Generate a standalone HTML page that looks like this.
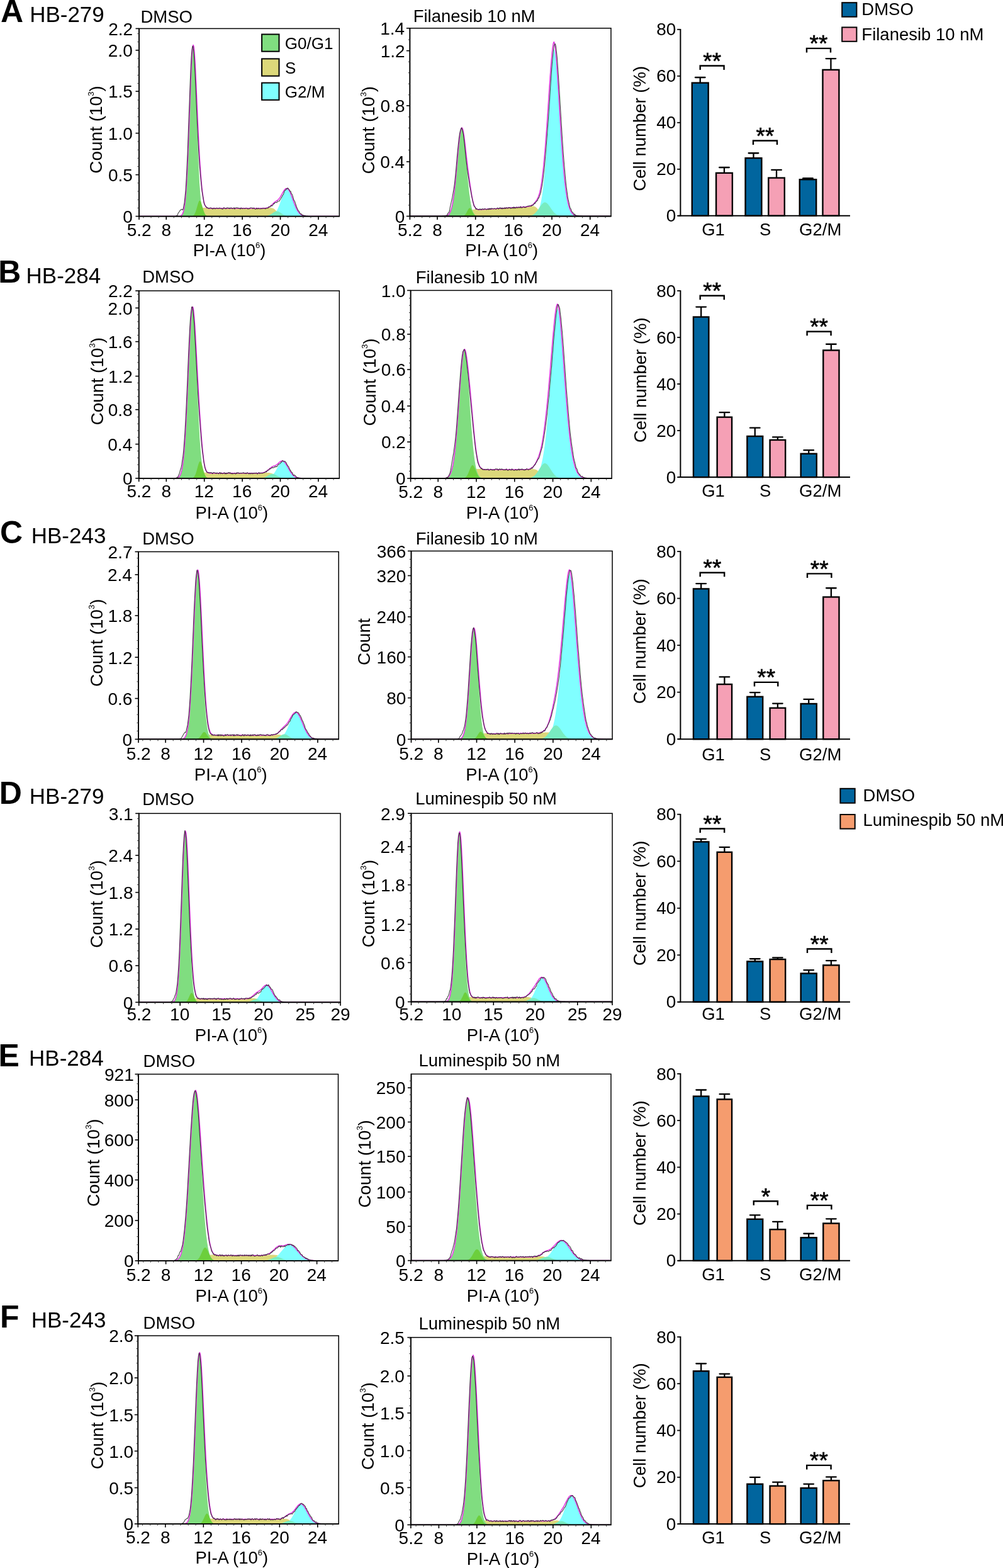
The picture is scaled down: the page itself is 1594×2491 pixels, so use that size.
<!DOCTYPE html>
<html><head><meta charset="utf-8"><title>Cell cycle analysis</title>
<style>html,body{margin:0;padding:0;background:#fff;}svg{display:block;}</style></head>
<body>
<svg xmlns="http://www.w3.org/2000/svg" width="1594" height="2491" viewBox="0 0 1594 2491" font-family="'Liberation Sans', Arial, sans-serif" fill="#000">
<rect width="1594" height="2491" fill="#fff"/>
<text x="1.05" y="35.30" font-size="50.00" font-weight="bold">A</text>
<text x="47.13" y="34.70" font-size="35.00">HB-279</text>
<text x="-2.74" y="449.20" font-size="50.00" font-weight="bold">B</text>
<text x="41.53" y="450.00" font-size="35.00">HB-284</text>
<text x="0.05" y="862.80" font-size="50.00" font-weight="bold">C</text>
<text x="49.73" y="862.70" font-size="35.00">HB-243</text>
<text x="-1.24" y="1277.00" font-size="50.00" font-weight="bold">D</text>
<text x="46.83" y="1277.00" font-size="35.00">HB-279</text>
<text x="-2.44" y="1693.80" font-size="50.00" font-weight="bold">E</text>
<text x="46.03" y="1693.00" font-size="35.00">HB-284</text>
<text x="-0.04" y="2109.20" font-size="50.00" font-weight="bold">F</text>
<text x="49.73" y="2109.00" font-size="35.00">HB-243</text>
<clipPath id="c1"><rect x="221.00" y="45.40" width="318.30" height="298.20"/></clipPath>
<g clip-path="url(#c1)">
<path d="M299,343.6L299,343.5 300,343.4 301,343.4 302,343.3 303,343.1 304,342.9 305,341.6 306,341.1 307,340.5 308,339.7 309,338.7 310,337.5 311,336.3 312,335.1 313,333.9 314,332.9 315,332.1 316,331.5 317,331 318,330.7 319,330.5 320,330.3 321,330.2 322,330.2 323,330.1 324,330.1 325,330 326,330 327,330 328,330 329,330.5 330,330.9 331,331.1 332,331.2 333,331.3 334,331.3 335,331.3 336,331.3 337,331.3 338,331.3 339,331.3 340,331.3 341,331.3 342,331.3 343,331.3 344,331.3 345,331.3 346,331.3 347,331.3 348,331.3 349,331.3 350,331.3 351,331.3 352,331.3 353,331.3 354,331.3 355,331.3 356,331.3 357,331.3 358,331.3 359,331.3 360,331.3 361,331.3 362,331.3 363,331.3 364,331.3 365,331.3 366,331.3 367,331.3 368,331.3 369,331.3 370,331.3 371,331.3 372,331.3 373,331.3 374,331.3 375,331.3 376,331.3 377,331.3 378,331.3 379,331.3 380,331.3 381,331.3 382,331.3 383,331.3 384,331.3 385,331.3 386,331.3 387,331.3 388,331.3 389,331.3 390,331.3 391,331.3 392,331.3 393,331.3 394,331.3 395,331.3 396,331.3 397,331.3 398,331.3 399,331.3 400,331.3 401,331.3 402,331.3 403,331.3 404,331.3 405,331.3 406,331.3 407,331.3 408,331.3 409,331.3 410,331.3 411,331.3 412,331.3 413,331.3 414,331.3 415,331.3 416,331.3 417,331.3 418,331.2 419,331.2 420,331.1 421,331.1 422,330.9 423,330.8 424,330.6 425,330.3 426,330 427,330.1 428,330.1 429,330.2 430,330.2 431,330.3 432,330.5 433,330.7 434,331 435,331.5 436,332.1 437,332.9 438,333.9 439,335.1 440,336.3 441,337.5 442,338.7 443,339.7 444,340.5 445,341.1 446,341.6 447,342.9 448,343.1 449,343.3 450,343.4 451,343.4 452,343.5 452,343.6 Z" fill="#dcd87a" stroke="none" stroke-width="1.00"/>
<path d="M285,343.6L285,343.5 286,343.4 287,343.1 288,342.8 289,342.1 290,340.9 291,339.1 292,336.2 293,331.8 294,325.5 295,316.6 296,304.6 297,289.1 298,269.8 299,246.7 300,220.5 301,192.2 302,163.1 303,135.2 304,110.6 305,91.2 306,78.9 307,74.6 308,78.9 309,91.2 310,110.6 311,135.2 312,163.1 313,192.2 314,220.5 315,246.7 316,269.8 317,289.1 318,304.6 319,316.6 320,325.5 321,331.8 322,336.2 323,339.1 324,340.9 325,342.1 326,342.8 327,343.1 328,343.4 329,343.5 329,343.6 Z" fill="#80dd80" stroke="none" stroke-width="1.00"/>
<path d="M425,343.6L425,343.5 426,343.4 427,343.3 428,343.2 429,343 430,342.8 431,342.6 432,342.2 433,341.8 434,341.2 435,340.5 436,339.6 437,338.6 438,337.4 439,335.9 440,334.3 441,332.4 442,330.3 443,328 444,325.5 445,322.8 446,320 447,317.2 448,314.4 449,311.7 450,309.1 451,306.8 452,304.8 453,303.1 454,301.9 455,301.1 456,300.9 457,301.1 458,301.9 459,303.1 460,304.8 461,306.8 462,309.1 463,311.7 464,314.4 465,317.2 466,320 467,322.8 468,325.5 469,328 470,330.3 471,332.4 472,334.3 473,335.9 474,337.4 475,338.6 476,339.6 477,340.5 478,341.2 479,341.8 480,342.2 481,342.6 482,342.8 483,343 484,343.2 485,343.3 486,343.4 487,343.5 487,343.6 Z" fill="#80ffff" stroke="none" stroke-width="1.00"/>
<path d="M304,343.6L304,343.5 305,343.3 306,343 307,342.5 308,341.7 309,340.4 310,338.5 311,336.1 312,333 313,329.5 314,325.9 315,322.7 316,320.1 317,318.8 318,318.8 319,320.1 320,322.7 321,325.9 322,329.5 323,333 324,336.1 325,338.5 326,340.4 327,341.7 328,342.5 329,343 330,343.3 331,343.5 331,343.6 Z" fill="#6ccf3c" stroke="none" stroke-width="1.00"/>
<path d="M420,343.6L420,343.5 421,343.4 422,343.3 423,343.2 424,343 425,342.8 426,342.5 427,342.2 428,341.8 429,341.3 430,340.7 431,340.1 432,339.4 433,338.7 434,338.1 435,337.4 436,336.8 437,336.3 438,335.9 439,335.7 440,335.6 441,335.7 442,335.9 443,336.3 444,336.8 445,337.4 446,338.1 447,338.7 448,339.4 449,340.1 450,340.7 451,341.3 452,341.8 453,342.2 454,342.5 455,342.8 456,343 457,343.2 458,343.3 459,343.4 460,343.5 460,343.6 Z" fill="#78ecc0" stroke="none" stroke-width="1.00"/>
<path d="M222,343.6 223,343.6 224,343.6 225,343.6 226,343.6 227,343.6 228,343.6 229,343.6 230,343.6 231,343.6 232,343.6 233,343.6 234,343.6 235,343.6 236,343.6 237,343.6 238,343.6 239,343.6 240,343.6 241,343.6 242,343.6 243,343.6 244,343.6 245,343.6 246,343.6 247,343.6 248,343.6 249,343.6 250,343.6 251,343.6 252,343.6 253,343.6 254,343.6 255,343.6 256,343.6 257,343.6 258,343.6 259,343.6 260,343.6 261,343.6 262,343.6 263,343.6 264,343.6 265,343.6 266,343.6 267,343.6 268,343.6 269,343.6 270,343.6 271,343.6 272,343.6 273,343.6 274,343.6 275,343.6 276,343.6 277,343.6 278,343.6 279,343.6 280,343.6 281,343.6 282,343.6 283,343.5 284,343.5 285,343.4 286,343.2 287,342.9 288,342.3 289,341.4 290,339.9 291,337.6 292,334.1 293,329 294,321.8 295,311.9 296,299 297,282.7 298,262.8 299,239.6 300,213.6 301,185.8 302,157.7 303,131 304,107.4 305,88.8 306,76.5 307,71.4 308,73.7 309,83 310,98.1 311,117.7 312,139.9 313,163.3 314,186.4 315,208.3 316,228.3 317,246.4 318,262.4 319,276.4 320,288.6 321,299 322,307.6 323,314.5 324,319.9 325,323.8 326,326.5 327,328.4 328,329.5 329,330.2 330,330.6 331,330.8 332,330.9 333,331 334,331 335,331 336,331 337,331 338,331 339,331 340,331 341,331 342,331 343,331 344,331 345,331 346,331 347,331 348,331 349,331 350,331 351,331 352,331 353,331 354,331 355,331 356,331 357,331 358,331 359,331 360,331 361,331 362,331 363,331 364,331 365,331 366,331 367,331 368,331 369,331 370,331 371,331 372,331 373,331 374,331 375,331 376,331 377,331 378,331 379,331 380,331 381,331 382,331 383,331 384,331 385,331 386,331 387,331 388,331 389,331 390,331 391,331 392,331 393,331 394,331 395,331 396,331 397,331 398,331 399,331 400,331 401,331 402,331 403,331 404,331 405,331 406,331 407,331 408,331 409,331 410,331 411,331 412,331 413,331 414,331 415,331 416,331 417,331 418,330.9 419,330.9 420,330.8 421,330.8 422,330.6 423,330.5 424,330.3 425,330 426,329.7 427,329.2 428,328.7 429,328.1 430,327.3 431,326.5 432,325.5 433,324.5 434,323.5 435,322.5 436,321.6 437,320.7 438,320 439,319.3 440,318.7 441,318.1 442,317.3 443,316.3 444,315.1 445,313.6 446,312 447,310.2 448,308.4 449,306.5 450,304.8 451,303.2 452,301.8 453,300.6 454,299.8 455,299.4 456,299.4 457,299.8 458,300.7 459,301.9 460,303.6 461,305.5 462,307.8 463,310.3 464,313 465,315.8 466,318.5 467,321.3 468,324 469,326.5 470,328.9 471,331.1 472,333 473,334.8 474,336.4 475,337.7 476,338.8 477,339.8 478,340.6 479,341.3 480,341.8 481,342.2 482,342.6 483,342.8 484,343 485,343.2 486,343.3 487,343.4 488,343.5 489,343.5 490,343.5 491,343.6 492,343.6 493,343.6 494,343.6 495,343.6 496,343.6 497,343.6 498,343.6 499,343.6 500,343.6 501,343.6 502,343.6 503,343.6 504,343.6 505,343.6 506,343.6 507,343.6 508,343.6 509,343.6 510,343.6 511,343.6 512,343.6 513,343.6 514,343.6 515,343.6 516,343.6 517,343.6 518,343.6 519,343.6 520,343.6 521,343.6 522,343.6 523,343.6 524,343.6 525,343.6 526,343.6 527,343.6 528,343.6 529,343.6 530,343.6 531,343.6 532,343.6 533,343.6 534,343.6 535,343.6 536,343.6 537,343.6 538,343.6" fill="none" stroke="#e030e0" stroke-width="1.50" stroke-linejoin="round"/>
<path d="M222,343.6 223,343.6 224,343.6 225,343.6 226,343.6 227,343.6 228,343.6 229,343.6 230,343.6 231,343.6 232,343.6 233,343.6 234,343.6 235,343.6 236,343.6 237,343.6 238,343.6 239,343.6 240,343.6 241,343.6 242,343.6 243,343.6 244,343.6 245,343.6 246,343.6 247,343.6 248,343.6 249,343.6 250,343.6 251,343.6 252,343.6 253,343.6 254,343.6 255,343.6 256,343.6 257,343.6 258,343.6 259,343.6 260,343.6 261,343.6 262,343.6 263,343.6 264,343.6 265,343.6 266,343.6 267,343.6 268,343.6 269,343.6 270,343.6 271,343.6 272,343.6 273,343.6 274,343.6 275,343.6 276,343.6 277,343.6 278,343.5 279,343.3 280,343 281,342.4 282,342.2 283,339 284,337.3 285,336.6 286,334.5 287,333.6 288,332.8 289,332.4 290,333.7 291,332.4 292,327.1 293,322.3 294,312.9 295,302.8 296,286.3 297,266.5 298,245.2 299,217.9 300,190.6 301,164.5 302,137.4 303,111.9 304,91.4 305,79.2 306,73.3 307,74.1 308,83.5 309,97.7 310,116.6 311,138.8 312,162.9 313,186.2 314,208 315,227.2 316,245 317,260.9 318,272.1 319,284.3 320,294.2 321,303.9 322,309.3 323,315.6 324,322 325,325 326,326.5 327,328.1 328,328.6 329,330.5 330,329.9 331,330.4 332,331.4 333,330.8 334,330.1 335,330.2 336,331 337,330.8 338,332.1 339,331.6 340,330.3 341,331.2 342,331.8 343,330.9 344,330.5 345,330.6 346,331.3 347,331.1 348,331 349,330.3 350,330.9 351,331.3 352,331 353,332.1 354,332.1 355,330.5 356,329.8 357,330.8 358,331.3 359,331.8 360,331 361,329.8 362,330.4 363,330.9 364,330.1 365,331.6 366,331 367,329.9 368,330.8 369,331.1 370,331.6 371,330.9 372,329.9 373,332.2 374,330.3 375,330.2 376,330.1 377,330.4 378,330.3 379,331 380,330.9 381,331.2 382,332.1 383,330.1 384,330.8 385,331.7 386,331 387,331 388,331.3 389,331.4 390,330.9 391,330.7 392,330.7 393,331.1 394,332.1 395,331.6 396,331.8 397,330.8 398,330.1 399,330.3 400,330.3 401,330.2 402,331.6 403,330.2 404,330.6 405,332 406,332.2 407,332.2 408,330.4 409,331.6 410,331.9 411,330.7 412,331.4 413,332 414,331.8 415,330.9 416,331.8 417,331.5 418,330.4 419,331 420,331.3 421,330.8 422,331.8 423,330.8 424,330.5 425,330.8 426,330.7 427,328.4 428,328.9 429,329 430,327.4 431,326.2 432,327.3 433,326.5 434,325.3 435,323.1 436,323.8 437,321.9 438,321.5 439,321.5 440,322 441,319.8 442,319.8 443,319.7 444,319.5 445,317.2 446,316.3 447,314.2 448,312.9 449,310.2 450,309.6 451,307.1 452,303.7 453,302.2 454,302.2 455,299.8 456,300.4 457,298.6 458,299.2 459,300.5 460,301.9 461,303.9 462,303.7 463,307.8 464,308.3 465,310.6 466,314.2 467,317.9 468,319 469,321.5 470,324.8 471,327.7 472,330.3 473,332.4 474,334.7 475,335.2 476,337.2 477,339 478,340.3 479,339.8 480,341.5 481,341.6 482,342 483,342.4 484,342.7 485,342.9 486,343.1 487,343.2 488,343.3 489,343.4 490,343.5 491,343.5 492,343.5 493,343.6 494,343.6 495,343.6 496,343.6 497,343.6 498,343.6 499,343.6 500,343.6 501,343.6 502,343.6 503,343.6 504,343.6 505,343.6 506,343.6 507,343.6 508,343.6 509,343.6 510,343.6 511,343.6 512,343.6 513,343.6 514,343.6 515,343.6 516,343.6 517,343.6 518,343.6 519,343.6 520,343.6 521,343.6 522,343.6 523,343.6 524,343.6 525,343.6 526,343.6 527,343.6 528,343.6 529,343.6 530,343.6 531,343.6 532,343.6 533,343.6 534,343.6 535,343.6 536,343.6 537,343.6 538,343.6" fill="none" stroke="#1a1a1a" stroke-width="1.10" stroke-linejoin="round" stroke-opacity="0.8"/>
</g>
<rect x="221.00" y="45.40" width="318.30" height="298.20" fill="none" stroke="#000" stroke-width="1.5"/>
<line x1="221.00" y1="44.90" x2="221.00" y2="344.10" stroke="#000" stroke-width="1.70"/>
<line x1="220.50" y1="343.60" x2="539.80" y2="343.60" stroke="#000" stroke-width="1.80"/>
<line x1="215.50" y1="45.40" x2="221.00" y2="45.40" stroke="#000" stroke-width="1.60"/>
<text x="172.18" y="55.70" font-size="28.00">2.2</text>
<line x1="215.50" y1="79.80" x2="221.00" y2="79.80" stroke="#000" stroke-width="1.60"/>
<text x="171.87" y="90.10" font-size="28.00">2.0</text>
<line x1="215.50" y1="145.10" x2="221.00" y2="145.10" stroke="#000" stroke-width="1.60"/>
<text x="171.95" y="155.40" font-size="28.00">1.5</text>
<line x1="215.50" y1="211.60" x2="221.00" y2="211.60" stroke="#000" stroke-width="1.60"/>
<text x="171.87" y="221.90" font-size="28.00">1.0</text>
<line x1="215.50" y1="277.60" x2="221.00" y2="277.60" stroke="#000" stroke-width="1.60"/>
<text x="171.95" y="287.90" font-size="28.00">0.5</text>
<line x1="215.50" y1="343.60" x2="221.00" y2="343.60" stroke="#000" stroke-width="1.60"/>
<text x="195.22" y="353.90" font-size="28.00">0</text>
<line x1="218.40" y1="330.41" x2="221.00" y2="330.41" stroke="#333" stroke-width="1.00"/>
<line x1="218.40" y1="317.22" x2="221.00" y2="317.22" stroke="#333" stroke-width="1.00"/>
<line x1="218.40" y1="304.03" x2="221.00" y2="304.03" stroke="#333" stroke-width="1.00"/>
<line x1="218.40" y1="290.84" x2="221.00" y2="290.84" stroke="#333" stroke-width="1.00"/>
<line x1="218.40" y1="264.46" x2="221.00" y2="264.46" stroke="#333" stroke-width="1.00"/>
<line x1="218.40" y1="251.27" x2="221.00" y2="251.27" stroke="#333" stroke-width="1.00"/>
<line x1="218.40" y1="238.08" x2="221.00" y2="238.08" stroke="#333" stroke-width="1.00"/>
<line x1="218.40" y1="224.89" x2="221.00" y2="224.89" stroke="#333" stroke-width="1.00"/>
<line x1="218.40" y1="198.51" x2="221.00" y2="198.51" stroke="#333" stroke-width="1.00"/>
<line x1="218.40" y1="185.32" x2="221.00" y2="185.32" stroke="#333" stroke-width="1.00"/>
<line x1="218.40" y1="172.13" x2="221.00" y2="172.13" stroke="#333" stroke-width="1.00"/>
<line x1="218.40" y1="158.94" x2="221.00" y2="158.94" stroke="#333" stroke-width="1.00"/>
<line x1="218.40" y1="132.56" x2="221.00" y2="132.56" stroke="#333" stroke-width="1.00"/>
<line x1="218.40" y1="119.37" x2="221.00" y2="119.37" stroke="#333" stroke-width="1.00"/>
<line x1="218.40" y1="106.18" x2="221.00" y2="106.18" stroke="#333" stroke-width="1.00"/>
<line x1="218.40" y1="92.99" x2="221.00" y2="92.99" stroke="#333" stroke-width="1.00"/>
<line x1="218.40" y1="66.61" x2="221.00" y2="66.61" stroke="#333" stroke-width="1.00"/>
<line x1="218.40" y1="53.42" x2="221.00" y2="53.42" stroke="#333" stroke-width="1.00"/>
<line x1="221.00" y1="343.60" x2="221.00" y2="349.10" stroke="#000" stroke-width="1.60"/>
<text x="201.68" y="374.60" font-size="28.00">5.2</text>
<line x1="264.20" y1="343.60" x2="264.20" y2="349.10" stroke="#000" stroke-width="1.60"/>
<text x="256.41" y="374.60" font-size="28.00">8</text>
<line x1="324.65" y1="343.60" x2="324.65" y2="349.10" stroke="#000" stroke-width="1.60"/>
<text x="308.72" y="374.60" font-size="28.00">12</text>
<line x1="385.10" y1="343.60" x2="385.10" y2="349.10" stroke="#000" stroke-width="1.60"/>
<text x="369.08" y="374.60" font-size="28.00">16</text>
<line x1="445.55" y1="343.60" x2="445.55" y2="349.10" stroke="#000" stroke-width="1.60"/>
<text x="429.82" y="374.60" font-size="28.00">20</text>
<line x1="506.00" y1="343.60" x2="506.00" y2="349.10" stroke="#000" stroke-width="1.60"/>
<text x="490.13" y="374.60" font-size="28.00">24</text>
<line x1="227.93" y1="343.60" x2="227.93" y2="346.40" stroke="#333" stroke-width="1.00"/>
<line x1="240.02" y1="343.60" x2="240.02" y2="346.40" stroke="#333" stroke-width="1.00"/>
<line x1="252.11" y1="343.60" x2="252.11" y2="346.40" stroke="#333" stroke-width="1.00"/>
<line x1="276.29" y1="343.60" x2="276.29" y2="346.40" stroke="#333" stroke-width="1.00"/>
<line x1="288.38" y1="343.60" x2="288.38" y2="346.40" stroke="#333" stroke-width="1.00"/>
<line x1="300.47" y1="343.60" x2="300.47" y2="346.40" stroke="#333" stroke-width="1.00"/>
<line x1="312.56" y1="343.60" x2="312.56" y2="346.40" stroke="#333" stroke-width="1.00"/>
<line x1="336.74" y1="343.60" x2="336.74" y2="346.40" stroke="#333" stroke-width="1.00"/>
<line x1="348.83" y1="343.60" x2="348.83" y2="346.40" stroke="#333" stroke-width="1.00"/>
<line x1="360.92" y1="343.60" x2="360.92" y2="346.40" stroke="#333" stroke-width="1.00"/>
<line x1="373.01" y1="343.60" x2="373.01" y2="346.40" stroke="#333" stroke-width="1.00"/>
<line x1="397.19" y1="343.60" x2="397.19" y2="346.40" stroke="#333" stroke-width="1.00"/>
<line x1="409.28" y1="343.60" x2="409.28" y2="346.40" stroke="#333" stroke-width="1.00"/>
<line x1="421.37" y1="343.60" x2="421.37" y2="346.40" stroke="#333" stroke-width="1.00"/>
<line x1="433.46" y1="343.60" x2="433.46" y2="346.40" stroke="#333" stroke-width="1.00"/>
<line x1="457.64" y1="343.60" x2="457.64" y2="346.40" stroke="#333" stroke-width="1.00"/>
<line x1="469.73" y1="343.60" x2="469.73" y2="346.40" stroke="#333" stroke-width="1.00"/>
<line x1="481.82" y1="343.60" x2="481.82" y2="346.40" stroke="#333" stroke-width="1.00"/>
<line x1="493.91" y1="343.60" x2="493.91" y2="346.40" stroke="#333" stroke-width="1.00"/>
<line x1="518.09" y1="343.60" x2="518.09" y2="346.40" stroke="#333" stroke-width="1.00"/>
<line x1="530.18" y1="343.60" x2="530.18" y2="346.40" stroke="#333" stroke-width="1.00"/>
<text x="223.44" y="36.00" font-size="27.50">DMSO</text>
<text transform="translate(162.10,206.00) rotate(-90)" x="-69.76" y="0" font-size="28">Count (10<tspan font-size="13" dy="-13">3</tspan><tspan dy="13">)</tspan></text>
<text x="306.74" y="407.10" font-size="27.50">PI-A (10<tspan font-size="13" dy="-13">6</tspan><tspan dy="13">)</tspan></text>
<clipPath id="c2"><rect x="651.40" y="44.80" width="319.60" height="298.70"/></clipPath>
<g clip-path="url(#c2)">
<path d="M734.4,343.5L734.4,343.4 735.4,343.3 736.4,343.2 737.4,343.1 738.4,342.9 739.4,342.6 740.4,341.2 741.4,340.7 742.4,340 743.4,339.2 744.4,338.3 745.4,337.4 746.4,336.4 747.4,335.5 748.4,334.8 749.4,334.2 750.4,333.7 751.4,333.3 752.4,333.1 753.4,332.8 754.4,332.7 755.4,332.5 756.4,332.4 757.4,332.3 758.4,332.7 759.4,333 760.4,333.1 761.4,333.2 762.4,333.2 763.4,333.2 764.4,333.1 765.4,333.1 766.4,333 767.4,333 768.4,332.9 769.4,332.9 770.4,332.8 771.4,332.8 772.4,332.7 773.4,332.6 774.4,332.6 775.4,332.5 776.4,332.5 777.4,332.4 778.4,332.3 779.4,332.3 780.4,332.2 781.4,332.2 782.4,332.1 783.4,332.1 784.4,332 785.4,331.9 786.4,331.9 787.4,331.8 788.4,331.8 789.4,331.7 790.4,331.6 791.4,331.6 792.4,331.5 793.4,331.5 794.4,331.4 795.4,331.3 796.4,331.3 797.4,331.2 798.4,331.2 799.4,331.1 800.4,331.1 801.4,331 802.4,330.9 803.4,330.9 804.4,330.8 805.4,330.8 806.4,330.7 807.4,330.6 808.4,330.6 809.4,330.5 810.4,330.5 811.4,330.4 812.4,330.4 813.4,330.3 814.4,330.2 815.4,330.2 816.4,330.1 817.4,330.1 818.4,330 819.4,329.9 820.4,329.9 821.4,329.8 822.4,329.8 823.4,329.7 824.4,329.6 825.4,329.6 826.4,329.5 827.4,329.5 828.4,329.4 829.4,329.3 830.4,329.3 831.4,329.2 832.4,329.2 833.4,329.1 834.4,329 835.4,328.9 836.4,328.8 837.4,328.7 838.4,328.6 839.4,328.4 840.4,328.2 841.4,328 842.4,327.7 843.4,327.3 844.4,327.3 845.4,327.3 846.4,327.4 847.4,327.5 848.4,327.7 849.4,327.9 850.4,328.3 851.4,328.9 852.4,329.7 853.4,330.8 854.4,332.1 855.4,333.6 856.4,335.1 857.4,336.7 858.4,338.1 859.4,339.2 860.4,340.2 861.4,340.8 862.4,341.4 863.4,342.7 864.4,343 865.4,343.1 866.4,343.3 867.4,343.3 868.4,343.4 868.4,343.5 Z" fill="#dcd87a" stroke="none" stroke-width="1.00"/>
<path d="M706.4,343.5L706.4,343.4 707.4,343.3 708.4,343.2 709.4,343.1 710.4,342.8 711.4,342.4 712.4,341.9 713.4,341.1 714.4,339.9 715.4,338.3 716.4,336.2 717.4,333.4 718.4,329.7 719.4,325.1 720.4,319.5 721.4,312.7 722.4,304.6 723.4,295.5 724.4,285.2 725.4,274.2 726.4,262.6 727.4,250.9 728.4,239.4 729.4,228.8 730.4,219.4 731.4,211.9 732.4,206.5 733.4,203.6 734.4,203.3 735.4,205.7 736.4,210.6 737.4,217.8 738.4,226.8 739.4,237.2 740.4,248.5 741.4,260.3 742.4,271.9 743.4,283.1 744.4,293.5 745.4,302.9 746.4,311.1 747.4,318.2 748.4,324.1 749.4,328.9 750.4,332.7 751.4,335.7 752.4,338 753.4,339.6 754.4,340.9 755.4,341.7 756.4,342.3 757.4,342.7 758.4,343 759.4,343.2 760.4,343.3 761.4,343.4 761.4,343.5 Z" fill="#80dd80" stroke="none" stroke-width="1.00"/>
<path d="M841.4,343.5L841.4,343.4 842.4,343.3 843.4,343.2 844.4,343.1 845.4,343 846.4,342.8 847.4,342.6 848.4,342.2 849.4,341.8 850.4,341.2 851.4,340.5 852.4,339.5 853.4,338.3 854.4,336.8 855.4,335 856.4,332.6 857.4,329.7 858.4,326.3 859.4,322.1 860.4,317.1 861.4,311.2 862.4,304.3 863.4,296.3 864.4,287.2 865.4,276.9 866.4,265.4 867.4,252.7 868.4,238.8 869.4,224 870.4,208.2 871.4,191.8 872.4,175.1 873.4,158.3 874.4,141.8 875.4,126.2 876.4,111.8 877.4,99.2 878.4,89 879.4,81.7 880.4,78.1 881.4,79.7 882.4,85.7 883.4,94.8 884.4,106.5 885.4,120.3 886.4,135.5 887.4,151.6 888.4,168.3 889.4,185.2 890.4,201.7 891.4,217.8 892.4,233 893.4,247.3 894.4,260.4 895.4,272.4 896.4,283.2 897.4,292.8 898.4,301.2 899.4,308.5 900.4,314.8 901.4,320.2 902.4,324.7 903.4,328.4 904.4,331.5 905.4,334.1 906.4,336.1 907.4,337.8 908.4,339.1 909.4,340.1 910.4,341 911.4,341.6 912.4,342.1 913.4,342.4 914.4,342.7 915.4,342.9 916.4,343.1 917.4,343.2 918.4,343.3 919.4,343.3 920.4,343.4 920.4,343.5 Z" fill="#80ffff" stroke="none" stroke-width="1.00"/>
<path d="M734.4,343.5L734.4,343.4 735.4,343.2 736.4,343 737.4,342.5 738.4,341.8 739.4,340.8 740.4,339.4 741.4,337.7 742.4,335.8 743.4,333.9 744.4,332.2 745.4,331 746.4,330.5 747.4,330.8 748.4,331.9 749.4,333.5 750.4,335.4 751.4,337.4 752.4,339.1 753.4,340.6 754.4,341.7 755.4,342.4 756.4,342.9 757.4,343.2 758.4,343.3 759.4,343.4 759.4,343.5 Z" fill="#6ccf3c" stroke="none" stroke-width="1.00"/>
<path d="M837.4,343.5L837.4,343.4 838.4,343.3 839.4,343.2 840.4,343.1 841.4,343 842.4,342.8 843.4,342.6 844.4,342.3 845.4,341.9 846.4,341.4 847.4,340.9 848.4,340.2 849.4,339.5 850.4,338.6 851.4,337.6 852.4,336.5 853.4,335.2 854.4,333.9 855.4,332.5 856.4,331 857.4,329.6 858.4,328.1 859.4,326.7 860.4,325.4 861.4,324.2 862.4,323.2 863.4,322.4 864.4,321.8 865.4,321.5 866.4,321.5 867.4,321.8 868.4,322.3 869.4,323 870.4,324 871.4,325.1 872.4,326.4 873.4,327.8 874.4,329.3 875.4,330.7 876.4,332.2 877.4,333.6 878.4,335 879.4,336.2 880.4,337.4 881.4,338.4 882.4,339.3 883.4,340.1 884.4,340.8 885.4,341.3 886.4,341.8 887.4,342.2 888.4,342.5 889.4,342.8 890.4,342.9 891.4,343.1 892.4,343.2 893.4,343.3 894.4,343.3 895.4,343.4 895.4,343.5 Z" fill="#78ecc0" stroke="none" stroke-width="1.00"/>
<path d="M652.4,343.5 653.4,343.5 654.4,343.5 655.4,343.5 656.4,343.5 657.4,343.5 658.4,343.5 659.4,343.5 660.4,343.5 661.4,343.5 662.4,343.5 663.4,343.5 664.4,343.5 665.4,343.5 666.4,343.5 667.4,343.5 668.4,343.5 669.4,343.5 670.4,343.5 671.4,343.5 672.4,343.5 673.4,343.5 674.4,343.5 675.4,343.5 676.4,343.5 677.4,343.5 678.4,343.5 679.4,343.5 680.4,343.5 681.4,343.5 682.4,343.5 683.4,343.5 684.4,343.5 685.4,343.5 686.4,343.5 687.4,343.5 688.4,343.5 689.4,343.5 690.4,343.5 691.4,343.5 692.4,343.5 693.4,343.5 694.4,343.5 695.4,343.5 696.4,343.5 697.4,343.5 698.4,343.5 699.4,343.5 700.4,343.5 701.4,343.5 702.4,343.5 703.4,343.5 704.4,343.4 705.4,343.4 706.4,343.3 707.4,343.2 708.4,343.1 709.4,342.9 710.4,342.5 711.4,342 712.4,341.3 713.4,340.3 714.4,338.9 715.4,337 716.4,334.6 717.4,331.4 718.4,327.4 719.4,322.4 720.4,316.4 721.4,309.3 722.4,301 723.4,291.8 724.4,281.6 725.4,270.7 726.4,259.5 727.4,248.2 728.4,237.2 729.4,227.2 730.4,218.3 731.4,211.2 732.4,206.2 733.4,203.4 734.4,203 735.4,205 736.4,209.3 737.4,215.4 738.4,223 739.4,231.6 740.4,240.6 741.4,249.6 742.4,258.3 743.4,266.6 744.4,274.3 745.4,281.6 746.4,288.6 747.4,295.4 748.4,301.9 749.4,308.1 750.4,313.8 751.4,318.7 752.4,322.8 753.4,326 754.4,328.4 755.4,330.1 756.4,331.2 757.4,331.9 758.4,332.4 759.4,332.7 760.4,332.8 761.4,332.9 762.4,332.9 763.4,332.9 764.4,332.8 765.4,332.8 766.4,332.7 767.4,332.7 768.4,332.6 769.4,332.6 770.4,332.5 771.4,332.5 772.4,332.4 773.4,332.3 774.4,332.3 775.4,332.2 776.4,332.2 777.4,332.1 778.4,332 779.4,332 780.4,331.9 781.4,331.9 782.4,331.8 783.4,331.8 784.4,331.7 785.4,331.6 786.4,331.6 787.4,331.5 788.4,331.5 789.4,331.4 790.4,331.3 791.4,331.3 792.4,331.2 793.4,331.2 794.4,331.1 795.4,331 796.4,331 797.4,330.9 798.4,330.9 799.4,330.8 800.4,330.8 801.4,330.7 802.4,330.6 803.4,330.6 804.4,330.5 805.4,330.5 806.4,330.4 807.4,330.3 808.4,330.3 809.4,330.2 810.4,330.2 811.4,330.1 812.4,330.1 813.4,330 814.4,329.9 815.4,329.9 816.4,329.8 817.4,329.8 818.4,329.7 819.4,329.6 820.4,329.6 821.4,329.5 822.4,329.5 823.4,329.4 824.4,329.3 825.4,329.3 826.4,329.2 827.4,329.2 828.4,329.1 829.4,329 830.4,329 831.4,328.9 832.4,328.9 833.4,328.8 834.4,328.7 835.4,328.6 836.4,328.5 837.4,328.4 838.4,328.3 839.4,328.1 840.4,327.9 841.4,327.7 842.4,327.4 843.4,327 844.4,326.5 845.4,326 846.4,325.3 847.4,324.5 848.4,323.6 849.4,322.5 850.4,321.3 851.4,320 852.4,318.5 853.4,316.8 854.4,315 855.4,312.8 856.4,310.1 857.4,306.9 858.4,302.8 859.4,297.9 860.4,291.9 861.4,284.9 862.4,277 863.4,268 864.4,258 865.4,247.1 866.4,235.3 867.4,222.5 868.4,209 869.4,194.8 870.4,180 871.4,164.8 872.4,149.6 873.4,134.5 874.4,119.9 875.4,106.2 876.4,93.8 877.4,83.1 878.4,74.6 879.4,68.9 880.4,66.5 881.4,69.2 882.4,75.8 883.4,85.3 884.4,97.3 885.4,111.1 886.4,126.3 887.4,142.4 888.4,159.1 889.4,175.9 890.4,192.5 891.4,208.7 892.4,224.1 893.4,238.7 894.4,252.2 895.4,264.7 896.4,276 897.4,286.1 898.4,295.1 899.4,303 900.4,309.9 901.4,315.8 902.4,320.9 903.4,325.1 904.4,328.7 905.4,331.7 906.4,334.1 907.4,336.1 908.4,337.7 909.4,339 910.4,340 911.4,340.8 912.4,341.5 913.4,342 914.4,342.4 915.4,342.6 916.4,342.9 917.4,343 918.4,343.2 919.4,343.3 920.4,343.3 921.4,343.4 922.4,343.4 923.4,343.4 924.4,343.5 925.4,343.5 926.4,343.5 927.4,343.5 928.4,343.5 929.4,343.5 930.4,343.5 931.4,343.5 932.4,343.5 933.4,343.5 934.4,343.5 935.4,343.5 936.4,343.5 937.4,343.5 938.4,343.5 939.4,343.5 940.4,343.5 941.4,343.5 942.4,343.5 943.4,343.5 944.4,343.5 945.4,343.5 946.4,343.5 947.4,343.5 948.4,343.5 949.4,343.5 950.4,343.5 951.4,343.5 952.4,343.5 953.4,343.5 954.4,343.5 955.4,343.5 956.4,343.5 957.4,343.5 958.4,343.5 959.4,343.5 960.4,343.5 961.4,343.5 962.4,343.5 963.4,343.5 964.4,343.5 965.4,343.5 966.4,343.5 967.4,343.5 968.4,343.5 969.4,343.5" fill="none" stroke="#e030e0" stroke-width="1.50" stroke-linejoin="round"/>
<path d="M652.4,343.5 653.4,343.5 654.4,343.5 655.4,343.5 656.4,343.5 657.4,343.5 658.4,343.5 659.4,343.5 660.4,343.5 661.4,343.5 662.4,343.5 663.4,343.5 664.4,343.5 665.4,343.5 666.4,343.5 667.4,343.5 668.4,343.5 669.4,343.5 670.4,343.5 671.4,343.5 672.4,343.5 673.4,343.5 674.4,343.5 675.4,343.5 676.4,343.5 677.4,343.5 678.4,343.5 679.4,343.5 680.4,343.5 681.4,343.5 682.4,343.5 683.4,343.5 684.4,343.5 685.4,343.5 686.4,343.5 687.4,343.5 688.4,343.5 689.4,343.5 690.4,343.5 691.4,343.5 692.4,343.5 693.4,343.5 694.4,343.5 695.4,343.5 696.4,343.5 697.4,343.5 698.4,343.5 699.4,343.5 700.4,343.5 701.4,343.5 702.4,343.5 703.4,343.4 704.4,343.4 705.4,343.4 706.4,343.3 707.4,343.1 708.4,342.9 709.4,342.5 710.4,341.8 711.4,339.6 712.4,338 713.4,337.8 714.4,334.5 715.4,328.8 716.4,324.6 717.4,320 718.4,316 719.4,310.2 720.4,304.7 721.4,298.4 722.4,291.8 723.4,282.3 724.4,272.4 725.4,260.8 726.4,249.1 727.4,238.2 728.4,229 729.4,220.1 730.4,213.1 731.4,208.1 732.4,204.9 733.4,203.1 734.4,205.1 735.4,208.8 736.4,213.5 737.4,222 738.4,230.6 739.4,240.8 740.4,250.7 741.4,259.1 742.4,268 743.4,274.9 744.4,280.8 745.4,288 746.4,295.3 747.4,299.5 748.4,305.4 749.4,311 750.4,315.5 751.4,320.2 752.4,323.7 753.4,327.5 754.4,328.1 755.4,329.6 756.4,332.5 757.4,331.6 758.4,332.1 759.4,332.9 760.4,332.8 761.4,332.9 762.4,331.9 763.4,332.9 764.4,332 765.4,333.1 766.4,331.8 767.4,331.7 768.4,332.7 769.4,332.4 770.4,331.5 771.4,331.9 772.4,332.4 773.4,333 774.4,332.7 775.4,331.7 776.4,333 777.4,331.1 778.4,332.6 779.4,331 780.4,332.4 781.4,330.8 782.4,331.3 783.4,331.7 784.4,331.7 785.4,331.3 786.4,331.4 787.4,332 788.4,332.2 789.4,331.4 790.4,330.3 791.4,331 792.4,332.2 793.4,330.4 794.4,330.6 795.4,330.1 796.4,331.7 797.4,330.3 798.4,331.9 799.4,330.4 800.4,331.3 801.4,331.4 802.4,329.7 803.4,331.5 804.4,330.5 805.4,329.6 806.4,331 807.4,331 808.4,329.4 809.4,330.4 810.4,329.6 811.4,331.2 812.4,330.4 813.4,330.8 814.4,329.5 815.4,330.9 816.4,328.7 817.4,330.9 818.4,329.2 819.4,330.8 820.4,330.2 821.4,328.8 822.4,330.3 823.4,330.2 824.4,328.9 825.4,329.6 826.4,330.3 827.4,328 828.4,329.9 829.4,330.2 830.4,329.4 831.4,328.6 832.4,328.3 833.4,329.7 834.4,329.1 835.4,329.8 836.4,328.7 837.4,327.8 838.4,327.7 839.4,327.2 840.4,327.4 841.4,326.9 842.4,327 843.4,327.2 844.4,327.4 845.4,325.9 846.4,326.1 847.4,326 848.4,324.4 849.4,322.4 850.4,323.3 851.4,321.1 852.4,320.4 853.4,318.9 854.4,318.4 855.4,314.9 856.4,314.6 857.4,311.4 858.4,308.7 859.4,305.8 860.4,299.8 861.4,295.2 862.4,288.9 863.4,281.5 864.4,272.9 865.4,263.9 866.4,252.4 867.4,241.7 868.4,228.6 869.4,215.9 870.4,202.2 871.4,189.7 872.4,174.5 873.4,159.9 874.4,144 875.4,129.1 876.4,114.4 877.4,101.5 878.4,90.8 879.4,80.6 880.4,73 881.4,70 882.4,69.7 883.4,73.5 884.4,82.2 885.4,91.4 886.4,105.3 887.4,120.1 888.4,135.5 889.4,151.8 890.4,168.5 891.4,184.4 892.4,200.9 893.4,217.1 894.4,231.3 895.4,246.4 896.4,257.7 897.4,269.4 898.4,280.7 899.4,290.9 900.4,299.2 901.4,306.4 902.4,314 903.4,318.6 904.4,323 905.4,327.8 906.4,331.2 907.4,332.2 908.4,335.5 909.4,336.9 910.4,337.4 911.4,339.3 912.4,341 913.4,340 914.4,341.7 915.4,342.2 916.4,342.5 917.4,342.8 918.4,343 919.4,343.1 920.4,343.2 921.4,343.3 922.4,343.4 923.4,343.4 924.4,343.4 925.4,343.4 926.4,343.5 927.4,343.5 928.4,343.5 929.4,343.5 930.4,343.5 931.4,343.5 932.4,343.5 933.4,343.5 934.4,343.5 935.4,343.5 936.4,343.5 937.4,343.5 938.4,343.5 939.4,343.5 940.4,343.5 941.4,343.5 942.4,343.5 943.4,343.5 944.4,343.5 945.4,343.5 946.4,343.5 947.4,343.5 948.4,343.5 949.4,343.5 950.4,343.5 951.4,343.5 952.4,343.5 953.4,343.5 954.4,343.5 955.4,343.5 956.4,343.5 957.4,343.5 958.4,343.5 959.4,343.5 960.4,343.5 961.4,343.5 962.4,343.5 963.4,343.5 964.4,343.5 965.4,343.5 966.4,343.5 967.4,343.5 968.4,343.5 969.4,343.5" fill="none" stroke="#1a1a1a" stroke-width="1.10" stroke-linejoin="round" stroke-opacity="0.8"/>
</g>
<rect x="651.40" y="44.80" width="319.60" height="298.70" fill="none" stroke="#000" stroke-width="1.5"/>
<line x1="651.40" y1="44.30" x2="651.40" y2="344.00" stroke="#000" stroke-width="1.70"/>
<line x1="650.90" y1="343.50" x2="971.50" y2="343.50" stroke="#000" stroke-width="1.80"/>
<line x1="645.90" y1="44.80" x2="651.40" y2="44.80" stroke="#000" stroke-width="1.60"/>
<text x="604.20" y="55.10" font-size="28.00">1.4</text>
<line x1="645.90" y1="80.60" x2="651.40" y2="80.60" stroke="#000" stroke-width="1.60"/>
<text x="604.78" y="90.90" font-size="28.00">1.2</text>
<line x1="645.90" y1="167.90" x2="651.40" y2="167.90" stroke="#000" stroke-width="1.60"/>
<text x="604.59" y="178.20" font-size="28.00">0.8</text>
<line x1="645.90" y1="256.90" x2="651.40" y2="256.90" stroke="#000" stroke-width="1.60"/>
<text x="604.20" y="267.20" font-size="28.00">0.4</text>
<line x1="645.90" y1="343.50" x2="651.40" y2="343.50" stroke="#000" stroke-width="1.60"/>
<text x="627.82" y="353.80" font-size="28.00">0</text>
<line x1="648.80" y1="325.97" x2="651.40" y2="325.97" stroke="#333" stroke-width="1.00"/>
<line x1="648.80" y1="308.45" x2="651.40" y2="308.45" stroke="#333" stroke-width="1.00"/>
<line x1="648.80" y1="290.92" x2="651.40" y2="290.92" stroke="#333" stroke-width="1.00"/>
<line x1="648.80" y1="273.39" x2="651.40" y2="273.39" stroke="#333" stroke-width="1.00"/>
<line x1="648.80" y1="238.34" x2="651.40" y2="238.34" stroke="#333" stroke-width="1.00"/>
<line x1="648.80" y1="220.81" x2="651.40" y2="220.81" stroke="#333" stroke-width="1.00"/>
<line x1="648.80" y1="203.29" x2="651.40" y2="203.29" stroke="#333" stroke-width="1.00"/>
<line x1="648.80" y1="185.76" x2="651.40" y2="185.76" stroke="#333" stroke-width="1.00"/>
<line x1="648.80" y1="150.71" x2="651.40" y2="150.71" stroke="#333" stroke-width="1.00"/>
<line x1="648.80" y1="133.18" x2="651.40" y2="133.18" stroke="#333" stroke-width="1.00"/>
<line x1="648.80" y1="115.65" x2="651.40" y2="115.65" stroke="#333" stroke-width="1.00"/>
<line x1="648.80" y1="98.13" x2="651.40" y2="98.13" stroke="#333" stroke-width="1.00"/>
<line x1="648.80" y1="63.07" x2="651.40" y2="63.07" stroke="#333" stroke-width="1.00"/>
<line x1="651.40" y1="343.50" x2="651.40" y2="349.00" stroke="#000" stroke-width="1.60"/>
<text x="632.08" y="374.50" font-size="28.00">5.2</text>
<line x1="695.00" y1="343.50" x2="695.00" y2="349.00" stroke="#000" stroke-width="1.60"/>
<text x="687.21" y="374.50" font-size="28.00">8</text>
<line x1="755.70" y1="343.50" x2="755.70" y2="349.00" stroke="#000" stroke-width="1.60"/>
<text x="739.77" y="374.50" font-size="28.00">12</text>
<line x1="816.40" y1="343.50" x2="816.40" y2="349.00" stroke="#000" stroke-width="1.60"/>
<text x="800.38" y="374.50" font-size="28.00">16</text>
<line x1="877.10" y1="343.50" x2="877.10" y2="349.00" stroke="#000" stroke-width="1.60"/>
<text x="861.37" y="374.50" font-size="28.00">20</text>
<line x1="937.80" y1="343.50" x2="937.80" y2="349.00" stroke="#000" stroke-width="1.60"/>
<text x="921.93" y="374.50" font-size="28.00">24</text>
<line x1="658.58" y1="343.50" x2="658.58" y2="346.30" stroke="#333" stroke-width="1.00"/>
<line x1="670.72" y1="343.50" x2="670.72" y2="346.30" stroke="#333" stroke-width="1.00"/>
<line x1="682.86" y1="343.50" x2="682.86" y2="346.30" stroke="#333" stroke-width="1.00"/>
<line x1="707.14" y1="343.50" x2="707.14" y2="346.30" stroke="#333" stroke-width="1.00"/>
<line x1="719.28" y1="343.50" x2="719.28" y2="346.30" stroke="#333" stroke-width="1.00"/>
<line x1="731.42" y1="343.50" x2="731.42" y2="346.30" stroke="#333" stroke-width="1.00"/>
<line x1="743.56" y1="343.50" x2="743.56" y2="346.30" stroke="#333" stroke-width="1.00"/>
<line x1="767.84" y1="343.50" x2="767.84" y2="346.30" stroke="#333" stroke-width="1.00"/>
<line x1="779.98" y1="343.50" x2="779.98" y2="346.30" stroke="#333" stroke-width="1.00"/>
<line x1="792.12" y1="343.50" x2="792.12" y2="346.30" stroke="#333" stroke-width="1.00"/>
<line x1="804.26" y1="343.50" x2="804.26" y2="346.30" stroke="#333" stroke-width="1.00"/>
<line x1="828.54" y1="343.50" x2="828.54" y2="346.30" stroke="#333" stroke-width="1.00"/>
<line x1="840.68" y1="343.50" x2="840.68" y2="346.30" stroke="#333" stroke-width="1.00"/>
<line x1="852.82" y1="343.50" x2="852.82" y2="346.30" stroke="#333" stroke-width="1.00"/>
<line x1="864.96" y1="343.50" x2="864.96" y2="346.30" stroke="#333" stroke-width="1.00"/>
<line x1="889.24" y1="343.50" x2="889.24" y2="346.30" stroke="#333" stroke-width="1.00"/>
<line x1="901.38" y1="343.50" x2="901.38" y2="346.30" stroke="#333" stroke-width="1.00"/>
<line x1="913.52" y1="343.50" x2="913.52" y2="346.30" stroke="#333" stroke-width="1.00"/>
<line x1="925.66" y1="343.50" x2="925.66" y2="346.30" stroke="#333" stroke-width="1.00"/>
<line x1="949.94" y1="343.50" x2="949.94" y2="346.30" stroke="#333" stroke-width="1.00"/>
<line x1="962.08" y1="343.50" x2="962.08" y2="346.30" stroke="#333" stroke-width="1.00"/>
<text x="656.64" y="35.20" font-size="27.50">Filanesib 10 nM</text>
<text transform="translate(595.30,206.80) rotate(-90)" x="-69.76" y="0" font-size="28">Count (10<tspan font-size="13" dy="-13">3</tspan><tspan dy="13">)</tspan></text>
<text x="739.34" y="407.10" font-size="27.50">PI-A (10<tspan font-size="13" dy="-13">6</tspan><tspan dy="13">)</tspan></text>
<clipPath id="c3"><rect x="220.70" y="462.00" width="318.60" height="297.80"/></clipPath>
<g clip-path="url(#c3)">
<path d="M301.7,759.8L301.7,759.7 302.7,759.6 303.7,759.5 304.7,759.4 305.7,759.2 306.7,758.9 307.7,757.6 308.7,757.1 309.7,756.5 310.7,755.8 311.7,755 312.7,754.2 313.7,753.5 314.7,752.8 315.7,752.3 316.7,751.9 317.7,751.5 318.7,751.3 319.7,751.2 320.7,751 321.7,751 322.7,750.9 323.7,750.9 324.7,750.8 325.7,750.8 326.7,750.8 327.7,750.8 328.7,750.8 329.7,750.8 330.7,751.3 331.7,751.6 332.7,751.9 333.7,752 334.7,752 335.7,752.1 336.7,752.1 337.7,752.1 338.7,752.1 339.7,752.1 340.7,752.1 341.7,752.1 342.7,752.1 343.7,752.1 344.7,752.1 345.7,752.1 346.7,752.1 347.7,752.1 348.7,752.1 349.7,752.1 350.7,752.1 351.7,752.1 352.7,752.1 353.7,752.1 354.7,752.1 355.7,752.1 356.7,752.1 357.7,752.1 358.7,752.1 359.7,752.1 360.7,752.1 361.7,752.1 362.7,752.1 363.7,752.1 364.7,752.1 365.7,752.1 366.7,752.1 367.7,752.1 368.7,752.1 369.7,752.1 370.7,752.1 371.7,752.1 372.7,752.1 373.7,752.1 374.7,752.1 375.7,752.1 376.7,752.1 377.7,752.1 378.7,752.1 379.7,752.1 380.7,752.1 381.7,752.1 382.7,752.1 383.7,752.1 384.7,752.1 385.7,752.1 386.7,752.1 387.7,752.1 388.7,752.1 389.7,752.1 390.7,752.1 391.7,752.1 392.7,752.1 393.7,752.1 394.7,752.1 395.7,752.1 396.7,752.1 397.7,752.1 398.7,752.1 399.7,752.1 400.7,752.1 401.7,752.1 402.7,752.1 403.7,752.1 404.7,752.1 405.7,752.1 406.7,752.1 407.7,752.1 408.7,752.1 409.7,752.1 410.7,752.1 411.7,752 412.7,752 413.7,751.9 414.7,751.9 415.7,751.7 416.7,751.6 417.7,751.4 418.7,751.1 419.7,750.8 420.7,750.8 421.7,750.8 422.7,750.8 423.7,750.9 424.7,750.9 425.7,750.9 426.7,751 427.7,751.1 428.7,751.2 429.7,751.4 430.7,751.7 431.7,752 432.7,752.5 433.7,753.1 434.7,753.8 435.7,754.6 436.7,755.4 437.7,756.1 438.7,756.8 439.7,757.3 440.7,757.7 441.7,759.1 442.7,759.3 443.7,759.4 444.7,759.6 445.7,759.6 446.7,759.7 446.7,759.8 Z" fill="#dcd87a" stroke="none" stroke-width="1.00"/>
<path d="M279.7,759.8L279.7,759.7 280.7,759.6 281.7,759.4 282.7,759.1 283.7,758.7 284.7,758 285.7,757 286.7,755.5 287.7,753.2 288.7,750 289.7,745.6 290.7,739.7 291.7,731.8 292.7,721.8 293.7,709.3 294.7,694.1 295.7,676.3 296.7,656 297.7,633.5 298.7,609.6 299.7,585.1 300.7,561 301.7,538.7 302.7,519.2 303.7,503.7 304.7,493.3 305.7,488.5 306.7,489.7 307.7,496.8 308.7,509.3 309.7,526.5 310.7,547.3 311.7,570.5 312.7,594.9 313.7,619.3 314.7,642.7 315.7,664.4 316.7,683.7 317.7,700.5 318.7,714.6 319.7,726.1 320.7,735.2 321.7,742.3 322.7,747.6 323.7,751.5 324.7,754.2 325.7,756.2 326.7,757.5 327.7,758.4 328.7,758.9 329.7,759.3 330.7,759.5 331.7,759.6 332.7,759.7 332.7,759.8 Z" fill="#80dd80" stroke="none" stroke-width="1.00"/>
<path d="M420.7,759.8L420.7,759.7 421.7,759.6 422.7,759.5 423.7,759.4 424.7,759.3 425.7,759.1 426.7,758.8 427.7,758.5 428.7,758.1 429.7,757.6 430.7,757 431.7,756.2 432.7,755.4 433.7,754.3 434.7,753.1 435.7,751.8 436.7,750.3 437.7,748.6 438.7,746.9 439.7,745.1 440.7,743.2 441.7,741.4 442.7,739.6 443.7,738 444.7,736.5 445.7,735.3 446.7,734.3 447.7,733.7 448.7,733.4 449.7,733.4 450.7,733.8 451.7,734.5 452.7,735.5 453.7,736.8 454.7,738.3 455.7,740 456.7,741.8 457.7,743.6 458.7,745.4 459.7,747.2 460.7,749 461.7,750.6 462.7,752 463.7,753.4 464.7,754.5 465.7,755.5 466.7,756.4 467.7,757.1 468.7,757.7 469.7,758.2 470.7,758.6 471.7,758.9 472.7,759.1 473.7,759.3 474.7,759.5 475.7,759.6 476.7,759.6 477.7,759.7 477.7,759.8 Z" fill="#80ffff" stroke="none" stroke-width="1.00"/>
<path d="M303.7,759.8L303.7,759.7 304.7,759.6 305.7,759.3 306.7,758.9 307.7,758.3 308.7,757.2 309.7,755.6 310.7,753.4 311.7,750.6 312.7,747.2 313.7,743.4 314.7,739.7 315.7,736.4 316.7,734 317.7,732.9 318.7,733.2 319.7,734.8 320.7,737.6 321.7,741.2 322.7,744.9 323.7,748.6 324.7,751.8 325.7,754.4 326.7,756.3 327.7,757.7 328.7,758.6 329.7,759.1 330.7,759.5 331.7,759.6 332.7,759.7 332.7,759.8 Z" fill="#6ccf3c" stroke="none" stroke-width="1.00"/>
<path d="M412.7,759.8L412.7,759.7 413.7,759.6 414.7,759.6 415.7,759.5 416.7,759.3 417.7,759.2 418.7,758.9 419.7,758.6 420.7,758.3 421.7,757.9 422.7,757.4 423.7,756.9 424.7,756.3 425.7,755.7 426.7,755.1 427.7,754.5 428.7,754 429.7,753.5 430.7,753.2 431.7,752.9 432.7,752.8 433.7,752.8 434.7,753 435.7,753.3 436.7,753.7 437.7,754.2 438.7,754.8 439.7,755.4 440.7,756 441.7,756.6 442.7,757.1 443.7,757.6 444.7,758.1 445.7,758.5 446.7,758.8 447.7,759 448.7,759.2 449.7,759.4 450.7,759.5 451.7,759.6 452.7,759.7 452.7,759.8 Z" fill="#78ecc0" stroke="none" stroke-width="1.00"/>
<path d="M221.7,759.8 222.7,759.8 223.7,759.8 224.7,759.8 225.7,759.8 226.7,759.8 227.7,759.8 228.7,759.8 229.7,759.8 230.7,759.8 231.7,759.8 232.7,759.8 233.7,759.8 234.7,759.8 235.7,759.8 236.7,759.8 237.7,759.8 238.7,759.8 239.7,759.8 240.7,759.8 241.7,759.8 242.7,759.8 243.7,759.8 244.7,759.8 245.7,759.8 246.7,759.8 247.7,759.8 248.7,759.8 249.7,759.8 250.7,759.8 251.7,759.8 252.7,759.8 253.7,759.8 254.7,759.8 255.7,759.8 256.7,759.8 257.7,759.8 258.7,759.8 259.7,759.8 260.7,759.8 261.7,759.8 262.7,759.8 263.7,759.8 264.7,759.8 265.7,759.8 266.7,759.8 267.7,759.8 268.7,759.8 269.7,759.8 270.7,759.8 271.7,759.8 272.7,759.8 273.7,759.8 274.7,759.8 275.7,759.8 276.7,759.8 277.7,759.7 278.7,759.7 279.7,759.6 280.7,759.4 281.7,759.2 282.7,758.8 283.7,758.2 284.7,757.3 285.7,756 286.7,754.1 287.7,751.3 288.7,747.5 289.7,742.4 290.7,735.7 291.7,727.1 292.7,716.3 293.7,703.1 294.7,687.4 295.7,669.2 296.7,648.8 297.7,626.7 298.7,603.3 299.7,579.6 300.7,556.6 301.7,535.4 302.7,516.9 303.7,502.3 304.7,492.3 305.7,487.4 306.7,487.9 307.7,493.5 308.7,503.7 309.7,517.6 310.7,534.3 311.7,552.8 312.7,572 313.7,591.1 314.7,609.6 315.7,627.3 316.7,644 317.7,659.8 318.7,674.5 319.7,688.3 320.7,700.9 321.7,712.1 322.7,721.9 323.7,730.1 324.7,736.6 325.7,741.5 326.7,745.1 327.7,747.6 328.7,749.3 329.7,750.3 330.7,751 331.7,751.3 332.7,751.6 333.7,751.7 334.7,751.7 335.7,751.8 336.7,751.8 337.7,751.8 338.7,751.8 339.7,751.8 340.7,751.8 341.7,751.8 342.7,751.8 343.7,751.8 344.7,751.8 345.7,751.8 346.7,751.8 347.7,751.8 348.7,751.8 349.7,751.8 350.7,751.8 351.7,751.8 352.7,751.8 353.7,751.8 354.7,751.8 355.7,751.8 356.7,751.8 357.7,751.8 358.7,751.8 359.7,751.8 360.7,751.8 361.7,751.8 362.7,751.8 363.7,751.8 364.7,751.8 365.7,751.8 366.7,751.8 367.7,751.8 368.7,751.8 369.7,751.8 370.7,751.8 371.7,751.8 372.7,751.8 373.7,751.8 374.7,751.8 375.7,751.8 376.7,751.8 377.7,751.8 378.7,751.8 379.7,751.8 380.7,751.8 381.7,751.8 382.7,751.8 383.7,751.8 384.7,751.8 385.7,751.8 386.7,751.8 387.7,751.8 388.7,751.8 389.7,751.8 390.7,751.8 391.7,751.8 392.7,751.8 393.7,751.8 394.7,751.8 395.7,751.8 396.7,751.8 397.7,751.8 398.7,751.8 399.7,751.8 400.7,751.8 401.7,751.8 402.7,751.8 403.7,751.8 404.7,751.8 405.7,751.8 406.7,751.8 407.7,751.8 408.7,751.8 409.7,751.8 410.7,751.8 411.7,751.7 412.7,751.7 413.7,751.6 414.7,751.6 415.7,751.4 416.7,751.3 417.7,751.1 418.7,750.8 419.7,750.5 420.7,750.1 421.7,749.7 422.7,749.1 423.7,748.5 424.7,747.7 425.7,746.9 426.7,746.1 427.7,745.2 428.7,744.3 429.7,743.5 430.7,742.7 431.7,742 432.7,741.4 433.7,740.9 434.7,740.5 435.7,740.1 436.7,739.8 437.7,739.4 438.7,738.9 439.7,738.2 440.7,737.5 441.7,736.6 442.7,735.6 443.7,734.7 444.7,733.9 445.7,733.1 446.7,732.6 447.7,732.3 448.7,732.2 449.7,732.4 450.7,732.9 451.7,733.7 452.7,734.7 453.7,736 454.7,737.5 455.7,739.1 456.7,740.9 457.7,742.7 458.7,744.5 459.7,746.3 460.7,748 461.7,749.7 462.7,751.2 463.7,752.6 464.7,753.8 465.7,754.9 466.7,755.8 467.7,756.6 468.7,757.3 469.7,757.8 470.7,758.3 471.7,758.6 472.7,758.9 473.7,759.2 474.7,759.3 475.7,759.5 476.7,759.6 477.7,759.6 478.7,759.7 479.7,759.7 480.7,759.7 481.7,759.8 482.7,759.8 483.7,759.8 484.7,759.8 485.7,759.8 486.7,759.8 487.7,759.8 488.7,759.8 489.7,759.8 490.7,759.8 491.7,759.8 492.7,759.8 493.7,759.8 494.7,759.8 495.7,759.8 496.7,759.8 497.7,759.8 498.7,759.8 499.7,759.8 500.7,759.8 501.7,759.8 502.7,759.8 503.7,759.8 504.7,759.8 505.7,759.8 506.7,759.8 507.7,759.8 508.7,759.8 509.7,759.8 510.7,759.8 511.7,759.8 512.7,759.8 513.7,759.8 514.7,759.8 515.7,759.8 516.7,759.8 517.7,759.8 518.7,759.8 519.7,759.8 520.7,759.8 521.7,759.8 522.7,759.8 523.7,759.8 524.7,759.8 525.7,759.8 526.7,759.8 527.7,759.8 528.7,759.8 529.7,759.8 530.7,759.8 531.7,759.8 532.7,759.8 533.7,759.8 534.7,759.8 535.7,759.8 536.7,759.8 537.7,759.8" fill="none" stroke="#e030e0" stroke-width="1.50" stroke-linejoin="round"/>
<path d="M221.7,759.8 222.7,759.8 223.7,759.8 224.7,759.8 225.7,759.8 226.7,759.8 227.7,759.8 228.7,759.8 229.7,759.8 230.7,759.8 231.7,759.8 232.7,759.8 233.7,759.8 234.7,759.8 235.7,759.8 236.7,759.8 237.7,759.8 238.7,759.8 239.7,759.8 240.7,759.8 241.7,759.8 242.7,759.8 243.7,759.8 244.7,759.8 245.7,759.8 246.7,759.8 247.7,759.8 248.7,759.8 249.7,759.8 250.7,759.8 251.7,759.8 252.7,759.8 253.7,759.8 254.7,759.8 255.7,759.8 256.7,759.8 257.7,759.8 258.7,759.8 259.7,759.8 260.7,759.8 261.7,759.8 262.7,759.8 263.7,759.8 264.7,759.8 265.7,759.8 266.7,759.8 267.7,759.8 268.7,759.8 269.7,759.8 270.7,759.8 271.7,759.8 272.7,759.8 273.7,759.8 274.7,759.8 275.7,759.8 276.7,759.7 277.7,759.7 278.7,759.6 279.7,759.3 280.7,758.9 281.7,758.2 282.7,757.7 283.7,755.3 284.7,753.3 285.7,749.8 286.7,746.2 287.7,743.5 288.7,738.9 289.7,731.3 290.7,725.6 291.7,716.5 292.7,703 293.7,689.8 294.7,671.7 295.7,652.9 296.7,630.8 297.7,608.9 298.7,584 299.7,560.3 300.7,539.4 301.7,519.8 302.7,504.6 303.7,495.1 304.7,487.6 305.7,487.6 306.7,493.2 307.7,503.6 308.7,515.4 309.7,533.2 310.7,551.3 311.7,570.5 312.7,590.4 313.7,608.5 314.7,627.3 315.7,642.4 316.7,658.1 317.7,670.7 318.7,683.6 319.7,697.3 320.7,708.2 321.7,717.8 322.7,724.5 323.7,733 324.7,738.2 325.7,743.4 326.7,746 327.7,748.5 328.7,750.1 329.7,750.4 330.7,750.9 331.7,750.5 332.7,751.2 333.7,750.7 334.7,750.9 335.7,750.6 336.7,751.4 337.7,752.6 338.7,750.9 339.7,750.7 340.7,750.8 341.7,751.6 342.7,751.3 343.7,752.5 344.7,751 345.7,751.6 346.7,752.3 347.7,752.8 348.7,751 349.7,750.6 350.7,752.8 351.7,751.1 352.7,752 353.7,752.6 354.7,752.3 355.7,751.2 356.7,750.9 357.7,752.9 358.7,751.5 359.7,752.9 360.7,751.3 361.7,752.2 362.7,750.9 363.7,750.6 364.7,751.8 365.7,750.6 366.7,752.3 367.7,752.8 368.7,751.6 369.7,752.9 370.7,752.5 371.7,752 372.7,751.5 373.7,752.6 374.7,752.9 375.7,750.9 376.7,752.2 377.7,750.7 378.7,750.8 379.7,752.1 380.7,751.9 381.7,751.8 382.7,751.5 383.7,751.6 384.7,751.7 385.7,751.5 386.7,750.7 387.7,751.8 388.7,752 389.7,751.3 390.7,752.4 391.7,752.3 392.7,750.7 393.7,751.7 394.7,751.7 395.7,753 396.7,752 397.7,751.6 398.7,753 399.7,751.5 400.7,751.5 401.7,752.9 402.7,751.5 403.7,751.9 404.7,751.4 405.7,752.2 406.7,751.3 407.7,751.2 408.7,752.9 409.7,752.8 410.7,751.3 411.7,750.6 412.7,752.3 413.7,751.7 414.7,751.3 415.7,751.9 416.7,751.6 417.7,751.6 418.7,751.2 419.7,750.4 420.7,750.7 421.7,750.1 422.7,748.6 423.7,749.8 424.7,747.8 425.7,746.7 426.7,747 427.7,746.4 428.7,744.3 429.7,744.9 430.7,744.4 431.7,743.3 432.7,742.3 433.7,743.4 434.7,742.7 435.7,742.6 436.7,741.3 437.7,742 438.7,740.6 439.7,741.7 440.7,740.6 441.7,738.9 442.7,737.3 443.7,737.3 444.7,736.7 445.7,735.9 446.7,734 447.7,734.1 448.7,732 449.7,731.7 450.7,733.3 451.7,733.3 452.7,732.6 453.7,733.9 454.7,734.7 455.7,737.1 456.7,739.2 457.7,740.5 458.7,741.1 459.7,744.1 460.7,745.8 461.7,747.4 462.7,749.1 463.7,750.7 464.7,750.9 465.7,754 466.7,755.5 467.7,754.3 468.7,755.3 469.7,755.8 470.7,757.7 471.7,758.1 472.7,758.5 473.7,758.8 474.7,759.1 475.7,759.2 476.7,759.4 477.7,759.5 478.7,759.6 479.7,759.7 480.7,759.7 481.7,759.7 482.7,759.8 483.7,759.8 484.7,759.8 485.7,759.8 486.7,759.8 487.7,759.8 488.7,759.8 489.7,759.8 490.7,759.8 491.7,759.8 492.7,759.8 493.7,759.8 494.7,759.8 495.7,759.8 496.7,759.8 497.7,759.8 498.7,759.8 499.7,759.8 500.7,759.8 501.7,759.8 502.7,759.8 503.7,759.8 504.7,759.8 505.7,759.8 506.7,759.8 507.7,759.8 508.7,759.8 509.7,759.8 510.7,759.8 511.7,759.8 512.7,759.8 513.7,759.8 514.7,759.8 515.7,759.8 516.7,759.8 517.7,759.8 518.7,759.8 519.7,759.8 520.7,759.8 521.7,759.8 522.7,759.8 523.7,759.8 524.7,759.8 525.7,759.8 526.7,759.8 527.7,759.8 528.7,759.8 529.7,759.8 530.7,759.8 531.7,759.8 532.7,759.8 533.7,759.8 534.7,759.8 535.7,759.8 536.7,759.8 537.7,759.8" fill="none" stroke="#1a1a1a" stroke-width="1.10" stroke-linejoin="round" stroke-opacity="0.8"/>
</g>
<rect x="220.70" y="462.00" width="318.60" height="297.80" fill="none" stroke="#000" stroke-width="1.5"/>
<line x1="220.70" y1="461.50" x2="220.70" y2="760.30" stroke="#000" stroke-width="1.70"/>
<line x1="220.20" y1="759.80" x2="539.80" y2="759.80" stroke="#000" stroke-width="1.80"/>
<line x1="215.20" y1="462.00" x2="220.70" y2="462.00" stroke="#000" stroke-width="1.60"/>
<text x="171.88" y="472.30" font-size="28.00">2.2</text>
<line x1="215.20" y1="489.30" x2="220.70" y2="489.30" stroke="#000" stroke-width="1.60"/>
<text x="171.57" y="499.60" font-size="28.00">2.0</text>
<line x1="215.20" y1="542.70" x2="220.70" y2="542.70" stroke="#000" stroke-width="1.60"/>
<text x="171.71" y="553.00" font-size="28.00">1.6</text>
<line x1="215.20" y1="597.60" x2="220.70" y2="597.60" stroke="#000" stroke-width="1.60"/>
<text x="171.88" y="607.90" font-size="28.00">1.2</text>
<line x1="215.20" y1="650.70" x2="220.70" y2="650.70" stroke="#000" stroke-width="1.60"/>
<text x="171.69" y="661.00" font-size="28.00">0.8</text>
<line x1="215.20" y1="705.60" x2="220.70" y2="705.60" stroke="#000" stroke-width="1.60"/>
<text x="171.30" y="715.90" font-size="28.00">0.4</text>
<line x1="215.20" y1="759.80" x2="220.70" y2="759.80" stroke="#000" stroke-width="1.60"/>
<text x="194.92" y="770.10" font-size="28.00">0</text>
<line x1="218.10" y1="748.98" x2="220.70" y2="748.98" stroke="#333" stroke-width="1.00"/>
<line x1="218.10" y1="738.16" x2="220.70" y2="738.16" stroke="#333" stroke-width="1.00"/>
<line x1="218.10" y1="727.34" x2="220.70" y2="727.34" stroke="#333" stroke-width="1.00"/>
<line x1="218.10" y1="716.52" x2="220.70" y2="716.52" stroke="#333" stroke-width="1.00"/>
<line x1="218.10" y1="694.88" x2="220.70" y2="694.88" stroke="#333" stroke-width="1.00"/>
<line x1="218.10" y1="684.06" x2="220.70" y2="684.06" stroke="#333" stroke-width="1.00"/>
<line x1="218.10" y1="673.24" x2="220.70" y2="673.24" stroke="#333" stroke-width="1.00"/>
<line x1="218.10" y1="662.42" x2="220.70" y2="662.42" stroke="#333" stroke-width="1.00"/>
<line x1="218.10" y1="640.78" x2="220.70" y2="640.78" stroke="#333" stroke-width="1.00"/>
<line x1="218.10" y1="629.96" x2="220.70" y2="629.96" stroke="#333" stroke-width="1.00"/>
<line x1="218.10" y1="619.14" x2="220.70" y2="619.14" stroke="#333" stroke-width="1.00"/>
<line x1="218.10" y1="608.32" x2="220.70" y2="608.32" stroke="#333" stroke-width="1.00"/>
<line x1="218.10" y1="586.68" x2="220.70" y2="586.68" stroke="#333" stroke-width="1.00"/>
<line x1="218.10" y1="575.86" x2="220.70" y2="575.86" stroke="#333" stroke-width="1.00"/>
<line x1="218.10" y1="565.04" x2="220.70" y2="565.04" stroke="#333" stroke-width="1.00"/>
<line x1="218.10" y1="554.22" x2="220.70" y2="554.22" stroke="#333" stroke-width="1.00"/>
<line x1="218.10" y1="532.58" x2="220.70" y2="532.58" stroke="#333" stroke-width="1.00"/>
<line x1="218.10" y1="521.76" x2="220.70" y2="521.76" stroke="#333" stroke-width="1.00"/>
<line x1="218.10" y1="510.94" x2="220.70" y2="510.94" stroke="#333" stroke-width="1.00"/>
<line x1="218.10" y1="500.12" x2="220.70" y2="500.12" stroke="#333" stroke-width="1.00"/>
<line x1="218.10" y1="478.48" x2="220.70" y2="478.48" stroke="#333" stroke-width="1.00"/>
<line x1="218.10" y1="467.66" x2="220.70" y2="467.66" stroke="#333" stroke-width="1.00"/>
<line x1="220.70" y1="759.80" x2="220.70" y2="765.30" stroke="#000" stroke-width="1.60"/>
<text x="201.38" y="790.30" font-size="28.00">5.2</text>
<line x1="264.30" y1="759.80" x2="264.30" y2="765.30" stroke="#000" stroke-width="1.60"/>
<text x="256.51" y="790.30" font-size="28.00">8</text>
<line x1="324.70" y1="759.80" x2="324.70" y2="765.30" stroke="#000" stroke-width="1.60"/>
<text x="308.77" y="790.30" font-size="28.00">12</text>
<line x1="385.10" y1="759.80" x2="385.10" y2="765.30" stroke="#000" stroke-width="1.60"/>
<text x="369.08" y="790.30" font-size="28.00">16</text>
<line x1="445.50" y1="759.80" x2="445.50" y2="765.30" stroke="#000" stroke-width="1.60"/>
<text x="429.77" y="790.30" font-size="28.00">20</text>
<line x1="505.90" y1="759.80" x2="505.90" y2="765.30" stroke="#000" stroke-width="1.60"/>
<text x="490.03" y="790.30" font-size="28.00">24</text>
<line x1="228.06" y1="759.80" x2="228.06" y2="762.60" stroke="#333" stroke-width="1.00"/>
<line x1="240.14" y1="759.80" x2="240.14" y2="762.60" stroke="#333" stroke-width="1.00"/>
<line x1="252.22" y1="759.80" x2="252.22" y2="762.60" stroke="#333" stroke-width="1.00"/>
<line x1="276.38" y1="759.80" x2="276.38" y2="762.60" stroke="#333" stroke-width="1.00"/>
<line x1="288.46" y1="759.80" x2="288.46" y2="762.60" stroke="#333" stroke-width="1.00"/>
<line x1="300.54" y1="759.80" x2="300.54" y2="762.60" stroke="#333" stroke-width="1.00"/>
<line x1="312.62" y1="759.80" x2="312.62" y2="762.60" stroke="#333" stroke-width="1.00"/>
<line x1="336.78" y1="759.80" x2="336.78" y2="762.60" stroke="#333" stroke-width="1.00"/>
<line x1="348.86" y1="759.80" x2="348.86" y2="762.60" stroke="#333" stroke-width="1.00"/>
<line x1="360.94" y1="759.80" x2="360.94" y2="762.60" stroke="#333" stroke-width="1.00"/>
<line x1="373.02" y1="759.80" x2="373.02" y2="762.60" stroke="#333" stroke-width="1.00"/>
<line x1="397.18" y1="759.80" x2="397.18" y2="762.60" stroke="#333" stroke-width="1.00"/>
<line x1="409.26" y1="759.80" x2="409.26" y2="762.60" stroke="#333" stroke-width="1.00"/>
<line x1="421.34" y1="759.80" x2="421.34" y2="762.60" stroke="#333" stroke-width="1.00"/>
<line x1="433.42" y1="759.80" x2="433.42" y2="762.60" stroke="#333" stroke-width="1.00"/>
<line x1="457.58" y1="759.80" x2="457.58" y2="762.60" stroke="#333" stroke-width="1.00"/>
<line x1="469.66" y1="759.80" x2="469.66" y2="762.60" stroke="#333" stroke-width="1.00"/>
<line x1="481.74" y1="759.80" x2="481.74" y2="762.60" stroke="#333" stroke-width="1.00"/>
<line x1="493.82" y1="759.80" x2="493.82" y2="762.60" stroke="#333" stroke-width="1.00"/>
<line x1="517.98" y1="759.80" x2="517.98" y2="762.60" stroke="#333" stroke-width="1.00"/>
<line x1="530.06" y1="759.80" x2="530.06" y2="762.60" stroke="#333" stroke-width="1.00"/>
<text x="226.14" y="449.30" font-size="27.50">DMSO</text>
<text transform="translate(164.00,605.80) rotate(-90)" x="-69.76" y="0" font-size="28">Count (10<tspan font-size="13" dy="-13">3</tspan><tspan dy="13">)</tspan></text>
<text x="310.44" y="823.70" font-size="27.50">PI-A (10<tspan font-size="13" dy="-13">6</tspan><tspan dy="13">)</tspan></text>
<clipPath id="c4"><rect x="652.60" y="461.40" width="319.60" height="298.60"/></clipPath>
<g clip-path="url(#c4)">
<path d="M733.6,760L733.6,759.9 734.6,759.8 735.6,759.7 736.6,759.5 737.6,759.3 738.6,758 739.6,757.6 740.6,756.9 741.6,756.1 742.6,755.1 743.6,753.9 744.6,752.6 745.6,751.2 746.6,749.8 747.6,748.7 748.6,747.7 749.6,746.9 750.6,746.3 751.6,745.9 752.6,745.6 753.6,745.4 754.6,745.3 755.6,745.2 756.6,745.1 757.6,745.1 758.6,745.1 759.6,745 760.6,745 761.6,745 762.6,745 763.6,745 764.6,745 765.6,745 766.6,745.3 767.6,745.7 768.6,745.9 769.6,746 770.6,746.1 771.6,746.2 772.6,746.2 773.6,746.3 774.6,746.3 775.6,746.3 776.6,746.3 777.6,746.3 778.6,746.3 779.6,746.3 780.6,746.3 781.6,746.3 782.6,746.3 783.6,746.3 784.6,746.3 785.6,746.3 786.6,746.3 787.6,746.3 788.6,746.3 789.6,746.3 790.6,746.3 791.6,746.3 792.6,746.3 793.6,746.3 794.6,746.3 795.6,746.3 796.6,746.3 797.6,746.3 798.6,746.3 799.6,746.3 800.6,746.3 801.6,746.3 802.6,746.3 803.6,746.3 804.6,746.3 805.6,746.3 806.6,746.3 807.6,746.3 808.6,746.3 809.6,746.3 810.6,746.3 811.6,746.3 812.6,746.3 813.6,746.3 814.6,746.3 815.6,746.3 816.6,746.3 817.6,746.3 818.6,746.3 819.6,746.3 820.6,746.3 821.6,746.3 822.6,746.3 823.6,746.3 824.6,746.3 825.6,746.3 826.6,746.3 827.6,746.3 828.6,746.3 829.6,746.3 830.6,746.3 831.6,746.3 832.6,746.2 833.6,746.2 834.6,746.2 835.6,746.1 836.6,746 837.6,746 838.6,745.8 839.6,745.7 840.6,745.5 841.6,745.2 842.6,745 843.6,745 844.6,745.1 845.6,745.1 846.6,745.1 847.6,745.2 848.6,745.3 849.6,745.5 850.6,745.7 851.6,746 852.6,746.4 853.6,747.1 854.6,747.9 855.6,748.9 856.6,750.1 857.6,751.4 858.6,752.8 859.6,754.2 860.6,755.3 861.6,756.3 862.6,757.1 863.6,757.7 864.6,759.1 865.6,759.4 866.6,759.6 867.6,759.7 868.6,759.8 869.6,759.9 869.6,760 Z" fill="#dcd87a" stroke="none" stroke-width="1.00"/>
<path d="M705.6,760L705.6,759.9 706.6,759.8 707.6,759.8 708.6,759.6 709.6,759.4 710.6,759.1 711.6,758.7 712.6,758.1 713.6,757.3 714.6,756.2 715.6,754.7 716.6,752.7 717.6,750.1 718.6,746.8 719.6,742.6 720.6,737.4 721.6,731.1 722.6,723.6 723.6,714.8 724.6,704.7 725.6,693.3 726.6,680.7 727.6,667.2 728.6,652.8 729.6,638 730.6,623.2 731.6,608.8 732.6,595.2 733.6,583.1 734.6,572.8 735.6,564.7 736.6,559.3 737.6,556.6 738.6,556.9 739.6,560.1 740.6,566.2 741.6,574.7 742.6,585.4 743.6,597.9 744.6,611.6 745.6,626.1 746.6,641 747.6,655.7 748.6,669.9 749.6,683.3 750.6,695.7 751.6,706.8 752.6,716.7 753.6,725.2 754.6,732.5 755.6,738.5 756.6,743.5 757.6,747.5 758.6,750.6 759.6,753.1 760.6,755 761.6,756.4 762.6,757.5 763.6,758.3 764.6,758.8 765.6,759.2 766.6,759.5 767.6,759.6 768.6,759.8 769.6,759.9 769.6,760 Z" fill="#80dd80" stroke="none" stroke-width="1.00"/>
<path d="M838.6,760L838.6,759.9 839.6,759.8 840.6,759.7 841.6,759.7 842.6,759.6 843.6,759.4 844.6,759.3 845.6,759 846.6,758.8 847.6,758.4 848.6,758 849.6,757.5 850.6,756.8 851.6,756 852.6,755.1 853.6,753.9 854.6,752.5 855.6,750.8 856.6,748.8 857.6,746.4 858.6,743.6 859.6,740.4 860.6,736.6 861.6,732.3 862.6,727.3 863.6,721.6 864.6,715.2 865.6,708.1 866.6,700.1 867.6,691.4 868.6,681.8 869.6,671.3 870.6,660.1 871.6,648.2 872.6,635.6 873.6,622.4 874.6,608.7 875.6,594.8 876.6,580.8 877.6,566.9 878.6,553.3 879.6,540.3 880.6,528.1 881.6,517.1 882.6,507.5 883.6,499.7 884.6,494 885.6,490.8 886.6,491.2 887.6,494.9 888.6,501.1 889.6,509.3 890.6,519.2 891.6,530.4 892.6,542.8 893.6,555.9 894.6,569.6 895.6,583.6 896.6,597.6 897.6,611.5 898.6,625 899.6,638.1 900.6,650.6 901.6,662.4 902.6,673.5 903.6,683.8 904.6,693.2 905.6,701.8 906.6,709.6 907.6,716.6 908.6,722.8 909.6,728.3 910.6,733.2 911.6,737.4 912.6,741.1 913.6,744.2 914.6,746.9 915.6,749.2 916.6,751.2 917.6,752.8 918.6,754.1 919.6,755.3 920.6,756.2 921.6,757 922.6,757.6 923.6,758.1 924.6,758.5 925.6,758.8 926.6,759.1 927.6,759.3 928.6,759.5 929.6,759.6 930.6,759.7 931.6,759.8 932.6,759.8 933.6,759.9 933.6,760 Z" fill="#80ffff" stroke="none" stroke-width="1.00"/>
<path d="M734.6,760L734.6,759.9 735.6,759.8 736.6,759.7 737.6,759.4 738.6,759 739.6,758.4 740.6,757.6 741.6,756.4 742.6,754.9 743.6,753 744.6,750.7 745.6,748.3 746.6,745.7 747.6,743.3 748.6,741.3 749.6,739.8 750.6,739.1 751.6,739.2 752.6,740 753.6,741.7 754.6,743.8 755.6,746.2 756.6,748.8 757.6,751.2 758.6,753.4 759.6,755.2 760.6,756.7 761.6,757.8 762.6,758.6 763.6,759.1 764.6,759.5 765.6,759.7 766.6,759.8 767.6,759.9 767.6,760 Z" fill="#6ccf3c" stroke="none" stroke-width="1.00"/>
<path d="M836.6,760L836.6,759.9 837.6,759.8 838.6,759.8 839.6,759.7 840.6,759.6 841.6,759.4 842.6,759.2 843.6,758.9 844.6,758.6 845.6,758.2 846.6,757.6 847.6,757 848.6,756.3 849.6,755.4 850.6,754.4 851.6,753.3 852.6,752.1 853.6,750.7 854.6,749.2 855.6,747.7 856.6,746.1 857.6,744.5 858.6,742.9 859.6,741.4 860.6,740 861.6,738.7 862.6,737.7 863.6,736.8 864.6,736.3 865.6,736 866.6,736.1 867.6,736.4 868.6,737 869.6,737.8 870.6,738.9 871.6,740.2 872.6,741.7 873.6,743.2 874.6,744.8 875.6,746.4 876.6,748 877.6,749.5 878.6,751 879.6,752.3 880.6,753.6 881.6,754.7 882.6,755.6 883.6,756.5 884.6,757.2 885.6,757.8 886.6,758.3 887.6,758.7 888.6,759 889.6,759.2 890.6,759.4 891.6,759.6 892.6,759.7 893.6,759.8 894.6,759.8 895.6,759.9 895.6,760 Z" fill="#78ecc0" stroke="none" stroke-width="1.00"/>
<path d="M653.6,760 654.6,760 655.6,760 656.6,760 657.6,760 658.6,760 659.6,760 660.6,760 661.6,760 662.6,760 663.6,760 664.6,760 665.6,760 666.6,760 667.6,760 668.6,760 669.6,760 670.6,760 671.6,760 672.6,760 673.6,760 674.6,760 675.6,760 676.6,760 677.6,760 678.6,760 679.6,760 680.6,760 681.6,760 682.6,760 683.6,760 684.6,760 685.6,760 686.6,760 687.6,760 688.6,760 689.6,760 690.6,760 691.6,760 692.6,760 693.6,760 694.6,760 695.6,760 696.6,760 697.6,760 698.6,760 699.6,760 700.6,760 701.6,760 702.6,760 703.6,759.9 704.6,759.9 705.6,759.8 706.6,759.7 707.6,759.6 708.6,759.4 709.6,759.1 710.6,758.7 711.6,758.2 712.6,757.4 713.6,756.4 714.6,755 715.6,753.2 716.6,750.8 717.6,747.8 718.6,744 719.6,739.4 720.6,733.7 721.6,727 722.6,719 723.6,709.9 724.6,699.5 725.6,688 726.6,675.4 727.6,662 728.6,647.9 729.6,633.6 730.6,619.3 731.6,605.6 732.6,592.7 733.6,581.2 734.6,571.4 735.6,563.7 736.6,558.3 737.6,555.4 738.6,554.9 739.6,556.9 740.6,561 741.6,567 742.6,574.5 743.6,583.2 744.6,592.6 745.6,602.7 746.6,613.1 747.6,623.8 748.6,634.7 749.6,645.7 750.6,656.8 751.6,667.8 752.6,678.5 753.6,688.8 754.6,698.5 755.6,707.4 756.6,715.3 757.6,722.1 758.6,727.9 759.6,732.6 760.6,736.3 761.6,739.1 762.6,741.2 763.6,742.7 764.6,743.8 765.6,744.5 766.6,745 767.6,745.4 768.6,745.6 769.6,745.7 770.6,745.8 771.6,745.9 772.6,745.9 773.6,746 774.6,746 775.6,746 776.6,746 777.6,746 778.6,746 779.6,746 780.6,746 781.6,746 782.6,746 783.6,746 784.6,746 785.6,746 786.6,746 787.6,746 788.6,746 789.6,746 790.6,746 791.6,746 792.6,746 793.6,746 794.6,746 795.6,746 796.6,746 797.6,746 798.6,746 799.6,746 800.6,746 801.6,746 802.6,746 803.6,746 804.6,746 805.6,746 806.6,746 807.6,746 808.6,746 809.6,746 810.6,746 811.6,746 812.6,746 813.6,746 814.6,746 815.6,746 816.6,746 817.6,746 818.6,746 819.6,746 820.6,746 821.6,746 822.6,746 823.6,746 824.6,746 825.6,746 826.6,746 827.6,746 828.6,746 829.6,746 830.6,746 831.6,746 832.6,745.9 833.6,745.9 834.6,745.9 835.6,745.8 836.6,745.7 837.6,745.7 838.6,745.5 839.6,745.4 840.6,745.2 841.6,744.9 842.6,744.5 843.6,744.1 844.6,743.5 845.6,742.9 846.6,742 847.6,741 848.6,739.9 849.6,738.5 850.6,736.9 851.6,735.1 852.6,733.1 853.6,730.9 854.6,728.5 855.6,726 856.6,723.2 857.6,720.2 858.6,716.8 859.6,713 860.6,708.5 861.6,703.4 862.6,697.7 863.6,691.3 864.6,684.3 865.6,676.7 866.6,668.5 867.6,659.8 868.6,650.6 869.6,640.8 870.6,630.5 871.6,619.7 872.6,608.4 873.6,596.7 874.6,584.8 875.6,572.6 876.6,560.4 877.6,548.3 878.6,536.5 879.6,525.2 880.6,514.7 881.6,505.2 882.6,496.9 883.6,490.2 884.6,485.5 885.6,483 886.6,483.9 887.6,487.9 888.6,494.1 889.6,502.2 890.6,512 891.6,523 892.6,535.1 893.6,547.9 894.6,561.3 895.6,575.1 896.6,588.9 897.6,602.7 898.6,616.2 899.6,629.3 900.6,641.9 901.6,653.9 902.6,665.3 903.6,675.8 904.6,685.6 905.6,694.7 906.6,702.9 907.6,710.4 908.6,717.1 909.6,723.1 910.6,728.4 911.6,733.1 912.6,737.2 913.6,740.8 914.6,743.9 915.6,746.6 916.6,748.8 917.6,750.8 918.6,752.4 919.6,753.8 920.6,755 921.6,755.9 922.6,756.7 923.6,757.4 924.6,757.9 925.6,758.3 926.6,758.7 927.6,759 928.6,759.2 929.6,759.4 930.6,759.5 931.6,759.6 932.6,759.7 933.6,759.8 934.6,759.8 935.6,759.9 936.6,759.9 937.6,759.9 938.6,759.9 939.6,760 940.6,760 941.6,760 942.6,760 943.6,760 944.6,760 945.6,760 946.6,760 947.6,760 948.6,760 949.6,760 950.6,760 951.6,760 952.6,760 953.6,760 954.6,760 955.6,760 956.6,760 957.6,760 958.6,760 959.6,760 960.6,760 961.6,760 962.6,760 963.6,760 964.6,760 965.6,760 966.6,760 967.6,760 968.6,760 969.6,760 970.6,760" fill="none" stroke="#e030e0" stroke-width="1.50" stroke-linejoin="round"/>
<path d="M653.6,760 654.6,760 655.6,760 656.6,760 657.6,760 658.6,760 659.6,760 660.6,760 661.6,760 662.6,760 663.6,760 664.6,760 665.6,760 666.6,760 667.6,760 668.6,760 669.6,760 670.6,760 671.6,760 672.6,760 673.6,760 674.6,760 675.6,760 676.6,760 677.6,760 678.6,760 679.6,760 680.6,760 681.6,760 682.6,760 683.6,760 684.6,760 685.6,760 686.6,760 687.6,760 688.6,760 689.6,760 690.6,760 691.6,760 692.6,760 693.6,760 694.6,760 695.6,760 696.6,760 697.6,760 698.6,760 699.6,760 700.6,760 701.6,760 702.6,759.9 703.6,759.9 704.6,759.8 705.6,759.8 706.6,759.6 707.6,759.5 708.6,759.2 709.6,758.8 710.6,758.2 711.6,758.1 712.6,757.2 713.6,754.7 714.6,752.8 715.6,749.6 716.6,744.5 717.6,738 718.6,732.5 719.6,726.4 720.6,721.2 721.6,713.7 722.6,706.9 723.6,698.6 724.6,688.9 725.6,677.3 726.6,663 727.6,649.7 728.6,635.6 729.6,621.4 730.6,609 731.6,595.7 732.6,583.1 733.6,572.7 734.6,564.3 735.6,558.5 736.6,557.1 737.6,555.1 738.6,556.7 739.6,561.2 740.6,568 741.6,575 742.6,584.8 743.6,592.5 744.6,602.8 745.6,614 746.6,625 747.6,634 748.6,645.2 749.6,654.8 750.6,665.1 751.6,675.9 752.6,685.9 753.6,694.8 754.6,704 755.6,712.6 756.6,719.4 757.6,724.3 758.6,731.3 759.6,735.5 760.6,737.4 761.6,740.7 762.6,741.9 763.6,743.4 764.6,744.6 765.6,743.6 766.6,746 767.6,745.7 768.6,746.4 769.6,745.5 770.6,746.4 771.6,746.3 772.6,745.4 773.6,746.4 774.6,745.8 775.6,745 776.6,747 777.6,747 778.6,746.6 779.6,745.4 780.6,745.7 781.6,746.6 782.6,746.4 783.6,746.8 784.6,746.1 785.6,747.1 786.6,745.5 787.6,745 788.6,744.9 789.6,745.4 790.6,744.9 791.6,747.2 792.6,746.5 793.6,744.9 794.6,745.3 795.6,746.2 796.6,744.9 797.6,745.7 798.6,745.2 799.6,746.5 800.6,746.7 801.6,746.1 802.6,746.9 803.6,746.3 804.6,744.9 805.6,746.4 806.6,747.2 807.6,747.1 808.6,746.8 809.6,745.3 810.6,746.3 811.6,746.5 812.6,747 813.6,744.8 814.6,746.2 815.6,746.7 816.6,747.1 817.6,747.1 818.6,746.8 819.6,745.6 820.6,746.8 821.6,747.1 822.6,746 823.6,746.6 824.6,744.8 825.6,746.9 826.6,745.9 827.6,745.3 828.6,746.2 829.6,744.8 830.6,746 831.6,746.6 832.6,746.2 833.6,747 834.6,746.1 835.6,746.5 836.6,744.9 837.6,744.9 838.6,745.6 839.6,746.6 840.6,745.9 841.6,745.7 842.6,745.5 843.6,745 844.6,743 845.6,744.1 846.6,743.6 847.6,740.7 848.6,740.5 849.6,738.3 850.6,738.3 851.6,735.5 852.6,734.4 853.6,732.2 854.6,730.4 855.6,728.9 856.6,727.6 857.6,724.9 858.6,720.6 859.6,717.3 860.6,713.6 861.6,710.8 862.6,705.2 863.6,699.5 864.6,694 865.6,687.1 866.6,680.8 867.6,672.9 868.6,664.8 869.6,657.1 870.6,646.4 871.6,636.5 872.6,628.3 873.6,615.2 874.6,603.9 875.6,592.8 876.6,582.2 877.6,567.9 878.6,557.5 879.6,543.3 880.6,532.3 881.6,522.6 882.6,512.1 883.6,501.8 884.6,494.3 885.6,487.9 886.6,483.7 887.6,484.3 888.6,487.3 889.6,490.1 890.6,499.4 891.6,506.3 892.6,518.4 893.6,528.3 894.6,540.8 895.6,553.8 896.6,568.1 897.6,581.1 898.6,596.6 899.6,609.1 900.6,623.3 901.6,634.8 902.6,647.4 903.6,659.8 904.6,670.6 905.6,682 906.6,691.4 907.6,698.7 908.6,706.8 909.6,712.9 910.6,719.9 911.6,726.7 912.6,731.2 913.6,734.6 914.6,739 915.6,743.6 916.6,744.5 917.6,747 918.6,750.9 919.6,751.5 920.6,753.4 921.6,753.7 922.6,755.9 923.6,757 924.6,757.1 925.6,756.5 926.6,758.1 927.6,758.5 928.6,758.8 929.6,759.1 930.6,759.3 931.6,759.4 932.6,759.6 933.6,759.7 934.6,759.7 935.6,759.8 936.6,759.8 937.6,759.9 938.6,759.9 939.6,759.9 940.6,760 941.6,760 942.6,760 943.6,760 944.6,760 945.6,760 946.6,760 947.6,760 948.6,760 949.6,760 950.6,760 951.6,760 952.6,760 953.6,760 954.6,760 955.6,760 956.6,760 957.6,760 958.6,760 959.6,760 960.6,760 961.6,760 962.6,760 963.6,760 964.6,760 965.6,760 966.6,760 967.6,760 968.6,760 969.6,760 970.6,760" fill="none" stroke="#1a1a1a" stroke-width="1.10" stroke-linejoin="round" stroke-opacity="0.8"/>
</g>
<rect x="652.60" y="461.40" width="319.60" height="298.60" fill="none" stroke="#000" stroke-width="1.5"/>
<line x1="652.60" y1="460.90" x2="652.60" y2="760.50" stroke="#000" stroke-width="1.70"/>
<line x1="652.10" y1="760.00" x2="972.70" y2="760.00" stroke="#000" stroke-width="1.80"/>
<line x1="647.10" y1="461.40" x2="652.60" y2="461.40" stroke="#000" stroke-width="1.60"/>
<text x="605.67" y="471.70" font-size="28.00">1.0</text>
<line x1="647.10" y1="531.00" x2="652.60" y2="531.00" stroke="#000" stroke-width="1.60"/>
<text x="605.79" y="541.30" font-size="28.00">0.8</text>
<line x1="647.10" y1="587.10" x2="652.60" y2="587.10" stroke="#000" stroke-width="1.60"/>
<text x="605.81" y="597.40" font-size="28.00">0.6</text>
<line x1="647.10" y1="645.00" x2="652.60" y2="645.00" stroke="#000" stroke-width="1.60"/>
<text x="605.40" y="655.30" font-size="28.00">0.4</text>
<line x1="647.10" y1="702.10" x2="652.60" y2="702.10" stroke="#000" stroke-width="1.60"/>
<text x="605.98" y="712.40" font-size="28.00">0.2</text>
<line x1="647.10" y1="760.00" x2="652.60" y2="760.00" stroke="#000" stroke-width="1.60"/>
<text x="629.02" y="770.30" font-size="28.00">0</text>
<line x1="650.00" y1="748.55" x2="652.60" y2="748.55" stroke="#333" stroke-width="1.00"/>
<line x1="650.00" y1="737.10" x2="652.60" y2="737.10" stroke="#333" stroke-width="1.00"/>
<line x1="650.00" y1="725.65" x2="652.60" y2="725.65" stroke="#333" stroke-width="1.00"/>
<line x1="650.00" y1="714.20" x2="652.60" y2="714.20" stroke="#333" stroke-width="1.00"/>
<line x1="650.00" y1="691.30" x2="652.60" y2="691.30" stroke="#333" stroke-width="1.00"/>
<line x1="650.00" y1="679.85" x2="652.60" y2="679.85" stroke="#333" stroke-width="1.00"/>
<line x1="650.00" y1="668.40" x2="652.60" y2="668.40" stroke="#333" stroke-width="1.00"/>
<line x1="650.00" y1="656.95" x2="652.60" y2="656.95" stroke="#333" stroke-width="1.00"/>
<line x1="650.00" y1="634.05" x2="652.60" y2="634.05" stroke="#333" stroke-width="1.00"/>
<line x1="650.00" y1="622.60" x2="652.60" y2="622.60" stroke="#333" stroke-width="1.00"/>
<line x1="650.00" y1="611.15" x2="652.60" y2="611.15" stroke="#333" stroke-width="1.00"/>
<line x1="650.00" y1="599.70" x2="652.60" y2="599.70" stroke="#333" stroke-width="1.00"/>
<line x1="650.00" y1="576.80" x2="652.60" y2="576.80" stroke="#333" stroke-width="1.00"/>
<line x1="650.00" y1="565.35" x2="652.60" y2="565.35" stroke="#333" stroke-width="1.00"/>
<line x1="650.00" y1="553.90" x2="652.60" y2="553.90" stroke="#333" stroke-width="1.00"/>
<line x1="650.00" y1="542.45" x2="652.60" y2="542.45" stroke="#333" stroke-width="1.00"/>
<line x1="650.00" y1="519.55" x2="652.60" y2="519.55" stroke="#333" stroke-width="1.00"/>
<line x1="650.00" y1="508.10" x2="652.60" y2="508.10" stroke="#333" stroke-width="1.00"/>
<line x1="650.00" y1="496.65" x2="652.60" y2="496.65" stroke="#333" stroke-width="1.00"/>
<line x1="650.00" y1="485.20" x2="652.60" y2="485.20" stroke="#333" stroke-width="1.00"/>
<line x1="650.00" y1="473.75" x2="652.60" y2="473.75" stroke="#333" stroke-width="1.00"/>
<line x1="652.60" y1="760.00" x2="652.60" y2="765.50" stroke="#000" stroke-width="1.60"/>
<text x="633.28" y="790.50" font-size="28.00">5.2</text>
<line x1="696.20" y1="760.00" x2="696.20" y2="765.50" stroke="#000" stroke-width="1.60"/>
<text x="688.41" y="790.50" font-size="28.00">8</text>
<line x1="757.00" y1="760.00" x2="757.00" y2="765.50" stroke="#000" stroke-width="1.60"/>
<text x="741.07" y="790.50" font-size="28.00">12</text>
<line x1="817.80" y1="760.00" x2="817.80" y2="765.50" stroke="#000" stroke-width="1.60"/>
<text x="801.78" y="790.50" font-size="28.00">16</text>
<line x1="878.60" y1="760.00" x2="878.60" y2="765.50" stroke="#000" stroke-width="1.60"/>
<text x="862.87" y="790.50" font-size="28.00">20</text>
<line x1="939.40" y1="760.00" x2="939.40" y2="765.50" stroke="#000" stroke-width="1.60"/>
<text x="923.53" y="790.50" font-size="28.00">24</text>
<line x1="659.72" y1="760.00" x2="659.72" y2="762.80" stroke="#333" stroke-width="1.00"/>
<line x1="671.88" y1="760.00" x2="671.88" y2="762.80" stroke="#333" stroke-width="1.00"/>
<line x1="684.04" y1="760.00" x2="684.04" y2="762.80" stroke="#333" stroke-width="1.00"/>
<line x1="708.36" y1="760.00" x2="708.36" y2="762.80" stroke="#333" stroke-width="1.00"/>
<line x1="720.52" y1="760.00" x2="720.52" y2="762.80" stroke="#333" stroke-width="1.00"/>
<line x1="732.68" y1="760.00" x2="732.68" y2="762.80" stroke="#333" stroke-width="1.00"/>
<line x1="744.84" y1="760.00" x2="744.84" y2="762.80" stroke="#333" stroke-width="1.00"/>
<line x1="769.16" y1="760.00" x2="769.16" y2="762.80" stroke="#333" stroke-width="1.00"/>
<line x1="781.32" y1="760.00" x2="781.32" y2="762.80" stroke="#333" stroke-width="1.00"/>
<line x1="793.48" y1="760.00" x2="793.48" y2="762.80" stroke="#333" stroke-width="1.00"/>
<line x1="805.64" y1="760.00" x2="805.64" y2="762.80" stroke="#333" stroke-width="1.00"/>
<line x1="829.96" y1="760.00" x2="829.96" y2="762.80" stroke="#333" stroke-width="1.00"/>
<line x1="842.12" y1="760.00" x2="842.12" y2="762.80" stroke="#333" stroke-width="1.00"/>
<line x1="854.28" y1="760.00" x2="854.28" y2="762.80" stroke="#333" stroke-width="1.00"/>
<line x1="866.44" y1="760.00" x2="866.44" y2="762.80" stroke="#333" stroke-width="1.00"/>
<line x1="890.76" y1="760.00" x2="890.76" y2="762.80" stroke="#333" stroke-width="1.00"/>
<line x1="902.92" y1="760.00" x2="902.92" y2="762.80" stroke="#333" stroke-width="1.00"/>
<line x1="915.08" y1="760.00" x2="915.08" y2="762.80" stroke="#333" stroke-width="1.00"/>
<line x1="927.24" y1="760.00" x2="927.24" y2="762.80" stroke="#333" stroke-width="1.00"/>
<line x1="951.56" y1="760.00" x2="951.56" y2="762.80" stroke="#333" stroke-width="1.00"/>
<line x1="963.72" y1="760.00" x2="963.72" y2="762.80" stroke="#333" stroke-width="1.00"/>
<text x="660.74" y="450.30" font-size="27.50">Filanesib 10 nM</text>
<text transform="translate(596.70,607.10) rotate(-90)" x="-69.76" y="0" font-size="28">Count (10<tspan font-size="13" dy="-13">3</tspan><tspan dy="13">)</tspan></text>
<text x="740.84" y="823.90" font-size="27.50">PI-A (10<tspan font-size="13" dy="-13">6</tspan><tspan dy="13">)</tspan></text>
<clipPath id="c5"><rect x="220.00" y="876.50" width="318.20" height="297.90"/></clipPath>
<g clip-path="url(#c5)">
<path d="M310,1174.4L310,1174.3 311,1174.2 312,1174.1 313,1174 314,1173.9 315,1173.6 316,1172.3 317,1171.9 318,1171.4 319,1170.8 320,1170.2 321,1169.5 322,1168.9 323,1168.4 324,1168 325,1167.7 326,1167.4 327,1167.3 328,1167.2 329,1167.1 330,1167 331,1167 332,1167 333,1166.9 334,1166.9 335,1166.9 336,1166.9 337,1167 338,1167.5 339,1167.8 340,1168 341,1168.1 342,1168.1 343,1168.2 344,1168.2 345,1168.2 346,1168.2 347,1168.2 348,1168.2 349,1168.2 350,1168.2 351,1168.2 352,1168.2 353,1168.2 354,1168.2 355,1168.2 356,1168.2 357,1168.2 358,1168.2 359,1168.2 360,1168.2 361,1168.2 362,1168.2 363,1168.2 364,1168.2 365,1168.2 366,1168.2 367,1168.2 368,1168.2 369,1168.2 370,1168.2 371,1168.2 372,1168.2 373,1168.2 374,1168.2 375,1168.2 376,1168.2 377,1168.2 378,1168.2 379,1168.2 380,1168.2 381,1168.2 382,1168.2 383,1168.2 384,1168.2 385,1168.2 386,1168.2 387,1168.2 388,1168.2 389,1168.2 390,1168.2 391,1168.2 392,1168.2 393,1168.2 394,1168.2 395,1168.2 396,1168.2 397,1168.2 398,1168.2 399,1168.2 400,1168.2 401,1168.2 402,1168.2 403,1168.2 404,1168.2 405,1168.2 406,1168.2 407,1168.2 408,1168.2 409,1168.2 410,1168.2 411,1168.2 412,1168.2 413,1168.2 414,1168.2 415,1168.2 416,1168.2 417,1168.2 418,1168.2 419,1168.2 420,1168.2 421,1168.2 422,1168.2 423,1168.2 424,1168.2 425,1168.2 426,1168.2 427,1168.2 428,1168.2 429,1168.1 430,1168.1 431,1168.1 432,1168 433,1167.9 434,1167.8 435,1167.6 436,1167.4 437,1167.1 438,1166.9 439,1166.9 440,1167 441,1167 442,1167 443,1167.1 444,1167.2 445,1167.3 446,1167.4 447,1167.7 448,1168 449,1168.4 450,1168.9 451,1169.5 452,1170.2 453,1170.8 454,1171.4 455,1171.9 456,1172.3 457,1173.6 458,1173.9 459,1174 460,1174.1 461,1174.2 462,1174.3 462,1174.4 Z" fill="#dcd87a" stroke="none" stroke-width="1.00"/>
<path d="M288,1174.4L288,1174.3 289,1174.2 290,1174.1 291,1173.9 292,1173.5 293,1172.9 294,1172.1 295,1170.7 296,1168.7 297,1165.8 298,1161.7 299,1156.1 300,1148.6 301,1139 302,1126.8 303,1111.9 304,1094.3 305,1074.1 306,1051.6 307,1027.6 308,1002.9 309,978.6 310,956 311,936.4 312,921 313,910.8 314,906.5 315,908.4 316,916.3 317,929.7 318,947.8 319,969.3 320,993.1 321,1017.7 322,1042.2 323,1065.4 324,1086.5 325,1105.2 326,1121.2 327,1134.4 328,1145 329,1153.3 330,1159.6 331,1164.3 332,1167.6 333,1170 334,1171.6 335,1172.6 336,1173.3 337,1173.8 338,1174 339,1174.2 340,1174.3 340,1174.4 Z" fill="#80dd80" stroke="none" stroke-width="1.00"/>
<path d="M436,1174.4L436,1174.3 437,1174.2 438,1174.1 439,1174 440,1173.9 441,1173.7 442,1173.5 443,1173.3 444,1172.9 445,1172.5 446,1172 447,1171.4 448,1170.6 449,1169.7 450,1168.7 451,1167.5 452,1166.1 453,1164.5 454,1162.8 455,1160.8 456,1158.8 457,1156.5 458,1154.2 459,1151.7 460,1149.2 461,1146.8 462,1144.3 463,1142 464,1139.8 465,1137.8 466,1136.1 467,1134.7 468,1133.6 469,1132.9 470,1132.7 471,1132.8 472,1133.3 473,1134.2 474,1135.5 475,1137.1 476,1139 477,1141.1 478,1143.4 479,1145.8 480,1148.2 481,1150.7 482,1153.2 483,1155.6 484,1157.9 485,1160 486,1162 487,1163.8 488,1165.5 489,1166.9 490,1168.2 491,1169.3 492,1170.3 493,1171.1 494,1171.8 495,1172.3 496,1172.8 497,1173.1 498,1173.4 499,1173.7 500,1173.8 501,1174 502,1174.1 503,1174.2 504,1174.2 505,1174.3 505,1174.4 Z" fill="#80ffff" stroke="none" stroke-width="1.00"/>
<path d="M311,1174.4L311,1174.3 312,1174.2 313,1174 314,1173.6 315,1173.2 316,1172.5 317,1171.5 318,1170.3 319,1169 320,1167.4 321,1165.9 322,1164.5 323,1163.5 324,1163 325,1163 326,1163.5 327,1164.5 328,1165.9 329,1167.4 330,1169 331,1170.3 332,1171.5 333,1172.5 334,1173.2 335,1173.6 336,1174 337,1174.2 338,1174.3 338,1174.4 Z" fill="#6ccf3c" stroke="none" stroke-width="1.00"/>
<path d="M432,1174.4L432,1174.3 433,1174.2 434,1174.1 435,1174 436,1173.8 437,1173.6 438,1173.3 439,1173 440,1172.6 441,1172.1 442,1171.5 443,1170.9 444,1170.2 445,1169.5 446,1168.9 447,1168.2 448,1167.6 449,1167.1 450,1166.7 451,1166.5 452,1166.4 453,1166.5 454,1166.7 455,1167.1 456,1167.6 457,1168.2 458,1168.9 459,1169.5 460,1170.2 461,1170.9 462,1171.5 463,1172.1 464,1172.6 465,1173 466,1173.3 467,1173.6 468,1173.8 469,1174 470,1174.1 471,1174.2 472,1174.3 472,1174.4 Z" fill="#78ecc0" stroke="none" stroke-width="1.00"/>
<path d="M221,1174.4 222,1174.4 223,1174.4 224,1174.4 225,1174.4 226,1174.4 227,1174.4 228,1174.4 229,1174.4 230,1174.4 231,1174.4 232,1174.4 233,1174.4 234,1174.4 235,1174.4 236,1174.4 237,1174.4 238,1174.4 239,1174.4 240,1174.4 241,1174.4 242,1174.4 243,1174.4 244,1174.4 245,1174.4 246,1174.4 247,1174.4 248,1174.4 249,1174.4 250,1174.4 251,1174.4 252,1174.4 253,1174.4 254,1174.4 255,1174.4 256,1174.4 257,1174.4 258,1174.4 259,1174.4 260,1174.4 261,1174.4 262,1174.4 263,1174.4 264,1174.4 265,1174.4 266,1174.4 267,1174.4 268,1174.4 269,1174.4 270,1174.4 271,1174.4 272,1174.4 273,1174.4 274,1174.4 275,1174.4 276,1174.4 277,1174.4 278,1174.4 279,1174.4 280,1174.4 281,1174.4 282,1174.4 283,1174.4 284,1174.4 285,1174.4 286,1174.4 287,1174.3 288,1174.2 289,1174.1 290,1173.9 291,1173.6 292,1173.1 293,1172.3 294,1171.1 295,1169.4 296,1166.9 297,1163.5 298,1158.7 299,1152.4 300,1144.1 301,1133.7 302,1120.8 303,1105.4 304,1087.4 305,1067.1 306,1044.8 307,1021.4 308,997.5 309,974.2 310,952.8 311,934.2 312,919.6 313,909.7 314,905.2 315,906.2 316,912.6 317,923.8 318,939.1 319,957.4 320,977.9 321,999.5 322,1021.2 323,1042.5 324,1062.7 325,1081.3 326,1098.1 327,1112.8 328,1125.5 329,1136 330,1144.5 331,1151.3 332,1156.4 333,1160.1 334,1162.8 335,1164.7 336,1165.9 337,1166.7 338,1167.2 339,1167.5 340,1167.7 341,1167.8 342,1167.8 343,1167.9 344,1167.9 345,1167.9 346,1167.9 347,1167.9 348,1167.9 349,1167.9 350,1167.9 351,1167.9 352,1167.9 353,1167.9 354,1167.9 355,1167.9 356,1167.9 357,1167.9 358,1167.9 359,1167.9 360,1167.9 361,1167.9 362,1167.9 363,1167.9 364,1167.9 365,1167.9 366,1167.9 367,1167.9 368,1167.9 369,1167.9 370,1167.9 371,1167.9 372,1167.9 373,1167.9 374,1167.9 375,1167.9 376,1167.9 377,1167.9 378,1167.9 379,1167.9 380,1167.9 381,1167.9 382,1167.9 383,1167.9 384,1167.9 385,1167.9 386,1167.9 387,1167.9 388,1167.9 389,1167.9 390,1167.9 391,1167.9 392,1167.9 393,1167.9 394,1167.9 395,1167.9 396,1167.9 397,1167.9 398,1167.9 399,1167.9 400,1167.9 401,1167.9 402,1167.9 403,1167.9 404,1167.9 405,1167.9 406,1167.9 407,1167.9 408,1167.9 409,1167.9 410,1167.9 411,1167.9 412,1167.9 413,1167.9 414,1167.9 415,1167.9 416,1167.9 417,1167.9 418,1167.9 419,1167.9 420,1167.9 421,1167.9 422,1167.9 423,1167.9 424,1167.9 425,1167.9 426,1167.9 427,1167.9 428,1167.9 429,1167.8 430,1167.8 431,1167.8 432,1167.7 433,1167.6 434,1167.5 435,1167.3 436,1167.1 437,1166.8 438,1166.5 439,1166 440,1165.4 441,1164.8 442,1164 443,1163.1 444,1162.1 445,1161 446,1159.9 447,1158.8 448,1157.6 449,1156.6 450,1155.5 451,1154.6 452,1153.7 453,1152.7 454,1151.7 455,1150.7 456,1149.4 457,1148.1 458,1146.6 459,1145.1 460,1143.4 461,1141.7 462,1140 463,1138.3 464,1136.7 465,1135.3 466,1134 467,1132.9 468,1132.1 469,1131.7 470,1131.5 471,1131.7 472,1132.3 473,1133.2 474,1134.4 475,1136 476,1137.8 477,1139.8 478,1142.1 479,1144.4 480,1146.8 481,1149.3 482,1151.7 483,1154.1 484,1156.4 485,1158.6 486,1160.7 487,1162.6 488,1164.3 489,1165.8 490,1167.2 491,1168.4 492,1169.5 493,1170.4 494,1171.1 495,1171.8 496,1172.3 497,1172.8 498,1173.1 499,1173.4 500,1173.6 501,1173.8 502,1174 503,1174.1 504,1174.2 505,1174.2 506,1174.3 507,1174.3 508,1174.3 509,1174.4 510,1174.4 511,1174.4 512,1174.4 513,1174.4 514,1174.4 515,1174.4 516,1174.4 517,1174.4 518,1174.4 519,1174.4 520,1174.4 521,1174.4 522,1174.4 523,1174.4 524,1174.4 525,1174.4 526,1174.4 527,1174.4 528,1174.4 529,1174.4 530,1174.4 531,1174.4 532,1174.4 533,1174.4 534,1174.4 535,1174.4 536,1174.4 537,1174.4" fill="none" stroke="#e030e0" stroke-width="1.50" stroke-linejoin="round"/>
<path d="M221,1174.4 222,1174.4 223,1174.4 224,1174.4 225,1174.4 226,1174.4 227,1174.4 228,1174.4 229,1174.4 230,1174.4 231,1174.4 232,1174.4 233,1174.4 234,1174.4 235,1174.4 236,1174.4 237,1174.4 238,1174.4 239,1174.4 240,1174.4 241,1174.4 242,1174.4 243,1174.4 244,1174.4 245,1174.4 246,1174.4 247,1174.4 248,1174.4 249,1174.4 250,1174.4 251,1174.4 252,1174.4 253,1174.4 254,1174.4 255,1174.4 256,1174.4 257,1174.4 258,1174.4 259,1174.4 260,1174.4 261,1174.4 262,1174.4 263,1174.4 264,1174.4 265,1174.4 266,1174.4 267,1174.4 268,1174.4 269,1174.4 270,1174.4 271,1174.4 272,1174.4 273,1174.4 274,1174.4 275,1174.4 276,1174.4 277,1174.4 278,1174.4 279,1174.4 280,1174.4 281,1174.4 282,1174.4 283,1174.4 284,1174.3 285,1174.2 286,1173.9 287,1173.4 288,1172.7 289,1171.2 290,1169.5 291,1167.7 292,1165.8 293,1164.8 294,1163.1 295,1163.8 296,1160.7 297,1156.2 298,1151.9 299,1144.2 300,1136.5 301,1123.5 302,1109.2 303,1091 304,1071.1 305,1050.6 306,1026.8 307,1002.8 308,977.8 309,956.3 310,938.5 311,921.6 312,912.4 313,905.8 314,907 315,912.9 316,921.4 317,937.8 318,955.8 319,974.3 320,996 321,1019 322,1038.5 323,1059.5 324,1077.6 325,1095.4 326,1108.4 327,1121.7 328,1131.8 329,1140.9 330,1149.4 331,1154.9 332,1159.5 333,1162.6 334,1165 335,1165.9 336,1166.2 337,1168.2 338,1167 339,1168 340,1168.2 341,1167.1 342,1167.9 343,1168.3 344,1167.9 345,1167.4 346,1169 347,1166.8 348,1169 349,1167.3 350,1167.1 351,1169.1 352,1167.2 353,1168.2 354,1167.7 355,1169.1 356,1169 357,1168.7 358,1166.8 359,1168.6 360,1167.3 361,1166.9 362,1166.8 363,1168.3 364,1168.2 365,1167.8 366,1167.2 367,1168.8 368,1167.3 369,1167.2 370,1167 371,1169 372,1166.8 373,1168.9 374,1168.3 375,1167.6 376,1166.9 377,1168.3 378,1166.9 379,1167.8 380,1168.4 381,1168.3 382,1168.7 383,1168.9 384,1168.7 385,1167.4 386,1166.7 387,1168.7 388,1169 389,1166.7 390,1167.8 391,1168.1 392,1168.5 393,1167.7 394,1167.1 395,1168 396,1168.1 397,1169 398,1166.9 399,1169 400,1167.9 401,1167.1 402,1168.8 403,1167.3 404,1166.8 405,1167.6 406,1167.2 407,1168.8 408,1168.1 409,1168.7 410,1167.1 411,1168.4 412,1168 413,1166.7 414,1167.1 415,1166.8 416,1168 417,1167.9 418,1167.3 419,1168 420,1168.4 421,1168.1 422,1168.7 423,1168.2 424,1166.7 425,1166.8 426,1167.6 427,1167.9 428,1168.3 429,1168.8 430,1168.4 431,1167.1 432,1166.9 433,1168 434,1166.9 435,1166.7 436,1166.7 437,1166.5 438,1166 439,1166.5 440,1165.2 441,1165.6 442,1164.4 443,1162.9 444,1162.2 445,1162.2 446,1159.7 447,1159.4 448,1158.7 449,1159.2 450,1157.1 451,1157.1 452,1155.4 453,1155.2 454,1153.7 455,1153.2 456,1151.9 457,1151.8 458,1149.8 459,1148.1 460,1146.3 461,1145.7 462,1142.8 463,1140.9 464,1139.5 465,1137 466,1135.4 467,1135 468,1133.7 469,1133.6 470,1131.2 471,1130.6 472,1131.7 473,1131.6 474,1132.2 475,1133.3 476,1136 477,1136.2 478,1138.6 479,1140.5 480,1143.4 481,1145.3 482,1147.4 483,1150.2 484,1152.4 485,1156.4 486,1158.4 487,1159.8 488,1161.3 489,1164.1 490,1164.6 491,1166.2 492,1168.9 493,1169 494,1170.6 495,1171.8 496,1172.4 497,1172.5 498,1172.6 499,1172.9 500,1173.3 501,1173.5 502,1173.7 503,1173.9 504,1174 505,1174.1 506,1174.2 507,1174.3 508,1174.3 509,1174.3 510,1174.3 511,1174.4 512,1174.4 513,1174.4 514,1174.4 515,1174.4 516,1174.4 517,1174.4 518,1174.4 519,1174.4 520,1174.4 521,1174.4 522,1174.4 523,1174.4 524,1174.4 525,1174.4 526,1174.4 527,1174.4 528,1174.4 529,1174.4 530,1174.4 531,1174.4 532,1174.4 533,1174.4 534,1174.4 535,1174.4 536,1174.4 537,1174.4" fill="none" stroke="#1a1a1a" stroke-width="1.10" stroke-linejoin="round" stroke-opacity="0.8"/>
</g>
<rect x="220.00" y="876.50" width="318.20" height="297.90" fill="none" stroke="#000" stroke-width="1.5"/>
<line x1="220.00" y1="876.00" x2="220.00" y2="1174.90" stroke="#000" stroke-width="1.70"/>
<line x1="219.50" y1="1174.40" x2="538.70" y2="1174.40" stroke="#000" stroke-width="1.80"/>
<line x1="214.50" y1="876.50" x2="220.00" y2="876.50" stroke="#000" stroke-width="1.60"/>
<text x="171.58" y="886.80" font-size="28.00">2.7</text>
<line x1="214.50" y1="912.90" x2="220.00" y2="912.90" stroke="#000" stroke-width="1.60"/>
<text x="171.00" y="923.20" font-size="28.00">2.4</text>
<line x1="214.50" y1="978.00" x2="220.00" y2="978.00" stroke="#000" stroke-width="1.60"/>
<text x="171.39" y="988.30" font-size="28.00">1.8</text>
<line x1="214.50" y1="1044.20" x2="220.00" y2="1044.20" stroke="#000" stroke-width="1.60"/>
<text x="171.58" y="1054.50" font-size="28.00">1.2</text>
<line x1="214.50" y1="1109.60" x2="220.00" y2="1109.60" stroke="#000" stroke-width="1.60"/>
<text x="171.41" y="1119.90" font-size="28.00">0.6</text>
<line x1="214.50" y1="1174.40" x2="220.00" y2="1174.40" stroke="#000" stroke-width="1.60"/>
<text x="194.62" y="1184.70" font-size="28.00">0</text>
<line x1="217.40" y1="1161.33" x2="220.00" y2="1161.33" stroke="#333" stroke-width="1.00"/>
<line x1="217.40" y1="1148.25" x2="220.00" y2="1148.25" stroke="#333" stroke-width="1.00"/>
<line x1="217.40" y1="1135.18" x2="220.00" y2="1135.18" stroke="#333" stroke-width="1.00"/>
<line x1="217.40" y1="1122.10" x2="220.00" y2="1122.10" stroke="#333" stroke-width="1.00"/>
<line x1="217.40" y1="1095.95" x2="220.00" y2="1095.95" stroke="#333" stroke-width="1.00"/>
<line x1="217.40" y1="1082.88" x2="220.00" y2="1082.88" stroke="#333" stroke-width="1.00"/>
<line x1="217.40" y1="1069.80" x2="220.00" y2="1069.80" stroke="#333" stroke-width="1.00"/>
<line x1="217.40" y1="1056.73" x2="220.00" y2="1056.73" stroke="#333" stroke-width="1.00"/>
<line x1="217.40" y1="1030.58" x2="220.00" y2="1030.58" stroke="#333" stroke-width="1.00"/>
<line x1="217.40" y1="1017.50" x2="220.00" y2="1017.50" stroke="#333" stroke-width="1.00"/>
<line x1="217.40" y1="1004.42" x2="220.00" y2="1004.42" stroke="#333" stroke-width="1.00"/>
<line x1="217.40" y1="991.35" x2="220.00" y2="991.35" stroke="#333" stroke-width="1.00"/>
<line x1="217.40" y1="965.20" x2="220.00" y2="965.20" stroke="#333" stroke-width="1.00"/>
<line x1="217.40" y1="952.12" x2="220.00" y2="952.12" stroke="#333" stroke-width="1.00"/>
<line x1="217.40" y1="939.05" x2="220.00" y2="939.05" stroke="#333" stroke-width="1.00"/>
<line x1="217.40" y1="925.97" x2="220.00" y2="925.97" stroke="#333" stroke-width="1.00"/>
<line x1="217.40" y1="899.82" x2="220.00" y2="899.82" stroke="#333" stroke-width="1.00"/>
<line x1="217.40" y1="886.75" x2="220.00" y2="886.75" stroke="#333" stroke-width="1.00"/>
<line x1="220.00" y1="1174.40" x2="220.00" y2="1179.90" stroke="#000" stroke-width="1.60"/>
<text x="200.68" y="1206.50" font-size="28.00">5.2</text>
<line x1="263.10" y1="1174.40" x2="263.10" y2="1179.90" stroke="#000" stroke-width="1.60"/>
<text x="255.31" y="1206.50" font-size="28.00">8</text>
<line x1="323.55" y1="1174.40" x2="323.55" y2="1179.90" stroke="#000" stroke-width="1.60"/>
<text x="307.62" y="1206.50" font-size="28.00">12</text>
<line x1="384.00" y1="1174.40" x2="384.00" y2="1179.90" stroke="#000" stroke-width="1.60"/>
<text x="367.98" y="1206.50" font-size="28.00">16</text>
<line x1="444.45" y1="1174.40" x2="444.45" y2="1179.90" stroke="#000" stroke-width="1.60"/>
<text x="428.72" y="1206.50" font-size="28.00">20</text>
<line x1="504.90" y1="1174.40" x2="504.90" y2="1179.90" stroke="#000" stroke-width="1.60"/>
<text x="489.03" y="1206.50" font-size="28.00">24</text>
<line x1="226.83" y1="1174.40" x2="226.83" y2="1177.20" stroke="#333" stroke-width="1.00"/>
<line x1="238.92" y1="1174.40" x2="238.92" y2="1177.20" stroke="#333" stroke-width="1.00"/>
<line x1="251.01" y1="1174.40" x2="251.01" y2="1177.20" stroke="#333" stroke-width="1.00"/>
<line x1="275.19" y1="1174.40" x2="275.19" y2="1177.20" stroke="#333" stroke-width="1.00"/>
<line x1="287.28" y1="1174.40" x2="287.28" y2="1177.20" stroke="#333" stroke-width="1.00"/>
<line x1="299.37" y1="1174.40" x2="299.37" y2="1177.20" stroke="#333" stroke-width="1.00"/>
<line x1="311.46" y1="1174.40" x2="311.46" y2="1177.20" stroke="#333" stroke-width="1.00"/>
<line x1="335.64" y1="1174.40" x2="335.64" y2="1177.20" stroke="#333" stroke-width="1.00"/>
<line x1="347.73" y1="1174.40" x2="347.73" y2="1177.20" stroke="#333" stroke-width="1.00"/>
<line x1="359.82" y1="1174.40" x2="359.82" y2="1177.20" stroke="#333" stroke-width="1.00"/>
<line x1="371.91" y1="1174.40" x2="371.91" y2="1177.20" stroke="#333" stroke-width="1.00"/>
<line x1="396.09" y1="1174.40" x2="396.09" y2="1177.20" stroke="#333" stroke-width="1.00"/>
<line x1="408.18" y1="1174.40" x2="408.18" y2="1177.20" stroke="#333" stroke-width="1.00"/>
<line x1="420.27" y1="1174.40" x2="420.27" y2="1177.20" stroke="#333" stroke-width="1.00"/>
<line x1="432.36" y1="1174.40" x2="432.36" y2="1177.20" stroke="#333" stroke-width="1.00"/>
<line x1="456.54" y1="1174.40" x2="456.54" y2="1177.20" stroke="#333" stroke-width="1.00"/>
<line x1="468.63" y1="1174.40" x2="468.63" y2="1177.20" stroke="#333" stroke-width="1.00"/>
<line x1="480.72" y1="1174.40" x2="480.72" y2="1177.20" stroke="#333" stroke-width="1.00"/>
<line x1="492.81" y1="1174.40" x2="492.81" y2="1177.20" stroke="#333" stroke-width="1.00"/>
<line x1="516.99" y1="1174.40" x2="516.99" y2="1177.20" stroke="#333" stroke-width="1.00"/>
<line x1="529.08" y1="1174.40" x2="529.08" y2="1177.20" stroke="#333" stroke-width="1.00"/>
<text x="226.14" y="865.30" font-size="27.50">DMSO</text>
<text transform="translate(163.00,1021.30) rotate(-90)" x="-69.76" y="0" font-size="28">Count (10<tspan font-size="13" dy="-13">3</tspan><tspan dy="13">)</tspan></text>
<text x="308.84" y="1239.50" font-size="27.50">PI-A (10<tspan font-size="13" dy="-13">6</tspan><tspan dy="13">)</tspan></text>
<clipPath id="c6"><rect x="653.50" y="875.40" width="319.60" height="299.00"/></clipPath>
<g clip-path="url(#c6)">
<path d="M749.5,1174.4L749.5,1174.3 750.5,1174.2 751.5,1174.1 752.5,1174 753.5,1173.8 754.5,1173.6 755.5,1172.2 756.5,1171.7 757.5,1171.1 758.5,1170.4 759.5,1169.6 760.5,1168.8 761.5,1168 762.5,1167.2 763.5,1166.6 764.5,1166.1 765.5,1165.8 766.5,1165.5 767.5,1165.3 768.5,1165.2 769.5,1165.1 770.5,1165 771.5,1164.9 772.5,1164.9 773.5,1164.9 774.5,1164.8 775.5,1165.1 776.5,1165.5 777.5,1165.7 778.5,1165.9 779.5,1166 780.5,1166 781.5,1166 782.5,1166 783.5,1166 784.5,1166 785.5,1166 786.5,1166 787.5,1165.9 788.5,1165.9 789.5,1165.9 790.5,1165.9 791.5,1165.9 792.5,1165.9 793.5,1165.9 794.5,1165.9 795.5,1165.8 796.5,1165.8 797.5,1165.8 798.5,1165.8 799.5,1165.8 800.5,1165.8 801.5,1165.8 802.5,1165.8 803.5,1165.7 804.5,1165.7 805.5,1165.7 806.5,1165.7 807.5,1165.7 808.5,1165.7 809.5,1165.7 810.5,1165.6 811.5,1165.6 812.5,1165.6 813.5,1165.6 814.5,1165.6 815.5,1165.6 816.5,1165.6 817.5,1165.6 818.5,1165.5 819.5,1165.5 820.5,1165.5 821.5,1165.5 822.5,1165.5 823.5,1165.5 824.5,1165.5 825.5,1165.5 826.5,1165.4 827.5,1165.4 828.5,1165.4 829.5,1165.4 830.5,1165.4 831.5,1165.4 832.5,1165.4 833.5,1165.4 834.5,1165.3 835.5,1165.3 836.5,1165.3 837.5,1165.3 838.5,1165.3 839.5,1165.3 840.5,1165.3 841.5,1165.2 842.5,1165.2 843.5,1165.2 844.5,1165.2 845.5,1165.2 846.5,1165.2 847.5,1165.1 848.5,1165.1 849.5,1165.1 850.5,1165.1 851.5,1165 852.5,1165 853.5,1164.9 854.5,1164.8 855.5,1164.7 856.5,1164.6 857.5,1164.4 858.5,1164.2 859.5,1164 860.5,1163.7 861.5,1163.7 862.5,1163.7 863.5,1163.7 864.5,1163.7 865.5,1163.6 866.5,1163.6 867.5,1163.6 868.5,1163.6 869.5,1163.6 870.5,1163.6 871.5,1163.6 872.5,1163.6 873.5,1163.7 874.5,1163.7 875.5,1163.8 876.5,1164 877.5,1164.2 878.5,1164.5 879.5,1164.9 880.5,1165.4 881.5,1166.1 882.5,1167 883.5,1167.9 884.5,1168.9 885.5,1169.9 886.5,1170.7 887.5,1171.4 888.5,1172 889.5,1173.4 890.5,1173.7 891.5,1173.9 892.5,1174.1 893.5,1174.2 894.5,1174.3 894.5,1174.4 Z" fill="#dcd87a" stroke="none" stroke-width="1.00"/>
<path d="M728.5,1174.4L728.5,1174.3 729.5,1174.2 730.5,1174.1 731.5,1173.9 732.5,1173.5 733.5,1172.9 734.5,1172 735.5,1170.7 736.5,1168.8 737.5,1166 738.5,1162.2 739.5,1157 740.5,1150.4 741.5,1141.9 742.5,1131.6 743.5,1119.3 744.5,1105.3 745.5,1089.8 746.5,1073.4 747.5,1056.7 748.5,1040.7 749.5,1026.1 750.5,1013.9 751.5,1004.9 752.5,999.9 753.5,999 754.5,1002.4 755.5,1009.9 756.5,1020.9 757.5,1034.6 758.5,1050.2 759.5,1066.7 760.5,1083.4 761.5,1099.3 762.5,1113.9 763.5,1126.9 764.5,1138 765.5,1147.2 766.5,1154.6 767.5,1160.3 768.5,1164.6 769.5,1167.8 770.5,1170 771.5,1171.6 772.5,1172.6 773.5,1173.3 774.5,1173.7 775.5,1174 776.5,1174.2 777.5,1174.3 777.5,1174.4 Z" fill="#80dd80" stroke="none" stroke-width="1.00"/>
<path d="M856.5,1174.4L856.5,1174.3 857.5,1174.2 858.5,1174.2 859.5,1174.1 860.5,1174 861.5,1173.9 862.5,1173.8 863.5,1173.6 864.5,1173.4 865.5,1173.1 866.5,1172.8 867.5,1172.3 868.5,1171.8 869.5,1171.1 870.5,1170.3 871.5,1169.4 872.5,1168.2 873.5,1166.8 874.5,1165.1 875.5,1163.1 876.5,1160.8 877.5,1158 878.5,1154.8 879.5,1151.1 880.5,1146.8 881.5,1141.9 882.5,1136.4 883.5,1130.1 884.5,1123.1 885.5,1115.4 886.5,1106.8 887.5,1097.5 888.5,1087.4 889.5,1076.5 890.5,1065 891.5,1052.7 892.5,1040 893.5,1026.8 894.5,1013.4 895.5,999.8 896.5,986.3 897.5,973.2 898.5,960.6 899.5,948.8 900.5,938.1 901.5,928.7 902.5,921 903.5,915.3 904.5,912 905.5,912 906.5,915.3 907.5,921 908.5,928.7 909.5,938.1 910.5,948.8 911.5,960.6 912.5,973.2 913.5,986.3 914.5,999.8 915.5,1013.4 916.5,1026.8 917.5,1040 918.5,1052.7 919.5,1065 920.5,1076.5 921.5,1087.4 922.5,1097.5 923.5,1106.8 924.5,1115.4 925.5,1123.1 926.5,1130.1 927.5,1136.4 928.5,1141.9 929.5,1146.8 930.5,1151.1 931.5,1154.8 932.5,1158 933.5,1160.8 934.5,1163.1 935.5,1165.1 936.5,1166.8 937.5,1168.2 938.5,1169.4 939.5,1170.3 940.5,1171.1 941.5,1171.8 942.5,1172.3 943.5,1172.8 944.5,1173.1 945.5,1173.4 946.5,1173.6 947.5,1173.8 948.5,1173.9 949.5,1174 950.5,1174.1 951.5,1174.2 952.5,1174.2 953.5,1174.3 953.5,1174.4 Z" fill="#80ffff" stroke="none" stroke-width="1.00"/>
<path d="M750.5,1174.4L750.5,1174.3 751.5,1174.1 752.5,1173.9 753.5,1173.6 754.5,1173.1 755.5,1172.4 756.5,1171.4 757.5,1170.2 758.5,1168.7 759.5,1167.1 760.5,1165.5 761.5,1164.1 762.5,1163 763.5,1162.5 764.5,1162.5 765.5,1163 766.5,1164.1 767.5,1165.5 768.5,1167.1 769.5,1168.7 770.5,1170.2 771.5,1171.4 772.5,1172.4 773.5,1173.1 774.5,1173.6 775.5,1173.9 776.5,1174.1 777.5,1174.3 777.5,1174.4 Z" fill="#6ccf3c" stroke="none" stroke-width="1.00"/>
<path d="M854.5,1174.4L854.5,1174.3 855.5,1174.2 856.5,1174.2 857.5,1174.1 858.5,1173.9 859.5,1173.8 860.5,1173.6 861.5,1173.3 862.5,1173 863.5,1172.5 864.5,1172 865.5,1171.4 866.5,1170.7 867.5,1169.9 868.5,1168.9 869.5,1167.8 870.5,1166.6 871.5,1165.4 872.5,1164 873.5,1162.5 874.5,1161.1 875.5,1159.6 876.5,1158.1 877.5,1156.8 878.5,1155.5 879.5,1154.5 880.5,1153.6 881.5,1152.9 882.5,1152.5 883.5,1152.4 884.5,1152.5 885.5,1152.9 886.5,1153.6 887.5,1154.5 888.5,1155.5 889.5,1156.8 890.5,1158.1 891.5,1159.6 892.5,1161.1 893.5,1162.5 894.5,1164 895.5,1165.4 896.5,1166.6 897.5,1167.8 898.5,1168.9 899.5,1169.9 900.5,1170.7 901.5,1171.4 902.5,1172 903.5,1172.5 904.5,1173 905.5,1173.3 906.5,1173.6 907.5,1173.8 908.5,1173.9 909.5,1174.1 910.5,1174.2 911.5,1174.2 912.5,1174.3 912.5,1174.4 Z" fill="#78ecc0" stroke="none" stroke-width="1.00"/>
<path d="M654.5,1174.4 655.5,1174.4 656.5,1174.4 657.5,1174.4 658.5,1174.4 659.5,1174.4 660.5,1174.4 661.5,1174.4 662.5,1174.4 663.5,1174.4 664.5,1174.4 665.5,1174.4 666.5,1174.4 667.5,1174.4 668.5,1174.4 669.5,1174.4 670.5,1174.4 671.5,1174.4 672.5,1174.4 673.5,1174.4 674.5,1174.4 675.5,1174.4 676.5,1174.4 677.5,1174.4 678.5,1174.4 679.5,1174.4 680.5,1174.4 681.5,1174.4 682.5,1174.4 683.5,1174.4 684.5,1174.4 685.5,1174.4 686.5,1174.4 687.5,1174.4 688.5,1174.4 689.5,1174.4 690.5,1174.4 691.5,1174.4 692.5,1174.4 693.5,1174.4 694.5,1174.4 695.5,1174.4 696.5,1174.4 697.5,1174.4 698.5,1174.4 699.5,1174.4 700.5,1174.4 701.5,1174.4 702.5,1174.4 703.5,1174.4 704.5,1174.4 705.5,1174.4 706.5,1174.4 707.5,1174.4 708.5,1174.4 709.5,1174.4 710.5,1174.4 711.5,1174.4 712.5,1174.4 713.5,1174.4 714.5,1174.4 715.5,1174.4 716.5,1174.4 717.5,1174.4 718.5,1174.4 719.5,1174.4 720.5,1174.4 721.5,1174.4 722.5,1174.4 723.5,1174.4 724.5,1174.4 725.5,1174.4 726.5,1174.4 727.5,1174.3 728.5,1174.2 729.5,1174.1 730.5,1173.9 731.5,1173.6 732.5,1173.1 733.5,1172.4 734.5,1171.2 735.5,1169.6 736.5,1167.3 737.5,1164 738.5,1159.7 739.5,1154 740.5,1146.8 741.5,1137.9 742.5,1127.2 743.5,1114.8 744.5,1100.7 745.5,1085.5 746.5,1069.5 747.5,1053.4 748.5,1038 749.5,1024.1 750.5,1012.6 751.5,1004 752.5,998.9 753.5,997.6 754.5,1000 755.5,1005.9 756.5,1014.8 757.5,1025.9 758.5,1038.5 759.5,1052 760.5,1065.7 761.5,1079 762.5,1091.8 763.5,1103.7 764.5,1114.7 765.5,1124.5 766.5,1133.2 767.5,1140.6 768.5,1146.9 769.5,1152.1 770.5,1156.1 771.5,1159.2 772.5,1161.4 773.5,1163 774.5,1164.1 775.5,1164.8 776.5,1165.2 777.5,1165.4 778.5,1165.6 779.5,1165.7 780.5,1165.7 781.5,1165.7 782.5,1165.7 783.5,1165.7 784.5,1165.7 785.5,1165.7 786.5,1165.7 787.5,1165.6 788.5,1165.6 789.5,1165.6 790.5,1165.6 791.5,1165.6 792.5,1165.6 793.5,1165.6 794.5,1165.6 795.5,1165.5 796.5,1165.5 797.5,1165.5 798.5,1165.5 799.5,1165.5 800.5,1165.5 801.5,1165.5 802.5,1165.5 803.5,1165.4 804.5,1165.4 805.5,1165.4 806.5,1165.4 807.5,1165.4 808.5,1165.4 809.5,1165.4 810.5,1165.3 811.5,1165.3 812.5,1165.3 813.5,1165.3 814.5,1165.3 815.5,1165.3 816.5,1165.3 817.5,1165.3 818.5,1165.2 819.5,1165.2 820.5,1165.2 821.5,1165.2 822.5,1165.2 823.5,1165.2 824.5,1165.2 825.5,1165.2 826.5,1165.1 827.5,1165.1 828.5,1165.1 829.5,1165.1 830.5,1165.1 831.5,1165.1 832.5,1165.1 833.5,1165.1 834.5,1165 835.5,1165 836.5,1165 837.5,1165 838.5,1165 839.5,1165 840.5,1165 841.5,1164.9 842.5,1164.9 843.5,1164.9 844.5,1164.9 845.5,1164.9 846.5,1164.9 847.5,1164.8 848.5,1164.8 849.5,1164.8 850.5,1164.8 851.5,1164.7 852.5,1164.7 853.5,1164.6 854.5,1164.5 855.5,1164.4 856.5,1164.3 857.5,1164.1 858.5,1163.9 859.5,1163.7 860.5,1163.3 861.5,1162.9 862.5,1162.3 863.5,1161.7 864.5,1160.8 865.5,1159.8 866.5,1158.7 867.5,1157.3 868.5,1155.6 869.5,1153.7 870.5,1151.5 871.5,1149 872.5,1146.2 873.5,1143.1 874.5,1139.7 875.5,1136 876.5,1132 877.5,1127.7 878.5,1123.1 879.5,1118.2 880.5,1113.2 881.5,1107.9 882.5,1102.3 883.5,1096.4 884.5,1090.1 885.5,1083.3 886.5,1075.9 887.5,1067.8 888.5,1059 889.5,1049.6 890.5,1039.5 891.5,1028.9 892.5,1017.7 893.5,1006.2 894.5,994.4 895.5,982.5 896.5,970.7 897.5,959 898.5,947.9 899.5,937.4 900.5,927.9 901.5,919.7 902.5,912.9 903.5,907.9 904.5,905.2 905.5,905.5 906.5,908.9 907.5,914.6 908.5,922.2 909.5,931.3 910.5,941.7 911.5,953.2 912.5,965.5 913.5,978.4 914.5,991.6 915.5,1005 916.5,1018.3 917.5,1031.4 918.5,1044.2 919.5,1056.5 920.5,1068.2 921.5,1079.3 922.5,1089.7 923.5,1099.4 924.5,1108.3 925.5,1116.5 926.5,1123.9 927.5,1130.6 928.5,1136.6 929.5,1142 930.5,1146.7 931.5,1150.9 932.5,1154.5 933.5,1157.7 934.5,1160.4 935.5,1162.7 936.5,1164.7 937.5,1166.4 938.5,1167.8 939.5,1169 940.5,1170 941.5,1170.9 942.5,1171.6 943.5,1172.1 944.5,1172.6 945.5,1173 946.5,1173.3 947.5,1173.5 948.5,1173.7 949.5,1173.8 950.5,1174 951.5,1174.1 952.5,1174.1 953.5,1174.2 954.5,1174.3 955.5,1174.3 956.5,1174.3 957.5,1174.3 958.5,1174.4 959.5,1174.4 960.5,1174.4 961.5,1174.4 962.5,1174.4 963.5,1174.4 964.5,1174.4 965.5,1174.4 966.5,1174.4 967.5,1174.4 968.5,1174.4 969.5,1174.4 970.5,1174.4 971.5,1174.4" fill="none" stroke="#e030e0" stroke-width="1.50" stroke-linejoin="round"/>
<path d="M654.5,1174.4 655.5,1174.4 656.5,1174.4 657.5,1174.4 658.5,1174.4 659.5,1174.4 660.5,1174.4 661.5,1174.4 662.5,1174.4 663.5,1174.4 664.5,1174.4 665.5,1174.4 666.5,1174.4 667.5,1174.4 668.5,1174.4 669.5,1174.4 670.5,1174.4 671.5,1174.4 672.5,1174.4 673.5,1174.4 674.5,1174.4 675.5,1174.4 676.5,1174.4 677.5,1174.4 678.5,1174.4 679.5,1174.4 680.5,1174.4 681.5,1174.4 682.5,1174.4 683.5,1174.4 684.5,1174.4 685.5,1174.4 686.5,1174.4 687.5,1174.4 688.5,1174.4 689.5,1174.4 690.5,1174.4 691.5,1174.4 692.5,1174.4 693.5,1174.4 694.5,1174.4 695.5,1174.4 696.5,1174.4 697.5,1174.4 698.5,1174.4 699.5,1174.4 700.5,1174.4 701.5,1174.4 702.5,1174.4 703.5,1174.4 704.5,1174.4 705.5,1174.4 706.5,1174.4 707.5,1174.4 708.5,1174.4 709.5,1174.4 710.5,1174.4 711.5,1174.4 712.5,1174.4 713.5,1174.4 714.5,1174.4 715.5,1174.4 716.5,1174.4 717.5,1174.4 718.5,1174.4 719.5,1174.4 720.5,1174.4 721.5,1174.4 722.5,1174.4 723.5,1174.4 724.5,1174.4 725.5,1174.3 726.5,1174.2 727.5,1174 728.5,1173.6 729.5,1172.9 730.5,1171 731.5,1169.4 732.5,1168.3 733.5,1166.8 734.5,1165.2 735.5,1161.5 736.5,1159.5 737.5,1155.8 738.5,1152.6 739.5,1145.8 740.5,1139.3 741.5,1128.2 742.5,1116.6 743.5,1103.7 744.5,1088.5 745.5,1072.3 746.5,1057.3 747.5,1040.9 748.5,1026.1 749.5,1015.3 750.5,1004.9 751.5,999.5 752.5,997.1 753.5,1000.2 754.5,1006.3 755.5,1013.2 756.5,1024.2 757.5,1037.8 758.5,1052.2 759.5,1065.6 760.5,1077.9 761.5,1091.3 762.5,1101.4 763.5,1112.8 764.5,1123.2 765.5,1130.6 766.5,1138.6 767.5,1143.6 768.5,1148.9 769.5,1154.2 770.5,1157.3 771.5,1159.8 772.5,1161.4 773.5,1162.4 774.5,1165.5 775.5,1165.3 776.5,1165.1 777.5,1166 778.5,1165.4 779.5,1166.7 780.5,1164.8 781.5,1165.6 782.5,1166.6 783.5,1165.3 784.5,1166.1 785.5,1166.4 786.5,1165.7 787.5,1166.5 788.5,1166.3 789.5,1164.7 790.5,1165.1 791.5,1166.8 792.5,1164.9 793.5,1166.7 794.5,1166 795.5,1164.6 796.5,1165.2 797.5,1166 798.5,1165.8 799.5,1165.8 800.5,1166.4 801.5,1164.3 802.5,1166.5 803.5,1165.6 804.5,1164.8 805.5,1165.7 806.5,1164.2 807.5,1166 808.5,1164.2 809.5,1164.4 810.5,1164.9 811.5,1164.4 812.5,1165.4 813.5,1164.5 814.5,1164.6 815.5,1165.2 816.5,1165.3 817.5,1164.8 818.5,1165.5 819.5,1166.2 820.5,1164.6 821.5,1165.8 822.5,1165.2 823.5,1164.5 824.5,1166 825.5,1166.3 826.5,1166 827.5,1164.9 828.5,1165.4 829.5,1165.7 830.5,1165.2 831.5,1164.1 832.5,1165.7 833.5,1165.3 834.5,1164.1 835.5,1164.8 836.5,1165.6 837.5,1165.1 838.5,1165 839.5,1165.8 840.5,1165.3 841.5,1165.4 842.5,1164.2 843.5,1165.3 844.5,1164.5 845.5,1163.8 846.5,1163.9 847.5,1165.2 848.5,1164.6 849.5,1165.2 850.5,1165 851.5,1164.8 852.5,1164 853.5,1163.6 854.5,1165.1 855.5,1165.7 856.5,1164.5 857.5,1165.3 858.5,1165.2 859.5,1163.1 860.5,1164.4 861.5,1162.6 862.5,1162.9 863.5,1161 864.5,1160.4 865.5,1161.4 866.5,1160.1 867.5,1157 868.5,1156.3 869.5,1155.1 870.5,1152.3 871.5,1150 872.5,1148.3 873.5,1145.6 874.5,1143.6 875.5,1139.7 876.5,1136.8 877.5,1131.9 878.5,1128.1 879.5,1125.1 880.5,1119.8 881.5,1116.6 882.5,1112 883.5,1105.9 884.5,1101.1 885.5,1094.3 886.5,1088.7 887.5,1081.6 888.5,1075.3 889.5,1065.2 890.5,1057.9 891.5,1046.8 892.5,1035.7 893.5,1024.8 894.5,1013.4 895.5,1002.6 896.5,990 897.5,977.7 898.5,967.4 899.5,953.8 900.5,942.9 901.5,933.8 902.5,923.9 903.5,917 904.5,911.4 905.5,906.3 906.5,906.3 907.5,906.5 908.5,910.7 909.5,918.9 910.5,925.7 911.5,937.5 912.5,946.6 913.5,959.9 914.5,970.8 915.5,985.2 916.5,997.3 917.5,1012.8 918.5,1025.9 919.5,1037.1 920.5,1050.1 921.5,1062.3 922.5,1075 923.5,1085.4 924.5,1095 925.5,1105 926.5,1111.3 927.5,1119.7 928.5,1126.3 929.5,1133.2 930.5,1139.8 931.5,1145.4 932.5,1148.3 933.5,1153.7 934.5,1156 935.5,1159.2 936.5,1161.6 937.5,1164.8 938.5,1166.6 939.5,1167.1 940.5,1169.6 941.5,1169.5 942.5,1171.3 943.5,1171.8 944.5,1172.7 945.5,1172.2 946.5,1172.8 947.5,1173.1 948.5,1173.4 949.5,1173.6 950.5,1173.8 951.5,1173.9 952.5,1174 953.5,1174.1 954.5,1174.2 955.5,1174.2 956.5,1174.3 957.5,1174.3 958.5,1174.3 959.5,1174.3 960.5,1174.4 961.5,1174.4 962.5,1174.4 963.5,1174.4 964.5,1174.4 965.5,1174.4 966.5,1174.4 967.5,1174.4 968.5,1174.4 969.5,1174.4 970.5,1174.4 971.5,1174.4" fill="none" stroke="#1a1a1a" stroke-width="1.10" stroke-linejoin="round" stroke-opacity="0.8"/>
</g>
<rect x="653.50" y="875.40" width="319.60" height="299.00" fill="none" stroke="#000" stroke-width="1.5"/>
<line x1="653.50" y1="874.90" x2="653.50" y2="1174.90" stroke="#000" stroke-width="1.70"/>
<line x1="653.00" y1="1174.40" x2="973.60" y2="1174.40" stroke="#000" stroke-width="1.80"/>
<line x1="648.00" y1="875.40" x2="653.50" y2="875.40" stroke="#000" stroke-width="1.60"/>
<text x="598.71" y="885.70" font-size="28.00">366</text>
<line x1="648.00" y1="914.50" x2="653.50" y2="914.50" stroke="#000" stroke-width="1.60"/>
<text x="598.58" y="924.80" font-size="28.00">320</text>
<line x1="648.00" y1="979.90" x2="653.50" y2="979.90" stroke="#000" stroke-width="1.60"/>
<text x="598.58" y="990.20" font-size="28.00">240</text>
<line x1="648.00" y1="1043.60" x2="653.50" y2="1043.60" stroke="#000" stroke-width="1.60"/>
<text x="598.58" y="1053.90" font-size="28.00">160</text>
<line x1="648.00" y1="1108.70" x2="653.50" y2="1108.70" stroke="#000" stroke-width="1.60"/>
<text x="614.15" y="1119.00" font-size="28.00">80</text>
<line x1="648.00" y1="1174.40" x2="653.50" y2="1174.40" stroke="#000" stroke-width="1.60"/>
<text x="629.72" y="1184.70" font-size="28.00">0</text>
<line x1="650.90" y1="1161.41" x2="653.50" y2="1161.41" stroke="#333" stroke-width="1.00"/>
<line x1="650.90" y1="1148.41" x2="653.50" y2="1148.41" stroke="#333" stroke-width="1.00"/>
<line x1="650.90" y1="1135.41" x2="653.50" y2="1135.41" stroke="#333" stroke-width="1.00"/>
<line x1="650.90" y1="1122.42" x2="653.50" y2="1122.42" stroke="#333" stroke-width="1.00"/>
<line x1="650.90" y1="1096.43" x2="653.50" y2="1096.43" stroke="#333" stroke-width="1.00"/>
<line x1="650.90" y1="1083.43" x2="653.50" y2="1083.43" stroke="#333" stroke-width="1.00"/>
<line x1="650.90" y1="1070.44" x2="653.50" y2="1070.44" stroke="#333" stroke-width="1.00"/>
<line x1="650.90" y1="1057.45" x2="653.50" y2="1057.45" stroke="#333" stroke-width="1.00"/>
<line x1="650.90" y1="1031.45" x2="653.50" y2="1031.45" stroke="#333" stroke-width="1.00"/>
<line x1="650.90" y1="1018.46" x2="653.50" y2="1018.46" stroke="#333" stroke-width="1.00"/>
<line x1="650.90" y1="1005.47" x2="653.50" y2="1005.47" stroke="#333" stroke-width="1.00"/>
<line x1="650.90" y1="992.47" x2="653.50" y2="992.47" stroke="#333" stroke-width="1.00"/>
<line x1="650.90" y1="966.48" x2="653.50" y2="966.48" stroke="#333" stroke-width="1.00"/>
<line x1="650.90" y1="953.49" x2="653.50" y2="953.49" stroke="#333" stroke-width="1.00"/>
<line x1="650.90" y1="940.49" x2="653.50" y2="940.49" stroke="#333" stroke-width="1.00"/>
<line x1="650.90" y1="927.50" x2="653.50" y2="927.50" stroke="#333" stroke-width="1.00"/>
<line x1="650.90" y1="901.50" x2="653.50" y2="901.50" stroke="#333" stroke-width="1.00"/>
<line x1="650.90" y1="888.51" x2="653.50" y2="888.51" stroke="#333" stroke-width="1.00"/>
<line x1="653.50" y1="1174.40" x2="653.50" y2="1179.90" stroke="#000" stroke-width="1.60"/>
<text x="634.18" y="1206.50" font-size="28.00">5.2</text>
<line x1="696.80" y1="1174.40" x2="696.80" y2="1179.90" stroke="#000" stroke-width="1.60"/>
<text x="689.01" y="1206.50" font-size="28.00">8</text>
<line x1="757.50" y1="1174.40" x2="757.50" y2="1179.90" stroke="#000" stroke-width="1.60"/>
<text x="741.57" y="1206.50" font-size="28.00">12</text>
<line x1="818.20" y1="1174.40" x2="818.20" y2="1179.90" stroke="#000" stroke-width="1.60"/>
<text x="802.18" y="1206.50" font-size="28.00">16</text>
<line x1="878.90" y1="1174.40" x2="878.90" y2="1179.90" stroke="#000" stroke-width="1.60"/>
<text x="863.17" y="1206.50" font-size="28.00">20</text>
<line x1="939.60" y1="1174.40" x2="939.60" y2="1179.90" stroke="#000" stroke-width="1.60"/>
<text x="923.73" y="1206.50" font-size="28.00">24</text>
<line x1="660.38" y1="1174.40" x2="660.38" y2="1177.20" stroke="#333" stroke-width="1.00"/>
<line x1="672.52" y1="1174.40" x2="672.52" y2="1177.20" stroke="#333" stroke-width="1.00"/>
<line x1="684.66" y1="1174.40" x2="684.66" y2="1177.20" stroke="#333" stroke-width="1.00"/>
<line x1="708.94" y1="1174.40" x2="708.94" y2="1177.20" stroke="#333" stroke-width="1.00"/>
<line x1="721.08" y1="1174.40" x2="721.08" y2="1177.20" stroke="#333" stroke-width="1.00"/>
<line x1="733.22" y1="1174.40" x2="733.22" y2="1177.20" stroke="#333" stroke-width="1.00"/>
<line x1="745.36" y1="1174.40" x2="745.36" y2="1177.20" stroke="#333" stroke-width="1.00"/>
<line x1="769.64" y1="1174.40" x2="769.64" y2="1177.20" stroke="#333" stroke-width="1.00"/>
<line x1="781.78" y1="1174.40" x2="781.78" y2="1177.20" stroke="#333" stroke-width="1.00"/>
<line x1="793.92" y1="1174.40" x2="793.92" y2="1177.20" stroke="#333" stroke-width="1.00"/>
<line x1="806.06" y1="1174.40" x2="806.06" y2="1177.20" stroke="#333" stroke-width="1.00"/>
<line x1="830.34" y1="1174.40" x2="830.34" y2="1177.20" stroke="#333" stroke-width="1.00"/>
<line x1="842.48" y1="1174.40" x2="842.48" y2="1177.20" stroke="#333" stroke-width="1.00"/>
<line x1="854.62" y1="1174.40" x2="854.62" y2="1177.20" stroke="#333" stroke-width="1.00"/>
<line x1="866.76" y1="1174.40" x2="866.76" y2="1177.20" stroke="#333" stroke-width="1.00"/>
<line x1="891.04" y1="1174.40" x2="891.04" y2="1177.20" stroke="#333" stroke-width="1.00"/>
<line x1="903.18" y1="1174.40" x2="903.18" y2="1177.20" stroke="#333" stroke-width="1.00"/>
<line x1="915.32" y1="1174.40" x2="915.32" y2="1177.20" stroke="#333" stroke-width="1.00"/>
<line x1="927.46" y1="1174.40" x2="927.46" y2="1177.20" stroke="#333" stroke-width="1.00"/>
<line x1="951.74" y1="1174.40" x2="951.74" y2="1177.20" stroke="#333" stroke-width="1.00"/>
<line x1="963.88" y1="1174.40" x2="963.88" y2="1177.20" stroke="#333" stroke-width="1.00"/>
<text x="660.74" y="865.20" font-size="27.50">Filanesib 10 nM</text>
<text transform="translate(587.80,1019.60) rotate(-90)" x="-37.36" y="0" font-size="28">Count</text>
<text x="740.24" y="1239.50" font-size="27.50">PI-A (10<tspan font-size="13" dy="-13">6</tspan><tspan dy="13">)</tspan></text>
<clipPath id="c7"><rect x="220.70" y="1292.30" width="320.30" height="300.00"/></clipPath>
<g clip-path="url(#c7)">
<path d="M289.7,1592.3L289.7,1592.2 290.7,1592.1 291.7,1592 292.7,1591.9 293.7,1591.7 294.7,1591.5 295.7,1590.1 296.7,1589.7 297.7,1589.2 298.7,1588.7 299.7,1588.2 300.7,1587.6 301.7,1587.2 302.7,1586.8 303.7,1586.5 304.7,1586.3 305.7,1586.2 306.7,1586 307.7,1586 308.7,1585.9 309.7,1585.9 310.7,1585.9 311.7,1585.8 312.7,1585.8 313.7,1585.8 314.7,1586.1 315.7,1586.6 316.7,1586.9 317.7,1587 318.7,1587 319.7,1587.1 320.7,1587.1 321.7,1587.1 322.7,1587.1 323.7,1587.1 324.7,1587.1 325.7,1587.1 326.7,1587.1 327.7,1587.1 328.7,1587.1 329.7,1587.1 330.7,1587.1 331.7,1587.1 332.7,1587.1 333.7,1587.1 334.7,1587.1 335.7,1587.1 336.7,1587.1 337.7,1587.1 338.7,1587.1 339.7,1587.1 340.7,1587.1 341.7,1587.1 342.7,1587.1 343.7,1587.1 344.7,1587.1 345.7,1587.1 346.7,1587.1 347.7,1587.1 348.7,1587.1 349.7,1587.1 350.7,1587.1 351.7,1587.1 352.7,1587.1 353.7,1587.1 354.7,1587.1 355.7,1587.1 356.7,1587.1 357.7,1587.1 358.7,1587.1 359.7,1587.1 360.7,1587.1 361.7,1587.1 362.7,1587.1 363.7,1587.1 364.7,1587.1 365.7,1587.1 366.7,1587.1 367.7,1587.1 368.7,1587.1 369.7,1587.1 370.7,1587.1 371.7,1587.1 372.7,1587.1 373.7,1587.1 374.7,1587.1 375.7,1587.1 376.7,1587.1 377.7,1587.1 378.7,1587.1 379.7,1587.1 380.7,1587.1 381.7,1587.1 382.7,1587.1 383.7,1587.1 384.7,1587.1 385.7,1587.1 386.7,1587.1 387.7,1587.1 388.7,1587 389.7,1587 390.7,1586.9 391.7,1586.9 392.7,1586.7 393.7,1586.6 394.7,1586.3 395.7,1586 396.7,1585.8 397.7,1585.8 398.7,1585.8 399.7,1585.8 400.7,1585.9 401.7,1585.9 402.7,1585.9 403.7,1586 404.7,1586.1 405.7,1586.2 406.7,1586.4 407.7,1586.6 408.7,1587 409.7,1587.4 410.7,1587.9 411.7,1588.4 412.7,1588.9 413.7,1589.5 414.7,1589.9 415.7,1590.3 416.7,1591.6 417.7,1591.8 418.7,1591.9 419.7,1592.1 420.7,1592.1 421.7,1592.2 421.7,1592.3 Z" fill="#dcd87a" stroke="none" stroke-width="1.00"/>
<path d="M272.7,1592.3L272.7,1592.2 273.7,1592.1 274.7,1591.9 275.7,1591.6 276.7,1591 277.7,1590 278.7,1588.4 279.7,1585.7 280.7,1581.7 281.7,1575.7 282.7,1567.2 283.7,1555.6 284.7,1540.4 285.7,1521.3 286.7,1498.2 287.7,1471.8 288.7,1442.9 289.7,1413.1 290.7,1384.3 291.7,1358.8 292.7,1338.7 293.7,1325.8 294.7,1321.4 295.7,1325.8 296.7,1338.7 297.7,1358.8 298.7,1384.3 299.7,1413.1 300.7,1442.9 301.7,1471.8 302.7,1498.2 303.7,1521.3 304.7,1540.4 305.7,1555.6 306.7,1567.2 307.7,1575.7 308.7,1581.7 309.7,1585.7 310.7,1588.4 311.7,1590 312.7,1591 313.7,1591.6 314.7,1591.9 315.7,1592.1 316.7,1592.2 316.7,1592.3 Z" fill="#80dd80" stroke="none" stroke-width="1.00"/>
<path d="M394.7,1592.3L394.7,1592.2 395.7,1592.1 396.7,1592.1 397.7,1592 398.7,1591.9 399.7,1591.7 400.7,1591.5 401.7,1591.2 402.7,1590.8 403.7,1590.4 404.7,1589.8 405.7,1589.1 406.7,1588.3 407.7,1587.3 408.7,1586.2 409.7,1584.9 410.7,1583.4 411.7,1581.8 412.7,1580.1 413.7,1578.3 414.7,1576.5 415.7,1574.6 416.7,1572.8 417.7,1571.1 418.7,1569.5 419.7,1568.1 420.7,1567 421.7,1566.2 422.7,1565.7 423.7,1565.5 424.7,1565.8 425.7,1566.3 426.7,1567.2 427.7,1568.4 428.7,1569.8 429.7,1571.4 430.7,1573.1 431.7,1575 432.7,1576.8 433.7,1578.7 434.7,1580.5 435.7,1582.2 436.7,1583.7 437.7,1585.1 438.7,1586.4 439.7,1587.5 440.7,1588.4 441.7,1589.3 442.7,1589.9 443.7,1590.5 444.7,1590.9 445.7,1591.2 446.7,1591.5 447.7,1591.7 448.7,1591.9 449.7,1592 450.7,1592.1 451.7,1592.2 451.7,1592.3 Z" fill="#80ffff" stroke="none" stroke-width="1.00"/>
<path d="M292.7,1592.3L292.7,1592.2 293.7,1592 294.7,1591.8 295.7,1591.3 296.7,1590.5 297.7,1589.3 298.7,1587.6 299.7,1585.5 300.7,1583.2 301.7,1580.9 302.7,1578.9 303.7,1577.6 304.7,1577.3 305.7,1578 306.7,1579.6 307.7,1581.8 308.7,1584.2 309.7,1586.4 310.7,1588.3 311.7,1589.8 312.7,1590.8 313.7,1591.5 314.7,1591.9 315.7,1592.1 316.7,1592.2 316.7,1592.3 Z" fill="#6ccf3c" stroke="none" stroke-width="1.00"/>
<path d="M390.7,1592.3L390.7,1592.2 391.7,1592.1 392.7,1592 393.7,1591.9 394.7,1591.7 395.7,1591.5 396.7,1591.2 397.7,1590.8 398.7,1590.4 399.7,1589.9 400.7,1589.4 401.7,1588.9 402.7,1588.4 403.7,1588 404.7,1587.7 405.7,1587.4 406.7,1587.3 407.7,1587.3 408.7,1587.5 409.7,1587.8 410.7,1588.2 411.7,1588.6 412.7,1589.1 413.7,1589.6 414.7,1590.1 415.7,1590.6 416.7,1590.9 417.7,1591.3 418.7,1591.6 419.7,1591.8 420.7,1591.9 421.7,1592.1 422.7,1592.1 423.7,1592.2 423.7,1592.3 Z" fill="#78ecc0" stroke="none" stroke-width="1.00"/>
<path d="M221.7,1592.3 222.7,1592.3 223.7,1592.3 224.7,1592.3 225.7,1592.3 226.7,1592.3 227.7,1592.3 228.7,1592.3 229.7,1592.3 230.7,1592.3 231.7,1592.3 232.7,1592.3 233.7,1592.3 234.7,1592.3 235.7,1592.3 236.7,1592.3 237.7,1592.3 238.7,1592.3 239.7,1592.3 240.7,1592.3 241.7,1592.3 242.7,1592.3 243.7,1592.3 244.7,1592.3 245.7,1592.3 246.7,1592.3 247.7,1592.3 248.7,1592.3 249.7,1592.3 250.7,1592.3 251.7,1592.3 252.7,1592.3 253.7,1592.3 254.7,1592.3 255.7,1592.3 256.7,1592.3 257.7,1592.3 258.7,1592.3 259.7,1592.3 260.7,1592.3 261.7,1592.3 262.7,1592.3 263.7,1592.3 264.7,1592.3 265.7,1592.3 266.7,1592.3 267.7,1592.3 268.7,1592.3 269.7,1592.3 270.7,1592.3 271.7,1592.2 272.7,1592.1 273.7,1592 274.7,1591.7 275.7,1591.3 276.7,1590.4 277.7,1589.1 278.7,1587 279.7,1583.8 280.7,1579 281.7,1572.2 282.7,1562.8 283.7,1550.2 284.7,1534.1 285.7,1514.4 286.7,1491.1 287.7,1464.8 288.7,1436.5 289.7,1407.8 290.7,1380.3 291.7,1356.1 292.7,1337 293.7,1324.7 294.7,1320 295.7,1323.4 296.7,1334.2 297.7,1351.4 298.7,1373.3 299.7,1398 300.7,1423.9 301.7,1449.3 302.7,1473.2 303.7,1495 304.7,1514.2 305.7,1530.8 306.7,1544.8 307.7,1556.3 308.7,1565.5 309.7,1572.5 310.7,1577.6 311.7,1581.2 312.7,1583.5 313.7,1585 314.7,1585.8 315.7,1586.3 316.7,1586.6 317.7,1586.7 318.7,1586.7 319.7,1586.8 320.7,1586.8 321.7,1586.8 322.7,1586.8 323.7,1586.8 324.7,1586.8 325.7,1586.8 326.7,1586.8 327.7,1586.8 328.7,1586.8 329.7,1586.8 330.7,1586.8 331.7,1586.8 332.7,1586.8 333.7,1586.8 334.7,1586.8 335.7,1586.8 336.7,1586.8 337.7,1586.8 338.7,1586.8 339.7,1586.8 340.7,1586.8 341.7,1586.8 342.7,1586.8 343.7,1586.8 344.7,1586.8 345.7,1586.8 346.7,1586.8 347.7,1586.8 348.7,1586.8 349.7,1586.8 350.7,1586.8 351.7,1586.8 352.7,1586.8 353.7,1586.8 354.7,1586.8 355.7,1586.8 356.7,1586.8 357.7,1586.8 358.7,1586.8 359.7,1586.8 360.7,1586.8 361.7,1586.8 362.7,1586.8 363.7,1586.8 364.7,1586.8 365.7,1586.8 366.7,1586.8 367.7,1586.8 368.7,1586.8 369.7,1586.8 370.7,1586.8 371.7,1586.8 372.7,1586.8 373.7,1586.8 374.7,1586.8 375.7,1586.8 376.7,1586.8 377.7,1586.8 378.7,1586.8 379.7,1586.8 380.7,1586.8 381.7,1586.8 382.7,1586.8 383.7,1586.8 384.7,1586.8 385.7,1586.8 386.7,1586.8 387.7,1586.8 388.7,1586.7 389.7,1586.7 390.7,1586.6 391.7,1586.6 392.7,1586.4 393.7,1586.3 394.7,1586 395.7,1585.7 396.7,1585.4 397.7,1584.9 398.7,1584.3 399.7,1583.7 400.7,1582.9 401.7,1582.1 402.7,1581.2 403.7,1580.3 404.7,1579.4 405.7,1578.5 406.7,1577.7 407.7,1576.9 408.7,1576.2 409.7,1575.6 410.7,1574.9 411.7,1574.3 412.7,1573.6 413.7,1572.9 414.7,1572 415.7,1571 416.7,1569.9 417.7,1568.7 418.7,1567.7 419.7,1566.7 420.7,1565.8 421.7,1565.2 422.7,1564.9 423.7,1564.8 424.7,1565.1 425.7,1565.7 426.7,1566.5 427.7,1567.7 428.7,1569 429.7,1570.6 430.7,1572.3 431.7,1574.1 432.7,1575.9 433.7,1577.8 434.7,1579.5 435.7,1581.2 436.7,1582.8 437.7,1584.3 438.7,1585.6 439.7,1586.8 440.7,1587.8 441.7,1588.7 442.7,1589.4 443.7,1590 444.7,1590.6 445.7,1591 446.7,1591.3 447.7,1591.5 448.7,1591.7 449.7,1591.9 450.7,1592 451.7,1592.1 452.7,1592.2 453.7,1592.2 454.7,1592.2 455.7,1592.3 456.7,1592.3 457.7,1592.3 458.7,1592.3 459.7,1592.3 460.7,1592.3 461.7,1592.3 462.7,1592.3 463.7,1592.3 464.7,1592.3 465.7,1592.3 466.7,1592.3 467.7,1592.3 468.7,1592.3 469.7,1592.3 470.7,1592.3 471.7,1592.3 472.7,1592.3 473.7,1592.3 474.7,1592.3 475.7,1592.3 476.7,1592.3 477.7,1592.3 478.7,1592.3 479.7,1592.3 480.7,1592.3 481.7,1592.3 482.7,1592.3 483.7,1592.3 484.7,1592.3 485.7,1592.3 486.7,1592.3 487.7,1592.3 488.7,1592.3 489.7,1592.3 490.7,1592.3 491.7,1592.3 492.7,1592.3 493.7,1592.3 494.7,1592.3 495.7,1592.3 496.7,1592.3 497.7,1592.3 498.7,1592.3 499.7,1592.3 500.7,1592.3 501.7,1592.3 502.7,1592.3 503.7,1592.3 504.7,1592.3 505.7,1592.3 506.7,1592.3 507.7,1592.3 508.7,1592.3 509.7,1592.3 510.7,1592.3 511.7,1592.3 512.7,1592.3 513.7,1592.3 514.7,1592.3 515.7,1592.3 516.7,1592.3 517.7,1592.3 518.7,1592.3 519.7,1592.3 520.7,1592.3 521.7,1592.3 522.7,1592.3 523.7,1592.3 524.7,1592.3 525.7,1592.3 526.7,1592.3 527.7,1592.3 528.7,1592.3 529.7,1592.3 530.7,1592.3 531.7,1592.3 532.7,1592.3 533.7,1592.3 534.7,1592.3 535.7,1592.3 536.7,1592.3 537.7,1592.3 538.7,1592.3 539.7,1592.3" fill="none" stroke="#e030e0" stroke-width="1.50" stroke-linejoin="round"/>
<path d="M221.7,1592.3 222.7,1592.3 223.7,1592.3 224.7,1592.3 225.7,1592.3 226.7,1592.3 227.7,1592.3 228.7,1592.3 229.7,1592.3 230.7,1592.3 231.7,1592.3 232.7,1592.3 233.7,1592.3 234.7,1592.3 235.7,1592.3 236.7,1592.3 237.7,1592.3 238.7,1592.3 239.7,1592.3 240.7,1592.3 241.7,1592.3 242.7,1592.3 243.7,1592.3 244.7,1592.3 245.7,1592.3 246.7,1592.3 247.7,1592.3 248.7,1592.3 249.7,1592.3 250.7,1592.3 251.7,1592.3 252.7,1592.3 253.7,1592.3 254.7,1592.3 255.7,1592.3 256.7,1592.3 257.7,1592.3 258.7,1592.3 259.7,1592.3 260.7,1592.3 261.7,1592.3 262.7,1592.3 263.7,1592.3 264.7,1592.3 265.7,1592.3 266.7,1592.3 267.7,1592.3 268.7,1592.2 269.7,1592.2 270.7,1592 271.7,1591.6 272.7,1591 273.7,1590.4 274.7,1589.5 275.7,1586.6 276.7,1585.9 277.7,1582.5 278.7,1580 279.7,1576.9 280.7,1570.4 281.7,1563.6 282.7,1551.7 283.7,1537.9 284.7,1519.2 285.7,1496 286.7,1469.4 287.7,1443.2 288.7,1414.2 289.7,1385.4 290.7,1359.6 291.7,1340.3 292.7,1327.1 293.7,1319.6 294.7,1323.8 295.7,1331.5 296.7,1349.3 297.7,1371.2 298.7,1395.9 299.7,1421.4 300.7,1445.8 301.7,1471.3 302.7,1491.9 303.7,1510.7 304.7,1527.6 305.7,1541 306.7,1553.6 307.7,1563 308.7,1570.2 309.7,1574.7 310.7,1579.5 311.7,1582.7 312.7,1584 313.7,1585.5 314.7,1586.5 315.7,1585.7 316.7,1586.1 317.7,1587.3 318.7,1586.6 319.7,1586.7 320.7,1585.9 321.7,1586.2 322.7,1587.3 323.7,1585.6 324.7,1587.7 325.7,1587 326.7,1586.2 327.7,1587.6 328.7,1586.8 329.7,1587.9 330.7,1586.4 331.7,1586.2 332.7,1586.6 333.7,1585.9 334.7,1587.2 335.7,1586.3 336.7,1586.6 337.7,1586.6 338.7,1586.9 339.7,1586 340.7,1585.7 341.7,1586.9 342.7,1586.4 343.7,1587.9 344.7,1586.3 345.7,1586.4 346.7,1585.6 347.7,1586 348.7,1587.3 349.7,1587.1 350.7,1586.4 351.7,1587.9 352.7,1586.9 353.7,1587.6 354.7,1587.7 355.7,1587.9 356.7,1586.2 357.7,1587.7 358.7,1587.4 359.7,1587.1 360.7,1585.9 361.7,1587.8 362.7,1586.9 363.7,1586.7 364.7,1585.9 365.7,1586 366.7,1585.9 367.7,1587.3 368.7,1587 369.7,1587.1 370.7,1585.9 371.7,1585.7 372.7,1587.6 373.7,1587.6 374.7,1587.4 375.7,1587.4 376.7,1586.8 377.7,1586.6 378.7,1587.4 379.7,1588 380.7,1587 381.7,1587.1 382.7,1586.6 383.7,1585.7 384.7,1586.3 385.7,1586.8 386.7,1586.5 387.7,1586.3 388.7,1587.8 389.7,1585.8 390.7,1586 391.7,1585.7 392.7,1585.8 393.7,1586.6 394.7,1586.3 395.7,1586.8 396.7,1585.2 397.7,1586.1 398.7,1585.6 399.7,1584.6 400.7,1584.1 401.7,1583 402.7,1582.9 403.7,1582.3 404.7,1581.2 405.7,1580.6 406.7,1579.3 407.7,1579.6 408.7,1577.1 409.7,1577.3 410.7,1578 411.7,1577.3 412.7,1576.5 413.7,1575.9 414.7,1575.6 415.7,1572.9 416.7,1571.4 417.7,1571.4 418.7,1570 419.7,1569.7 420.7,1568.5 421.7,1566.9 422.7,1566.3 423.7,1564.4 424.7,1565.7 425.7,1566.1 426.7,1564.3 427.7,1566 428.7,1567.9 429.7,1568.2 430.7,1570.9 431.7,1571.4 432.7,1572 433.7,1574.1 434.7,1576.4 435.7,1579.2 436.7,1580.7 437.7,1582.9 438.7,1582.9 439.7,1584.9 440.7,1585.6 441.7,1587.7 442.7,1588.9 443.7,1588.3 444.7,1588.6 445.7,1590.3 446.7,1590.8 447.7,1591.1 448.7,1591.4 449.7,1591.6 450.7,1591.8 451.7,1592 452.7,1592.1 453.7,1592.1 454.7,1592.2 455.7,1592.2 456.7,1592.2 457.7,1592.3 458.7,1592.3 459.7,1592.3 460.7,1592.3 461.7,1592.3 462.7,1592.3 463.7,1592.3 464.7,1592.3 465.7,1592.3 466.7,1592.3 467.7,1592.3 468.7,1592.3 469.7,1592.3 470.7,1592.3 471.7,1592.3 472.7,1592.3 473.7,1592.3 474.7,1592.3 475.7,1592.3 476.7,1592.3 477.7,1592.3 478.7,1592.3 479.7,1592.3 480.7,1592.3 481.7,1592.3 482.7,1592.3 483.7,1592.3 484.7,1592.3 485.7,1592.3 486.7,1592.3 487.7,1592.3 488.7,1592.3 489.7,1592.3 490.7,1592.3 491.7,1592.3 492.7,1592.3 493.7,1592.3 494.7,1592.3 495.7,1592.3 496.7,1592.3 497.7,1592.3 498.7,1592.3 499.7,1592.3 500.7,1592.3 501.7,1592.3 502.7,1592.3 503.7,1592.3 504.7,1592.3 505.7,1592.3 506.7,1592.3 507.7,1592.3 508.7,1592.3 509.7,1592.3 510.7,1592.3 511.7,1592.3 512.7,1592.3 513.7,1592.3 514.7,1592.3 515.7,1592.3 516.7,1592.3 517.7,1592.3 518.7,1592.3 519.7,1592.3 520.7,1592.3 521.7,1592.3 522.7,1592.3 523.7,1592.3 524.7,1592.3 525.7,1592.3 526.7,1592.3 527.7,1592.3 528.7,1592.3 529.7,1592.3 530.7,1592.3 531.7,1592.3 532.7,1592.3 533.7,1592.3 534.7,1592.3 535.7,1592.3 536.7,1592.3 537.7,1592.3 538.7,1592.3 539.7,1592.3" fill="none" stroke="#1a1a1a" stroke-width="1.10" stroke-linejoin="round" stroke-opacity="0.8"/>
</g>
<rect x="220.70" y="1292.30" width="320.30" height="300.00" fill="none" stroke="#000" stroke-width="1.5"/>
<line x1="220.70" y1="1291.80" x2="220.70" y2="1592.80" stroke="#000" stroke-width="1.70"/>
<line x1="220.20" y1="1592.30" x2="541.50" y2="1592.30" stroke="#000" stroke-width="1.80"/>
<line x1="215.20" y1="1292.30" x2="220.70" y2="1292.30" stroke="#000" stroke-width="1.60"/>
<text x="172.74" y="1302.60" font-size="28.00">3.1</text>
<line x1="215.20" y1="1358.80" x2="220.70" y2="1358.80" stroke="#000" stroke-width="1.60"/>
<text x="172.20" y="1369.10" font-size="28.00">2.4</text>
<line x1="215.20" y1="1417.70" x2="220.70" y2="1417.70" stroke="#000" stroke-width="1.60"/>
<text x="172.59" y="1428.00" font-size="28.00">1.8</text>
<line x1="215.20" y1="1475.90" x2="220.70" y2="1475.90" stroke="#000" stroke-width="1.60"/>
<text x="172.78" y="1486.20" font-size="28.00">1.2</text>
<line x1="215.20" y1="1534.10" x2="220.70" y2="1534.10" stroke="#000" stroke-width="1.60"/>
<text x="172.61" y="1544.40" font-size="28.00">0.6</text>
<line x1="215.20" y1="1592.30" x2="220.70" y2="1592.30" stroke="#000" stroke-width="1.60"/>
<text x="195.82" y="1602.60" font-size="28.00">0</text>
<line x1="218.10" y1="1580.62" x2="220.70" y2="1580.62" stroke="#333" stroke-width="1.00"/>
<line x1="218.10" y1="1568.95" x2="220.70" y2="1568.95" stroke="#333" stroke-width="1.00"/>
<line x1="218.10" y1="1557.27" x2="220.70" y2="1557.27" stroke="#333" stroke-width="1.00"/>
<line x1="218.10" y1="1545.60" x2="220.70" y2="1545.60" stroke="#333" stroke-width="1.00"/>
<line x1="218.10" y1="1522.25" x2="220.70" y2="1522.25" stroke="#333" stroke-width="1.00"/>
<line x1="218.10" y1="1510.58" x2="220.70" y2="1510.58" stroke="#333" stroke-width="1.00"/>
<line x1="218.10" y1="1498.90" x2="220.70" y2="1498.90" stroke="#333" stroke-width="1.00"/>
<line x1="218.10" y1="1487.22" x2="220.70" y2="1487.22" stroke="#333" stroke-width="1.00"/>
<line x1="218.10" y1="1463.88" x2="220.70" y2="1463.88" stroke="#333" stroke-width="1.00"/>
<line x1="218.10" y1="1452.20" x2="220.70" y2="1452.20" stroke="#333" stroke-width="1.00"/>
<line x1="218.10" y1="1440.52" x2="220.70" y2="1440.52" stroke="#333" stroke-width="1.00"/>
<line x1="218.10" y1="1428.85" x2="220.70" y2="1428.85" stroke="#333" stroke-width="1.00"/>
<line x1="218.10" y1="1405.50" x2="220.70" y2="1405.50" stroke="#333" stroke-width="1.00"/>
<line x1="218.10" y1="1393.82" x2="220.70" y2="1393.82" stroke="#333" stroke-width="1.00"/>
<line x1="218.10" y1="1382.15" x2="220.70" y2="1382.15" stroke="#333" stroke-width="1.00"/>
<line x1="218.10" y1="1370.47" x2="220.70" y2="1370.47" stroke="#333" stroke-width="1.00"/>
<line x1="218.10" y1="1347.12" x2="220.70" y2="1347.12" stroke="#333" stroke-width="1.00"/>
<line x1="218.10" y1="1335.45" x2="220.70" y2="1335.45" stroke="#333" stroke-width="1.00"/>
<line x1="218.10" y1="1323.77" x2="220.70" y2="1323.77" stroke="#333" stroke-width="1.00"/>
<line x1="218.10" y1="1312.10" x2="220.70" y2="1312.10" stroke="#333" stroke-width="1.00"/>
<line x1="218.10" y1="1300.42" x2="220.70" y2="1300.42" stroke="#333" stroke-width="1.00"/>
<line x1="220.70" y1="1592.30" x2="220.70" y2="1597.80" stroke="#000" stroke-width="1.60"/>
<text x="201.38" y="1621.30" font-size="28.00">5.2</text>
<line x1="286.20" y1="1592.30" x2="286.20" y2="1597.80" stroke="#000" stroke-width="1.60"/>
<text x="270.11" y="1621.30" font-size="28.00">10</text>
<line x1="352.40" y1="1592.30" x2="352.40" y2="1597.80" stroke="#000" stroke-width="1.60"/>
<text x="336.35" y="1621.30" font-size="28.00">15</text>
<line x1="418.90" y1="1592.30" x2="418.90" y2="1597.80" stroke="#000" stroke-width="1.60"/>
<text x="403.17" y="1621.30" font-size="28.00">20</text>
<line x1="485.30" y1="1592.30" x2="485.30" y2="1597.80" stroke="#000" stroke-width="1.60"/>
<text x="469.61" y="1621.30" font-size="28.00">25</text>
<line x1="541.00" y1="1592.30" x2="541.00" y2="1597.80" stroke="#000" stroke-width="1.60"/>
<text x="525.39" y="1621.30" font-size="28.00">29</text>
<line x1="233.11" y1="1592.30" x2="233.11" y2="1595.10" stroke="#333" stroke-width="1.00"/>
<line x1="246.38" y1="1592.30" x2="246.38" y2="1595.10" stroke="#333" stroke-width="1.00"/>
<line x1="259.65" y1="1592.30" x2="259.65" y2="1595.10" stroke="#333" stroke-width="1.00"/>
<line x1="272.93" y1="1592.30" x2="272.93" y2="1595.10" stroke="#333" stroke-width="1.00"/>
<line x1="299.47" y1="1592.30" x2="299.47" y2="1595.10" stroke="#333" stroke-width="1.00"/>
<line x1="312.75" y1="1592.30" x2="312.75" y2="1595.10" stroke="#333" stroke-width="1.00"/>
<line x1="326.02" y1="1592.30" x2="326.02" y2="1595.10" stroke="#333" stroke-width="1.00"/>
<line x1="339.29" y1="1592.30" x2="339.29" y2="1595.10" stroke="#333" stroke-width="1.00"/>
<line x1="365.84" y1="1592.30" x2="365.84" y2="1595.10" stroke="#333" stroke-width="1.00"/>
<line x1="379.11" y1="1592.30" x2="379.11" y2="1595.10" stroke="#333" stroke-width="1.00"/>
<line x1="392.39" y1="1592.30" x2="392.39" y2="1595.10" stroke="#333" stroke-width="1.00"/>
<line x1="405.66" y1="1592.30" x2="405.66" y2="1595.10" stroke="#333" stroke-width="1.00"/>
<line x1="432.21" y1="1592.30" x2="432.21" y2="1595.10" stroke="#333" stroke-width="1.00"/>
<line x1="445.48" y1="1592.30" x2="445.48" y2="1595.10" stroke="#333" stroke-width="1.00"/>
<line x1="458.75" y1="1592.30" x2="458.75" y2="1595.10" stroke="#333" stroke-width="1.00"/>
<line x1="472.03" y1="1592.30" x2="472.03" y2="1595.10" stroke="#333" stroke-width="1.00"/>
<line x1="498.57" y1="1592.30" x2="498.57" y2="1595.10" stroke="#333" stroke-width="1.00"/>
<line x1="511.85" y1="1592.30" x2="511.85" y2="1595.10" stroke="#333" stroke-width="1.00"/>
<line x1="525.12" y1="1592.30" x2="525.12" y2="1595.10" stroke="#333" stroke-width="1.00"/>
<line x1="538.39" y1="1592.30" x2="538.39" y2="1595.10" stroke="#333" stroke-width="1.00"/>
<text x="226.14" y="1278.50" font-size="27.50">DMSO</text>
<text transform="translate(163.00,1436.30) rotate(-90)" x="-69.76" y="0" font-size="28">Count (10<tspan font-size="13" dy="-13">3</tspan><tspan dy="13">)</tspan></text>
<text x="309.74" y="1654.30" font-size="27.50">PI-A (10<tspan font-size="13" dy="-13">6</tspan><tspan dy="13">)</tspan></text>
<clipPath id="c8"><rect x="653.50" y="1292.20" width="319.60" height="299.30"/></clipPath>
<g clip-path="url(#c8)">
<path d="M725.5,1591.5L725.5,1591.4 726.5,1591.3 727.5,1591.2 728.5,1591 729.5,1590.8 730.5,1590.6 731.5,1589.2 732.5,1588.7 733.5,1588.2 734.5,1587.5 735.5,1586.9 736.5,1586.2 737.5,1585.7 738.5,1585.2 739.5,1584.8 740.5,1584.6 741.5,1584.4 742.5,1584.2 743.5,1584.1 744.5,1584 745.5,1584 746.5,1584 747.5,1583.9 748.5,1583.9 749.5,1583.9 750.5,1583.9 751.5,1584.5 752.5,1584.8 753.5,1585 754.5,1585.1 755.5,1585.2 756.5,1585.2 757.5,1585.2 758.5,1585.2 759.5,1585.2 760.5,1585.2 761.5,1585.2 762.5,1585.2 763.5,1585.2 764.5,1585.2 765.5,1585.2 766.5,1585.2 767.5,1585.2 768.5,1585.2 769.5,1585.2 770.5,1585.2 771.5,1585.2 772.5,1585.2 773.5,1585.2 774.5,1585.2 775.5,1585.2 776.5,1585.2 777.5,1585.2 778.5,1585.2 779.5,1585.2 780.5,1585.2 781.5,1585.2 782.5,1585.2 783.5,1585.2 784.5,1585.2 785.5,1585.2 786.5,1585.2 787.5,1585.2 788.5,1585.2 789.5,1585.2 790.5,1585.2 791.5,1585.2 792.5,1585.2 793.5,1585.2 794.5,1585.2 795.5,1585.2 796.5,1585.2 797.5,1585.2 798.5,1585.2 799.5,1585.2 800.5,1585.2 801.5,1585.2 802.5,1585.2 803.5,1585.2 804.5,1585.2 805.5,1585.2 806.5,1585.2 807.5,1585.2 808.5,1585.2 809.5,1585.2 810.5,1585.2 811.5,1585.2 812.5,1585.2 813.5,1585.2 814.5,1585.2 815.5,1585.2 816.5,1585.2 817.5,1585.2 818.5,1585.2 819.5,1585.2 820.5,1585.2 821.5,1585.2 822.5,1585.2 823.5,1585.2 824.5,1585.2 825.5,1585.1 826.5,1585.1 827.5,1585.1 828.5,1585 829.5,1584.9 830.5,1584.8 831.5,1584.6 832.5,1584.4 833.5,1584.1 834.5,1583.9 835.5,1583.9 836.5,1584 837.5,1584 838.5,1584 839.5,1584.1 840.5,1584.2 841.5,1584.4 842.5,1584.6 843.5,1584.8 844.5,1585.2 845.5,1585.7 846.5,1586.2 847.5,1586.9 848.5,1587.5 849.5,1588.2 850.5,1588.7 851.5,1589.2 852.5,1590.6 853.5,1590.8 854.5,1591 855.5,1591.2 856.5,1591.3 857.5,1591.4 857.5,1591.5 Z" fill="#dcd87a" stroke="none" stroke-width="1.00"/>
<path d="M707.5,1591.5L707.5,1591.4 708.5,1591.3 709.5,1591.2 710.5,1590.9 711.5,1590.4 712.5,1589.5 713.5,1588.1 714.5,1585.9 715.5,1582.6 716.5,1577.6 717.5,1570.7 718.5,1561.1 719.5,1548.4 720.5,1532.3 721.5,1512.7 722.5,1489.6 723.5,1463.6 724.5,1435.9 725.5,1407.7 726.5,1380.9 727.5,1357.4 728.5,1339 729.5,1327.3 730.5,1323.3 731.5,1327.3 732.5,1339 733.5,1357.4 734.5,1380.9 735.5,1407.7 736.5,1435.9 737.5,1463.6 738.5,1489.6 739.5,1512.7 740.5,1532.3 741.5,1548.4 742.5,1561.1 743.5,1570.7 744.5,1577.6 745.5,1582.6 746.5,1585.9 747.5,1588.1 748.5,1589.5 749.5,1590.4 750.5,1590.9 751.5,1591.2 752.5,1591.3 753.5,1591.4 753.5,1591.5 Z" fill="#80dd80" stroke="none" stroke-width="1.00"/>
<path d="M830.5,1591.5L830.5,1591.4 831.5,1591.3 832.5,1591.3 833.5,1591.2 834.5,1591 835.5,1590.9 836.5,1590.6 837.5,1590.4 838.5,1590 839.5,1589.5 840.5,1588.9 841.5,1588.2 842.5,1587.3 843.5,1586.3 844.5,1585.1 845.5,1583.7 846.5,1582.1 847.5,1580.3 848.5,1578.3 849.5,1576.1 850.5,1573.8 851.5,1571.4 852.5,1569 853.5,1566.5 854.5,1564.1 855.5,1561.9 856.5,1559.8 857.5,1558 858.5,1556.5 859.5,1555.3 860.5,1554.6 861.5,1554.3 862.5,1554.4 863.5,1555 864.5,1556 865.5,1557.3 866.5,1559 867.5,1561 868.5,1563.2 869.5,1565.6 870.5,1568 871.5,1570.5 872.5,1572.9 873.5,1575.2 874.5,1577.4 875.5,1579.5 876.5,1581.4 877.5,1583.1 878.5,1584.6 879.5,1585.8 880.5,1587 881.5,1587.9 882.5,1588.7 883.5,1589.3 884.5,1589.8 885.5,1590.2 886.5,1590.5 887.5,1590.8 888.5,1591 889.5,1591.1 890.5,1591.2 891.5,1591.3 892.5,1591.4 892.5,1591.5 Z" fill="#80ffff" stroke="none" stroke-width="1.00"/>
<path d="M726.5,1591.5L726.5,1591.4 727.5,1591.3 728.5,1591.2 729.5,1590.8 730.5,1590.3 731.5,1589.5 732.5,1588.3 733.5,1586.6 734.5,1584.6 735.5,1582.4 736.5,1580.2 737.5,1578.3 738.5,1577 739.5,1576.5 740.5,1577 741.5,1578.3 742.5,1580.2 743.5,1582.4 744.5,1584.6 745.5,1586.6 746.5,1588.3 747.5,1589.5 748.5,1590.3 749.5,1590.8 750.5,1591.2 751.5,1591.3 752.5,1591.4 752.5,1591.5 Z" fill="#6ccf3c" stroke="none" stroke-width="1.00"/>
<path d="M828.5,1591.5L828.5,1591.4 829.5,1591.3 830.5,1591.2 831.5,1591.1 832.5,1591 833.5,1590.8 834.5,1590.6 835.5,1590.3 836.5,1589.9 837.5,1589.6 838.5,1589.1 839.5,1588.6 840.5,1588.1 841.5,1587.6 842.5,1587.1 843.5,1586.6 844.5,1586.2 845.5,1585.9 846.5,1585.6 847.5,1585.5 848.5,1585.5 849.5,1585.6 850.5,1585.9 851.5,1586.2 852.5,1586.6 853.5,1587.1 854.5,1587.6 855.5,1588.1 856.5,1588.6 857.5,1589.1 858.5,1589.6 859.5,1589.9 860.5,1590.3 861.5,1590.6 862.5,1590.8 863.5,1591 864.5,1591.1 865.5,1591.2 866.5,1591.3 867.5,1591.4 867.5,1591.5 Z" fill="#78ecc0" stroke="none" stroke-width="1.00"/>
<path d="M654.5,1591.5 655.5,1591.5 656.5,1591.5 657.5,1591.5 658.5,1591.5 659.5,1591.5 660.5,1591.5 661.5,1591.5 662.5,1591.5 663.5,1591.5 664.5,1591.5 665.5,1591.5 666.5,1591.5 667.5,1591.5 668.5,1591.5 669.5,1591.5 670.5,1591.5 671.5,1591.5 672.5,1591.5 673.5,1591.5 674.5,1591.5 675.5,1591.5 676.5,1591.5 677.5,1591.5 678.5,1591.5 679.5,1591.5 680.5,1591.5 681.5,1591.5 682.5,1591.5 683.5,1591.5 684.5,1591.5 685.5,1591.5 686.5,1591.5 687.5,1591.5 688.5,1591.5 689.5,1591.5 690.5,1591.5 691.5,1591.5 692.5,1591.5 693.5,1591.5 694.5,1591.5 695.5,1591.5 696.5,1591.5 697.5,1591.5 698.5,1591.5 699.5,1591.5 700.5,1591.5 701.5,1591.5 702.5,1591.5 703.5,1591.5 704.5,1591.5 705.5,1591.5 706.5,1591.4 707.5,1591.3 708.5,1591.2 709.5,1591 710.5,1590.5 711.5,1589.8 712.5,1588.7 713.5,1586.9 714.5,1584.2 715.5,1580.2 716.5,1574.5 717.5,1566.6 718.5,1556.2 719.5,1542.6 720.5,1525.8 721.5,1505.7 722.5,1482.5 723.5,1456.9 724.5,1429.8 725.5,1402.7 726.5,1377.1 727.5,1354.7 728.5,1337.2 729.5,1325.7 730.5,1321.2 731.5,1323.7 732.5,1333 733.5,1348 734.5,1367.5 735.5,1390.1 736.5,1414.3 737.5,1438.9 738.5,1462.7 739.5,1485.1 740.5,1505.4 741.5,1523.3 742.5,1538.6 743.5,1551.2 744.5,1561.2 745.5,1568.8 746.5,1574.4 747.5,1578.3 748.5,1580.9 749.5,1582.6 750.5,1583.6 751.5,1584.2 752.5,1584.5 753.5,1584.7 754.5,1584.8 755.5,1584.9 756.5,1584.9 757.5,1584.9 758.5,1584.9 759.5,1584.9 760.5,1584.9 761.5,1584.9 762.5,1584.9 763.5,1584.9 764.5,1584.9 765.5,1584.9 766.5,1584.9 767.5,1584.9 768.5,1584.9 769.5,1584.9 770.5,1584.9 771.5,1584.9 772.5,1584.9 773.5,1584.9 774.5,1584.9 775.5,1584.9 776.5,1584.9 777.5,1584.9 778.5,1584.9 779.5,1584.9 780.5,1584.9 781.5,1584.9 782.5,1584.9 783.5,1584.9 784.5,1584.9 785.5,1584.9 786.5,1584.9 787.5,1584.9 788.5,1584.9 789.5,1584.9 790.5,1584.9 791.5,1584.9 792.5,1584.9 793.5,1584.9 794.5,1584.9 795.5,1584.9 796.5,1584.9 797.5,1584.9 798.5,1584.9 799.5,1584.9 800.5,1584.9 801.5,1584.9 802.5,1584.9 803.5,1584.9 804.5,1584.9 805.5,1584.9 806.5,1584.9 807.5,1584.9 808.5,1584.9 809.5,1584.9 810.5,1584.9 811.5,1584.9 812.5,1584.9 813.5,1584.9 814.5,1584.9 815.5,1584.9 816.5,1584.9 817.5,1584.9 818.5,1584.9 819.5,1584.9 820.5,1584.9 821.5,1584.9 822.5,1584.9 823.5,1584.9 824.5,1584.9 825.5,1584.8 826.5,1584.8 827.5,1584.8 828.5,1584.7 829.5,1584.6 830.5,1584.5 831.5,1584.3 832.5,1584.1 833.5,1583.8 834.5,1583.4 835.5,1582.9 836.5,1582.3 837.5,1581.6 838.5,1580.7 839.5,1579.8 840.5,1578.7 841.5,1577.5 842.5,1576.2 843.5,1574.9 844.5,1573.5 845.5,1572.2 846.5,1570.8 847.5,1569.5 848.5,1568.1 849.5,1566.6 850.5,1565.1 851.5,1563.5 852.5,1561.9 853.5,1560.3 854.5,1558.6 855.5,1557.1 856.5,1555.7 857.5,1554.5 858.5,1553.6 859.5,1552.9 860.5,1552.5 861.5,1552.5 862.5,1552.9 863.5,1553.6 864.5,1554.7 865.5,1556.2 866.5,1557.9 867.5,1559.8 868.5,1562 869.5,1564.3 870.5,1566.7 871.5,1569.2 872.5,1571.6 873.5,1573.9 874.5,1576.2 875.5,1578.3 876.5,1580.2 877.5,1582 878.5,1583.5 879.5,1584.9 880.5,1586.1 881.5,1587.2 882.5,1588 883.5,1588.8 884.5,1589.4 885.5,1589.9 886.5,1590.2 887.5,1590.5 888.5,1590.8 889.5,1591 890.5,1591.1 891.5,1591.2 892.5,1591.3 893.5,1591.4 894.5,1591.4 895.5,1591.4 896.5,1591.5 897.5,1591.5 898.5,1591.5 899.5,1591.5 900.5,1591.5 901.5,1591.5 902.5,1591.5 903.5,1591.5 904.5,1591.5 905.5,1591.5 906.5,1591.5 907.5,1591.5 908.5,1591.5 909.5,1591.5 910.5,1591.5 911.5,1591.5 912.5,1591.5 913.5,1591.5 914.5,1591.5 915.5,1591.5 916.5,1591.5 917.5,1591.5 918.5,1591.5 919.5,1591.5 920.5,1591.5 921.5,1591.5 922.5,1591.5 923.5,1591.5 924.5,1591.5 925.5,1591.5 926.5,1591.5 927.5,1591.5 928.5,1591.5 929.5,1591.5 930.5,1591.5 931.5,1591.5 932.5,1591.5 933.5,1591.5 934.5,1591.5 935.5,1591.5 936.5,1591.5 937.5,1591.5 938.5,1591.5 939.5,1591.5 940.5,1591.5 941.5,1591.5 942.5,1591.5 943.5,1591.5 944.5,1591.5 945.5,1591.5 946.5,1591.5 947.5,1591.5 948.5,1591.5 949.5,1591.5 950.5,1591.5 951.5,1591.5 952.5,1591.5 953.5,1591.5 954.5,1591.5 955.5,1591.5 956.5,1591.5 957.5,1591.5 958.5,1591.5 959.5,1591.5 960.5,1591.5 961.5,1591.5 962.5,1591.5 963.5,1591.5 964.5,1591.5 965.5,1591.5 966.5,1591.5 967.5,1591.5 968.5,1591.5 969.5,1591.5 970.5,1591.5 971.5,1591.5" fill="none" stroke="#e030e0" stroke-width="1.50" stroke-linejoin="round"/>
<path d="M654.5,1591.5 655.5,1591.5 656.5,1591.5 657.5,1591.5 658.5,1591.5 659.5,1591.5 660.5,1591.5 661.5,1591.5 662.5,1591.5 663.5,1591.5 664.5,1591.5 665.5,1591.5 666.5,1591.5 667.5,1591.5 668.5,1591.5 669.5,1591.5 670.5,1591.5 671.5,1591.5 672.5,1591.5 673.5,1591.5 674.5,1591.5 675.5,1591.5 676.5,1591.5 677.5,1591.5 678.5,1591.5 679.5,1591.5 680.5,1591.5 681.5,1591.5 682.5,1591.5 683.5,1591.5 684.5,1591.5 685.5,1591.5 686.5,1591.5 687.5,1591.5 688.5,1591.5 689.5,1591.5 690.5,1591.5 691.5,1591.5 692.5,1591.5 693.5,1591.5 694.5,1591.5 695.5,1591.5 696.5,1591.5 697.5,1591.5 698.5,1591.5 699.5,1591.5 700.5,1591.5 701.5,1591.5 702.5,1591.5 703.5,1591.4 704.5,1591.4 705.5,1591.2 706.5,1590.8 707.5,1590.1 708.5,1589.7 709.5,1586.5 710.5,1586.7 711.5,1583.2 712.5,1582.4 713.5,1579.5 714.5,1574.6 715.5,1572.3 716.5,1565 717.5,1556.6 718.5,1544.6 719.5,1528.9 720.5,1510.5 721.5,1486.5 722.5,1463.1 723.5,1435.9 724.5,1409.2 725.5,1382.7 726.5,1359.2 727.5,1339.5 728.5,1328.2 729.5,1323.1 730.5,1324.2 731.5,1330.7 732.5,1347.4 733.5,1365.1 734.5,1388 735.5,1411.3 736.5,1436.4 737.5,1459.1 738.5,1481.5 739.5,1501.1 740.5,1518.1 741.5,1534.1 742.5,1548 743.5,1558.7 744.5,1564.8 745.5,1572.2 746.5,1577.4 747.5,1578.7 748.5,1581.7 749.5,1582.6 750.5,1583 751.5,1584.9 752.5,1585 753.5,1583.9 754.5,1585.7 755.5,1584.2 756.5,1585.9 757.5,1584.4 758.5,1584.4 759.5,1583.8 760.5,1584.1 761.5,1584.9 762.5,1585.6 763.5,1585.7 764.5,1584.8 765.5,1584.9 766.5,1585.9 767.5,1583.9 768.5,1584.9 769.5,1584.4 770.5,1585.6 771.5,1585.5 772.5,1586.1 773.5,1585.3 774.5,1585.5 775.5,1585.1 776.5,1585.2 777.5,1584.1 778.5,1584 779.5,1585.7 780.5,1585.1 781.5,1585.7 782.5,1584.5 783.5,1583.8 784.5,1585.6 785.5,1584.3 786.5,1585.4 787.5,1586.1 788.5,1584.3 789.5,1585.3 790.5,1585.7 791.5,1585.1 792.5,1585.5 793.5,1585.1 794.5,1585 795.5,1585.1 796.5,1584.7 797.5,1585.4 798.5,1585.9 799.5,1585.9 800.5,1585.8 801.5,1584.8 802.5,1585.2 803.5,1584.2 804.5,1584.9 805.5,1584.4 806.5,1583.7 807.5,1585.9 808.5,1586.1 809.5,1585.8 810.5,1585.2 811.5,1584.7 812.5,1584.3 813.5,1585.3 814.5,1583.8 815.5,1586.1 816.5,1584.1 817.5,1585.6 818.5,1584 819.5,1586 820.5,1583.8 821.5,1584.3 822.5,1583.7 823.5,1584.7 824.5,1585.6 825.5,1583.7 826.5,1585 827.5,1585.8 828.5,1584.5 829.5,1584.7 830.5,1584.6 831.5,1585.2 832.5,1585.1 833.5,1583.7 834.5,1583.7 835.5,1584.1 836.5,1582.8 837.5,1581.5 838.5,1580.8 839.5,1580.6 840.5,1579.9 841.5,1579 842.5,1578.3 843.5,1577.3 844.5,1575.6 845.5,1575.3 846.5,1572.7 847.5,1571.7 848.5,1570.8 849.5,1571 850.5,1568.9 851.5,1567.3 852.5,1566.5 853.5,1562.7 854.5,1561.5 855.5,1560.4 856.5,1558.3 857.5,1557.9 858.5,1556.5 859.5,1554.6 860.5,1553.2 861.5,1552.8 862.5,1554.1 863.5,1552.7 864.5,1552.5 865.5,1553.7 866.5,1554.5 867.5,1555.9 868.5,1559.6 869.5,1561.4 870.5,1563.1 871.5,1564.4 872.5,1568.3 873.5,1569.3 874.5,1571.9 875.5,1575 876.5,1576.9 877.5,1578.2 878.5,1580.4 879.5,1583.3 880.5,1583.4 881.5,1586.3 882.5,1587 883.5,1586.5 884.5,1587.6 885.5,1589.5 886.5,1589.6 887.5,1590.1 888.5,1590.4 889.5,1590.7 890.5,1590.9 891.5,1591.1 892.5,1591.2 893.5,1591.3 894.5,1591.3 895.5,1591.4 896.5,1591.4 897.5,1591.4 898.5,1591.5 899.5,1591.5 900.5,1591.5 901.5,1591.5 902.5,1591.5 903.5,1591.5 904.5,1591.5 905.5,1591.5 906.5,1591.5 907.5,1591.5 908.5,1591.5 909.5,1591.5 910.5,1591.5 911.5,1591.5 912.5,1591.5 913.5,1591.5 914.5,1591.5 915.5,1591.5 916.5,1591.5 917.5,1591.5 918.5,1591.5 919.5,1591.5 920.5,1591.5 921.5,1591.5 922.5,1591.5 923.5,1591.5 924.5,1591.5 925.5,1591.5 926.5,1591.5 927.5,1591.5 928.5,1591.5 929.5,1591.5 930.5,1591.5 931.5,1591.5 932.5,1591.5 933.5,1591.5 934.5,1591.5 935.5,1591.5 936.5,1591.5 937.5,1591.5 938.5,1591.5 939.5,1591.5 940.5,1591.5 941.5,1591.5 942.5,1591.5 943.5,1591.5 944.5,1591.5 945.5,1591.5 946.5,1591.5 947.5,1591.5 948.5,1591.5 949.5,1591.5 950.5,1591.5 951.5,1591.5 952.5,1591.5 953.5,1591.5 954.5,1591.5 955.5,1591.5 956.5,1591.5 957.5,1591.5 958.5,1591.5 959.5,1591.5 960.5,1591.5 961.5,1591.5 962.5,1591.5 963.5,1591.5 964.5,1591.5 965.5,1591.5 966.5,1591.5 967.5,1591.5 968.5,1591.5 969.5,1591.5 970.5,1591.5 971.5,1591.5" fill="none" stroke="#1a1a1a" stroke-width="1.10" stroke-linejoin="round" stroke-opacity="0.8"/>
</g>
<rect x="653.50" y="1292.20" width="319.60" height="299.30" fill="none" stroke="#000" stroke-width="1.5"/>
<line x1="653.50" y1="1291.70" x2="653.50" y2="1592.00" stroke="#000" stroke-width="1.70"/>
<line x1="653.00" y1="1591.50" x2="973.60" y2="1591.50" stroke="#000" stroke-width="1.80"/>
<line x1="648.00" y1="1292.20" x2="653.50" y2="1292.20" stroke="#000" stroke-width="1.60"/>
<text x="605.00" y="1302.50" font-size="28.00">2.9</text>
<line x1="648.00" y1="1345.00" x2="653.50" y2="1345.00" stroke="#000" stroke-width="1.60"/>
<text x="604.50" y="1355.30" font-size="28.00">2.4</text>
<line x1="648.00" y1="1405.70" x2="653.50" y2="1405.70" stroke="#000" stroke-width="1.60"/>
<text x="604.89" y="1416.00" font-size="28.00">1.8</text>
<line x1="648.00" y1="1468.40" x2="653.50" y2="1468.40" stroke="#000" stroke-width="1.60"/>
<text x="605.08" y="1478.70" font-size="28.00">1.2</text>
<line x1="648.00" y1="1529.30" x2="653.50" y2="1529.30" stroke="#000" stroke-width="1.60"/>
<text x="604.91" y="1539.60" font-size="28.00">0.6</text>
<line x1="648.00" y1="1591.50" x2="653.50" y2="1591.50" stroke="#000" stroke-width="1.60"/>
<text x="628.12" y="1601.80" font-size="28.00">0</text>
<line x1="650.90" y1="1579.17" x2="653.50" y2="1579.17" stroke="#333" stroke-width="1.00"/>
<line x1="650.90" y1="1566.85" x2="653.50" y2="1566.85" stroke="#333" stroke-width="1.00"/>
<line x1="650.90" y1="1554.53" x2="653.50" y2="1554.53" stroke="#333" stroke-width="1.00"/>
<line x1="650.90" y1="1542.20" x2="653.50" y2="1542.20" stroke="#333" stroke-width="1.00"/>
<line x1="650.90" y1="1517.55" x2="653.50" y2="1517.55" stroke="#333" stroke-width="1.00"/>
<line x1="650.90" y1="1505.22" x2="653.50" y2="1505.22" stroke="#333" stroke-width="1.00"/>
<line x1="650.90" y1="1492.90" x2="653.50" y2="1492.90" stroke="#333" stroke-width="1.00"/>
<line x1="650.90" y1="1480.58" x2="653.50" y2="1480.58" stroke="#333" stroke-width="1.00"/>
<line x1="650.90" y1="1455.92" x2="653.50" y2="1455.92" stroke="#333" stroke-width="1.00"/>
<line x1="650.90" y1="1443.60" x2="653.50" y2="1443.60" stroke="#333" stroke-width="1.00"/>
<line x1="650.90" y1="1431.28" x2="653.50" y2="1431.28" stroke="#333" stroke-width="1.00"/>
<line x1="650.90" y1="1418.95" x2="653.50" y2="1418.95" stroke="#333" stroke-width="1.00"/>
<line x1="650.90" y1="1394.30" x2="653.50" y2="1394.30" stroke="#333" stroke-width="1.00"/>
<line x1="650.90" y1="1381.97" x2="653.50" y2="1381.97" stroke="#333" stroke-width="1.00"/>
<line x1="650.90" y1="1369.65" x2="653.50" y2="1369.65" stroke="#333" stroke-width="1.00"/>
<line x1="650.90" y1="1357.33" x2="653.50" y2="1357.33" stroke="#333" stroke-width="1.00"/>
<line x1="650.90" y1="1332.67" x2="653.50" y2="1332.67" stroke="#333" stroke-width="1.00"/>
<line x1="650.90" y1="1320.35" x2="653.50" y2="1320.35" stroke="#333" stroke-width="1.00"/>
<line x1="650.90" y1="1308.03" x2="653.50" y2="1308.03" stroke="#333" stroke-width="1.00"/>
<line x1="650.90" y1="1295.70" x2="653.50" y2="1295.70" stroke="#333" stroke-width="1.00"/>
<line x1="653.50" y1="1591.50" x2="653.50" y2="1597.00" stroke="#000" stroke-width="1.60"/>
<text x="634.18" y="1620.50" font-size="28.00">5.2</text>
<line x1="718.30" y1="1591.50" x2="718.30" y2="1597.00" stroke="#000" stroke-width="1.60"/>
<text x="702.21" y="1620.50" font-size="28.00">10</text>
<line x1="784.30" y1="1591.50" x2="784.30" y2="1597.00" stroke="#000" stroke-width="1.60"/>
<text x="768.25" y="1620.50" font-size="28.00">15</text>
<line x1="850.60" y1="1591.50" x2="850.60" y2="1597.00" stroke="#000" stroke-width="1.60"/>
<text x="834.87" y="1620.50" font-size="28.00">20</text>
<line x1="917.80" y1="1591.50" x2="917.80" y2="1597.00" stroke="#000" stroke-width="1.60"/>
<text x="902.11" y="1620.50" font-size="28.00">25</text>
<line x1="973.10" y1="1591.50" x2="973.10" y2="1597.00" stroke="#000" stroke-width="1.60"/>
<text x="957.49" y="1620.50" font-size="28.00">29</text>
<line x1="665.10" y1="1591.50" x2="665.10" y2="1594.30" stroke="#333" stroke-width="1.00"/>
<line x1="678.40" y1="1591.50" x2="678.40" y2="1594.30" stroke="#333" stroke-width="1.00"/>
<line x1="691.70" y1="1591.50" x2="691.70" y2="1594.30" stroke="#333" stroke-width="1.00"/>
<line x1="705.00" y1="1591.50" x2="705.00" y2="1594.30" stroke="#333" stroke-width="1.00"/>
<line x1="731.60" y1="1591.50" x2="731.60" y2="1594.30" stroke="#333" stroke-width="1.00"/>
<line x1="744.90" y1="1591.50" x2="744.90" y2="1594.30" stroke="#333" stroke-width="1.00"/>
<line x1="758.20" y1="1591.50" x2="758.20" y2="1594.30" stroke="#333" stroke-width="1.00"/>
<line x1="771.50" y1="1591.50" x2="771.50" y2="1594.30" stroke="#333" stroke-width="1.00"/>
<line x1="798.10" y1="1591.50" x2="798.10" y2="1594.30" stroke="#333" stroke-width="1.00"/>
<line x1="811.40" y1="1591.50" x2="811.40" y2="1594.30" stroke="#333" stroke-width="1.00"/>
<line x1="824.70" y1="1591.50" x2="824.70" y2="1594.30" stroke="#333" stroke-width="1.00"/>
<line x1="838.00" y1="1591.50" x2="838.00" y2="1594.30" stroke="#333" stroke-width="1.00"/>
<line x1="864.60" y1="1591.50" x2="864.60" y2="1594.30" stroke="#333" stroke-width="1.00"/>
<line x1="877.90" y1="1591.50" x2="877.90" y2="1594.30" stroke="#333" stroke-width="1.00"/>
<line x1="891.20" y1="1591.50" x2="891.20" y2="1594.30" stroke="#333" stroke-width="1.00"/>
<line x1="904.50" y1="1591.50" x2="904.50" y2="1594.30" stroke="#333" stroke-width="1.00"/>
<line x1="931.10" y1="1591.50" x2="931.10" y2="1594.30" stroke="#333" stroke-width="1.00"/>
<line x1="944.40" y1="1591.50" x2="944.40" y2="1594.30" stroke="#333" stroke-width="1.00"/>
<line x1="957.70" y1="1591.50" x2="957.70" y2="1594.30" stroke="#333" stroke-width="1.00"/>
<line x1="971.00" y1="1591.50" x2="971.00" y2="1594.30" stroke="#333" stroke-width="1.00"/>
<text x="660.24" y="1277.50" font-size="27.50">Luminespib 50 nM</text>
<text transform="translate(595.30,1435.50) rotate(-90)" x="-69.76" y="0" font-size="28">Count (10<tspan font-size="13" dy="-13">3</tspan><tspan dy="13">)</tspan></text>
<text x="741.74" y="1653.50" font-size="27.50">PI-A (10<tspan font-size="13" dy="-13">6</tspan><tspan dy="13">)</tspan></text>
<clipPath id="c9"><rect x="220.00" y="1706.50" width="317.50" height="296.40"/></clipPath>
<g clip-path="url(#c9)">
<path d="M309,2002.9L309,2002.8 310,2002.7 311,2002.7 312,2002.6 313,2002.4 314,2002.2 315,2000.9 316,2000.5 317,2000 318,1999.3 319,1998.5 320,1997.7 321,1996.9 322,1996.1 323,1995.4 324,1994.9 325,1994.5 326,1994.2 327,1994 328,1993.8 329,1993.7 330,1993.7 331,1993.6 332,1993.6 333,1993.5 334,1993.5 335,1993.5 336,1993.5 337,1993.5 338,1993.5 339,1993.5 340,1993.5 341,1993.5 342,1993.8 343,1994.1 344,1994.4 345,1994.5 346,1994.6 347,1994.7 348,1994.7 349,1994.8 350,1994.8 351,1994.8 352,1994.8 353,1994.8 354,1994.8 355,1994.8 356,1994.8 357,1994.8 358,1994.8 359,1994.8 360,1994.8 361,1994.8 362,1994.8 363,1994.8 364,1994.8 365,1994.8 366,1994.8 367,1994.8 368,1994.8 369,1994.8 370,1994.8 371,1994.8 372,1994.8 373,1994.8 374,1994.8 375,1994.8 376,1994.8 377,1994.8 378,1994.8 379,1994.8 380,1994.8 381,1994.8 382,1994.8 383,1994.8 384,1994.8 385,1994.8 386,1994.8 387,1994.8 388,1994.8 389,1994.8 390,1994.8 391,1994.8 392,1994.8 393,1994.8 394,1994.8 395,1994.8 396,1994.8 397,1994.8 398,1994.8 399,1994.8 400,1994.8 401,1994.8 402,1994.8 403,1994.8 404,1994.8 405,1994.8 406,1994.8 407,1994.8 408,1994.8 409,1994.8 410,1994.8 411,1994.8 412,1994.8 413,1994.7 414,1994.7 415,1994.7 416,1994.6 417,1994.6 418,1994.5 419,1994.4 420,1994.3 421,1994.2 422,1994 423,1993.7 424,1993.5 425,1993.5 426,1993.5 427,1993.5 428,1993.5 429,1993.5 430,1993.5 431,1993.5 432,1993.5 433,1993.5 434,1993.5 435,1993.6 436,1993.6 437,1993.7 438,1993.7 439,1993.8 440,1994 441,1994.2 442,1994.5 443,1994.9 444,1995.4 445,1996.1 446,1996.9 447,1997.7 448,1998.5 449,1999.3 450,2000 451,2000.5 452,2000.9 453,2002.2 454,2002.4 455,2002.6 456,2002.7 457,2002.7 458,2002.8 458,2002.9 Z" fill="#dcd87a" stroke="none" stroke-width="1.00"/>
<path d="M276,2002.9L276,2002.8 277,2002.7 278,2002.6 279,2002.5 280,2002.3 281,2002 282,2001.6 283,2001 284,2000.2 285,1999.2 286,1997.7 287,1995.8 288,1993.3 289,1990.1 290,1986.1 291,1981.1 292,1974.9 293,1967.5 294,1958.6 295,1948.2 296,1936.3 297,1922.9 298,1907.9 299,1891.7 300,1874.3 301,1856.1 302,1837.5 303,1818.9 304,1800.9 305,1784 306,1768.8 307,1755.7 308,1745.2 309,1737.7 310,1733.6 311,1732.9 312,1735.6 313,1741.8 314,1751.1 315,1763.2 316,1777.7 317,1794 318,1811.6 319,1830 320,1848.7 321,1867.1 322,1884.8 323,1901.6 324,1917.1 325,1931.1 326,1943.7 327,1954.6 328,1964.1 329,1972.1 330,1978.8 331,1984.2 332,1988.6 333,1992.2 334,1994.9 335,1997 336,1998.6 337,1999.9 338,2000.7 339,2001.4 340,2001.9 341,2002.2 342,2002.4 343,2002.6 344,2002.7 345,2002.8 345,2002.9 Z" fill="#80dd80" stroke="none" stroke-width="1.00"/>
<path d="M419,2002.9L419,2002.8 420,2002.7 421,2002.7 422,2002.6 423,2002.6 424,2002.5 425,2002.4 426,2002.3 427,2002.1 428,2001.9 429,2001.7 430,2001.5 431,2001.2 432,2000.8 433,2000.4 434,1999.9 435,1999.4 436,1998.8 437,1998.2 438,1997.5 439,1996.7 440,1995.8 441,1994.9 442,1993.9 443,1992.8 444,1991.7 445,1990.5 446,1989.3 447,1988.1 448,1986.9 449,1985.7 450,1984.5 451,1983.4 452,1982.3 453,1981.3 454,1980.3 455,1979.5 456,1978.9 457,1978.3 458,1977.9 459,1977.7 460,1977.6 461,1977.7 462,1977.9 463,1978.3 464,1978.9 465,1979.5 466,1980.3 467,1981.3 468,1982.3 469,1983.4 470,1984.5 471,1985.7 472,1986.9 473,1988.1 474,1989.3 475,1990.5 476,1991.7 477,1992.8 478,1993.9 479,1994.9 480,1995.8 481,1996.7 482,1997.5 483,1998.2 484,1998.8 485,1999.4 486,1999.9 487,2000.4 488,2000.8 489,2001.2 490,2001.5 491,2001.7 492,2001.9 493,2002.1 494,2002.3 495,2002.4 496,2002.5 497,2002.6 498,2002.6 499,2002.7 500,2002.7 501,2002.8 501,2002.9 Z" fill="#80ffff" stroke="none" stroke-width="1.00"/>
<path d="M308,2002.9L308,2002.8 309,2002.7 310,2002.6 311,2002.4 312,2002.1 313,2001.6 314,2001 315,2000.1 316,1998.9 317,1997.4 318,1995.6 319,1993.6 320,1991.3 321,1989 322,1986.8 323,1984.8 324,1983.2 325,1982.2 326,1981.9 327,1982.2 328,1983.2 329,1984.8 330,1986.8 331,1989 332,1991.3 333,1993.6 334,1995.6 335,1997.4 336,1998.9 337,2000.1 338,2001 339,2001.6 340,2002.1 341,2002.4 342,2002.6 343,2002.7 344,2002.8 344,2002.9 Z" fill="#6ccf3c" stroke="none" stroke-width="1.00"/>
<path d="M418,2002.9L418,2002.8 419,2002.7 420,2002.6 421,2002.5 422,2002.4 423,2002.3 424,2002.1 425,2001.9 426,2001.6 427,2001.3 428,2001 429,2000.6 430,2000.2 431,1999.7 432,1999.3 433,1998.8 434,1998.4 435,1998 436,1997.6 437,1997.3 438,1997.1 439,1996.9 440,1996.9 441,1996.9 442,1997.1 443,1997.3 444,1997.6 445,1998 446,1998.4 447,1998.8 448,1999.3 449,1999.7 450,2000.2 451,2000.6 452,2001 453,2001.3 454,2001.6 455,2001.9 456,2002.1 457,2002.3 458,2002.4 459,2002.5 460,2002.6 461,2002.7 462,2002.8 462,2002.9 Z" fill="#78ecc0" stroke="none" stroke-width="1.00"/>
<path d="M221,2002.9 222,2002.9 223,2002.9 224,2002.9 225,2002.9 226,2002.9 227,2002.9 228,2002.9 229,2002.9 230,2002.9 231,2002.9 232,2002.9 233,2002.9 234,2002.9 235,2002.9 236,2002.9 237,2002.9 238,2002.9 239,2002.9 240,2002.9 241,2002.9 242,2002.9 243,2002.9 244,2002.9 245,2002.9 246,2002.9 247,2002.9 248,2002.9 249,2002.9 250,2002.9 251,2002.9 252,2002.9 253,2002.9 254,2002.9 255,2002.9 256,2002.9 257,2002.9 258,2002.9 259,2002.9 260,2002.9 261,2002.9 262,2002.9 263,2002.9 264,2002.9 265,2002.9 266,2002.9 267,2002.9 268,2002.9 269,2002.9 270,2002.9 271,2002.9 272,2002.9 273,2002.8 274,2002.8 275,2002.8 276,2002.7 277,2002.6 278,2002.5 279,2002.3 280,2002 281,2001.6 282,2001 283,2000.3 284,1999.2 285,1997.9 286,1996.1 287,1993.8 288,1990.9 289,1987.2 290,1982.6 291,1977 292,1970.2 293,1962.1 294,1952.7 295,1941.9 296,1929.6 297,1915.9 298,1900.9 299,1884.7 300,1867.5 301,1849.8 302,1831.8 303,1814 304,1796.8 305,1780.8 306,1766.4 307,1754 308,1744.2 309,1737.1 310,1733 311,1732.1 312,1734.3 313,1739.4 314,1747.3 315,1757.4 316,1769.4 317,1782.8 318,1797.1 319,1811.9 320,1826.8 321,1841.6 322,1856 323,1870 324,1883.4 325,1896.2 326,1908.5 327,1920 328,1930.8 329,1940.9 330,1950 331,1958.3 332,1965.5 333,1971.8 334,1977.1 335,1981.4 336,1984.8 337,1987.5 338,1989.6 339,1991.1 340,1992.2 341,1992.9 342,1993.5 343,1993.8 344,1994.1 345,1994.2 346,1994.3 347,1994.4 348,1994.4 349,1994.5 350,1994.5 351,1994.5 352,1994.5 353,1994.5 354,1994.5 355,1994.5 356,1994.5 357,1994.5 358,1994.5 359,1994.5 360,1994.5 361,1994.5 362,1994.5 363,1994.5 364,1994.5 365,1994.5 366,1994.5 367,1994.5 368,1994.5 369,1994.5 370,1994.5 371,1994.5 372,1994.5 373,1994.5 374,1994.5 375,1994.5 376,1994.5 377,1994.5 378,1994.5 379,1994.5 380,1994.5 381,1994.5 382,1994.5 383,1994.5 384,1994.5 385,1994.5 386,1994.5 387,1994.5 388,1994.5 389,1994.5 390,1994.5 391,1994.5 392,1994.5 393,1994.5 394,1994.5 395,1994.5 396,1994.5 397,1994.5 398,1994.5 399,1994.5 400,1994.5 401,1994.5 402,1994.5 403,1994.5 404,1994.5 405,1994.5 406,1994.5 407,1994.5 408,1994.5 409,1994.5 410,1994.5 411,1994.5 412,1994.5 413,1994.4 414,1994.4 415,1994.4 416,1994.3 417,1994.3 418,1994.2 419,1994.1 420,1994 421,1993.9 422,1993.7 423,1993.4 424,1993.1 425,1992.8 426,1992.4 427,1991.9 428,1991.3 429,1990.7 430,1990 431,1989.2 432,1988.3 433,1987.5 434,1986.5 435,1985.6 436,1984.6 437,1983.7 438,1982.7 439,1981.9 440,1981.1 441,1980.4 442,1979.8 443,1979.3 444,1979.1 445,1978.9 446,1978.9 447,1979 448,1979 449,1979.1 450,1979 451,1978.9 452,1978.6 453,1978.3 454,1977.9 455,1977.6 456,1977.3 457,1977 458,1976.8 459,1976.8 460,1976.8 461,1977 462,1977.2 463,1977.7 464,1978.2 465,1978.9 466,1979.7 467,1980.6 468,1981.5 469,1982.6 470,1983.7 471,1984.9 472,1986 473,1987.3 474,1988.5 475,1989.6 476,1990.8 477,1991.9 478,1993 479,1994 480,1995 481,1995.9 482,1996.7 483,1997.5 484,1998.2 485,1998.8 486,1999.4 487,1999.9 488,2000.4 489,2000.8 490,2001.1 491,2001.4 492,2001.7 493,2001.9 494,2002.1 495,2002.2 496,2002.3 497,2002.5 498,2002.5 499,2002.6 500,2002.7 501,2002.7 502,2002.8 503,2002.8 504,2002.8 505,2002.8 506,2002.9 507,2002.9 508,2002.9 509,2002.9 510,2002.9 511,2002.9 512,2002.9 513,2002.9 514,2002.9 515,2002.9 516,2002.9 517,2002.9 518,2002.9 519,2002.9 520,2002.9 521,2002.9 522,2002.9 523,2002.9 524,2002.9 525,2002.9 526,2002.9 527,2002.9 528,2002.9 529,2002.9 530,2002.9 531,2002.9 532,2002.9 533,2002.9 534,2002.9 535,2002.9 536,2002.9" fill="none" stroke="#e030e0" stroke-width="1.50" stroke-linejoin="round"/>
<path d="M221,2002.9 222,2002.9 223,2002.9 224,2002.9 225,2002.9 226,2002.9 227,2002.9 228,2002.9 229,2002.9 230,2002.9 231,2002.9 232,2002.9 233,2002.9 234,2002.9 235,2002.9 236,2002.9 237,2002.9 238,2002.9 239,2002.9 240,2002.9 241,2002.9 242,2002.9 243,2002.9 244,2002.9 245,2002.9 246,2002.9 247,2002.9 248,2002.9 249,2002.9 250,2002.9 251,2002.9 252,2002.9 253,2002.9 254,2002.9 255,2002.9 256,2002.9 257,2002.9 258,2002.9 259,2002.9 260,2002.9 261,2002.9 262,2002.9 263,2002.9 264,2002.9 265,2002.9 266,2002.9 267,2002.9 268,2002.9 269,2002.9 270,2002.9 271,2002.9 272,2002.9 273,2002.8 274,2002.8 275,2002.7 276,2002.6 277,2002.4 278,2002 279,2001.4 280,2000.5 281,1999.4 282,1998.3 283,1994.6 284,1994.6 285,1991.5 286,1988.6 287,1988.5 288,1984.8 289,1981.2 290,1978 291,1971.3 292,1963 293,1954.7 294,1943.6 295,1933 296,1919.4 297,1904.9 298,1888 299,1870 300,1853.2 301,1834.8 302,1817.8 303,1799.6 304,1784.9 305,1769.6 306,1755.9 307,1745.4 308,1738.5 309,1734.7 310,1732.8 311,1734.6 312,1739.2 313,1745.4 314,1756.9 315,1767.2 316,1780.7 317,1797.2 318,1811.5 319,1826.3 320,1842.3 321,1855.7 322,1868.4 323,1883.4 324,1894.7 325,1907.6 326,1917.5 327,1927.1 328,1938.5 329,1947.9 330,1956 331,1962.2 332,1970 333,1975.4 334,1979.1 335,1982 336,1986.3 337,1988.7 338,1989.9 339,1992.6 340,1992.4 341,1994 342,1993.4 343,1992.9 344,1995.2 345,1994.2 346,1994.1 347,1995.3 348,1995 349,1993.3 350,1993.3 351,1995.4 352,1994 353,1993.4 354,1995.1 355,1994.2 356,1995.6 357,1994.8 358,1994.1 359,1994.3 360,1993.8 361,1995.5 362,1994.9 363,1993.6 364,1994.3 365,1994.6 366,1994.7 367,1993.3 368,1994.3 369,1995.7 370,1993.8 371,1994.9 372,1994.7 373,1995.2 374,1994.6 375,1994.9 376,1995.5 377,1994.2 378,1995.5 379,1993.8 380,1995.6 381,1993.8 382,1993.8 383,1994.5 384,1994 385,1995.1 386,1993.9 387,1994.7 388,1995.1 389,1993.4 390,1994.7 391,1994.8 392,1993.6 393,1994.8 394,1994.1 395,1995.3 396,1993.7 397,1995.1 398,1995.6 399,1993.4 400,1995.3 401,1993.4 402,1993.3 403,1994.2 404,1995.7 405,1995.6 406,1995.2 407,1994.8 408,1994.2 409,1993.4 410,1994.8 411,1995.3 412,1994.3 413,1995.3 414,1995.4 415,1994.3 416,1993.9 417,1995.4 418,1994.4 419,1993.7 420,1993.4 421,1994.2 422,1992.8 423,1994.3 424,1992.8 425,1992.3 426,1991.7 427,1992.2 428,1992.6 429,1992.1 430,1990.3 431,1990.5 432,1988.6 433,1989.1 434,1986.6 435,1987.1 436,1986.7 437,1985.5 438,1984 439,1983 440,1982.7 441,1982.6 442,1981.4 443,1979.9 444,1980.6 445,1979.6 446,1981.8 447,1979.6 448,1979.9 449,1980.8 450,1980.7 451,1980.4 452,1979.2 453,1980.8 454,1978.9 455,1978.7 456,1978.8 457,1977.3 458,1976.9 459,1978.1 460,1976.5 461,1977 462,1977 463,1976.8 464,1978.6 465,1977.7 466,1978.9 467,1978.4 468,1980.8 469,1980.3 470,1981.5 471,1982.8 472,1983.4 473,1986.6 474,1986.4 475,1987.6 476,1988.6 477,1990.4 478,1992.4 479,1993.2 480,1993.3 481,1995.3 482,1996.5 483,1996.7 484,1997.2 485,1997.8 486,1999.7 487,1998.5 488,2000.1 489,1999.5 490,2001.7 491,2000.9 492,2001.3 493,2001.5 494,2001.8 495,2002 496,2002.1 497,2002.3 498,2002.4 499,2002.5 500,2002.6 501,2002.6 502,2002.7 503,2002.7 504,2002.8 505,2002.8 506,2002.8 507,2002.8 508,2002.9 509,2002.9 510,2002.9 511,2002.9 512,2002.9 513,2002.9 514,2002.9 515,2002.9 516,2002.9 517,2002.9 518,2002.9 519,2002.9 520,2002.9 521,2002.9 522,2002.9 523,2002.9 524,2002.9 525,2002.9 526,2002.9 527,2002.9 528,2002.9 529,2002.9 530,2002.9 531,2002.9 532,2002.9 533,2002.9 534,2002.9 535,2002.9 536,2002.9" fill="none" stroke="#1a1a1a" stroke-width="1.10" stroke-linejoin="round" stroke-opacity="0.8"/>
</g>
<rect x="220.00" y="1706.50" width="317.50" height="296.40" fill="none" stroke="#000" stroke-width="1.5"/>
<line x1="220.00" y1="1706.00" x2="220.00" y2="2003.40" stroke="#000" stroke-width="1.70"/>
<line x1="219.50" y1="2002.90" x2="538.00" y2="2002.90" stroke="#000" stroke-width="1.80"/>
<line x1="214.50" y1="1706.50" x2="220.00" y2="1706.50" stroke="#000" stroke-width="1.60"/>
<text x="166.05" y="1716.80" font-size="28.00">921</text>
<line x1="214.50" y1="1747.30" x2="220.00" y2="1747.30" stroke="#000" stroke-width="1.60"/>
<text x="165.78" y="1757.60" font-size="28.00">800</text>
<line x1="214.50" y1="1810.90" x2="220.00" y2="1810.90" stroke="#000" stroke-width="1.60"/>
<text x="165.78" y="1821.20" font-size="28.00">600</text>
<line x1="214.50" y1="1874.50" x2="220.00" y2="1874.50" stroke="#000" stroke-width="1.60"/>
<text x="165.78" y="1884.80" font-size="28.00">400</text>
<line x1="214.50" y1="1938.90" x2="220.00" y2="1938.90" stroke="#000" stroke-width="1.60"/>
<text x="165.78" y="1949.20" font-size="28.00">200</text>
<line x1="214.50" y1="2002.90" x2="220.00" y2="2002.90" stroke="#000" stroke-width="1.60"/>
<text x="196.92" y="2013.20" font-size="28.00">0</text>
<line x1="217.40" y1="1990.12" x2="220.00" y2="1990.12" stroke="#333" stroke-width="1.00"/>
<line x1="217.40" y1="1977.34" x2="220.00" y2="1977.34" stroke="#333" stroke-width="1.00"/>
<line x1="217.40" y1="1964.56" x2="220.00" y2="1964.56" stroke="#333" stroke-width="1.00"/>
<line x1="217.40" y1="1951.78" x2="220.00" y2="1951.78" stroke="#333" stroke-width="1.00"/>
<line x1="217.40" y1="1926.22" x2="220.00" y2="1926.22" stroke="#333" stroke-width="1.00"/>
<line x1="217.40" y1="1913.44" x2="220.00" y2="1913.44" stroke="#333" stroke-width="1.00"/>
<line x1="217.40" y1="1900.66" x2="220.00" y2="1900.66" stroke="#333" stroke-width="1.00"/>
<line x1="217.40" y1="1887.88" x2="220.00" y2="1887.88" stroke="#333" stroke-width="1.00"/>
<line x1="217.40" y1="1862.32" x2="220.00" y2="1862.32" stroke="#333" stroke-width="1.00"/>
<line x1="217.40" y1="1849.54" x2="220.00" y2="1849.54" stroke="#333" stroke-width="1.00"/>
<line x1="217.40" y1="1836.76" x2="220.00" y2="1836.76" stroke="#333" stroke-width="1.00"/>
<line x1="217.40" y1="1823.98" x2="220.00" y2="1823.98" stroke="#333" stroke-width="1.00"/>
<line x1="217.40" y1="1798.42" x2="220.00" y2="1798.42" stroke="#333" stroke-width="1.00"/>
<line x1="217.40" y1="1785.64" x2="220.00" y2="1785.64" stroke="#333" stroke-width="1.00"/>
<line x1="217.40" y1="1772.86" x2="220.00" y2="1772.86" stroke="#333" stroke-width="1.00"/>
<line x1="217.40" y1="1760.08" x2="220.00" y2="1760.08" stroke="#333" stroke-width="1.00"/>
<line x1="217.40" y1="1734.52" x2="220.00" y2="1734.52" stroke="#333" stroke-width="1.00"/>
<line x1="217.40" y1="1721.74" x2="220.00" y2="1721.74" stroke="#333" stroke-width="1.00"/>
<line x1="217.40" y1="1708.96" x2="220.00" y2="1708.96" stroke="#333" stroke-width="1.00"/>
<line x1="220.00" y1="2002.90" x2="220.00" y2="2008.40" stroke="#000" stroke-width="1.60"/>
<text x="200.68" y="2035.30" font-size="28.00">5.2</text>
<line x1="263.60" y1="2002.90" x2="263.60" y2="2008.40" stroke="#000" stroke-width="1.60"/>
<text x="255.81" y="2035.30" font-size="28.00">8</text>
<line x1="323.60" y1="2002.90" x2="323.60" y2="2008.40" stroke="#000" stroke-width="1.60"/>
<text x="307.67" y="2035.30" font-size="28.00">12</text>
<line x1="383.60" y1="2002.90" x2="383.60" y2="2008.40" stroke="#000" stroke-width="1.60"/>
<text x="367.58" y="2035.30" font-size="28.00">16</text>
<line x1="443.60" y1="2002.90" x2="443.60" y2="2008.40" stroke="#000" stroke-width="1.60"/>
<text x="427.87" y="2035.30" font-size="28.00">20</text>
<line x1="503.60" y1="2002.90" x2="503.60" y2="2008.40" stroke="#000" stroke-width="1.60"/>
<text x="487.73" y="2035.30" font-size="28.00">24</text>
<line x1="227.60" y1="2002.90" x2="227.60" y2="2005.70" stroke="#333" stroke-width="1.00"/>
<line x1="239.60" y1="2002.90" x2="239.60" y2="2005.70" stroke="#333" stroke-width="1.00"/>
<line x1="251.60" y1="2002.90" x2="251.60" y2="2005.70" stroke="#333" stroke-width="1.00"/>
<line x1="275.60" y1="2002.90" x2="275.60" y2="2005.70" stroke="#333" stroke-width="1.00"/>
<line x1="287.60" y1="2002.90" x2="287.60" y2="2005.70" stroke="#333" stroke-width="1.00"/>
<line x1="299.60" y1="2002.90" x2="299.60" y2="2005.70" stroke="#333" stroke-width="1.00"/>
<line x1="311.60" y1="2002.90" x2="311.60" y2="2005.70" stroke="#333" stroke-width="1.00"/>
<line x1="335.60" y1="2002.90" x2="335.60" y2="2005.70" stroke="#333" stroke-width="1.00"/>
<line x1="347.60" y1="2002.90" x2="347.60" y2="2005.70" stroke="#333" stroke-width="1.00"/>
<line x1="359.60" y1="2002.90" x2="359.60" y2="2005.70" stroke="#333" stroke-width="1.00"/>
<line x1="371.60" y1="2002.90" x2="371.60" y2="2005.70" stroke="#333" stroke-width="1.00"/>
<line x1="395.60" y1="2002.90" x2="395.60" y2="2005.70" stroke="#333" stroke-width="1.00"/>
<line x1="407.60" y1="2002.90" x2="407.60" y2="2005.70" stroke="#333" stroke-width="1.00"/>
<line x1="419.60" y1="2002.90" x2="419.60" y2="2005.70" stroke="#333" stroke-width="1.00"/>
<line x1="431.60" y1="2002.90" x2="431.60" y2="2005.70" stroke="#333" stroke-width="1.00"/>
<line x1="455.60" y1="2002.90" x2="455.60" y2="2005.70" stroke="#333" stroke-width="1.00"/>
<line x1="467.60" y1="2002.90" x2="467.60" y2="2005.70" stroke="#333" stroke-width="1.00"/>
<line x1="479.60" y1="2002.90" x2="479.60" y2="2005.70" stroke="#333" stroke-width="1.00"/>
<line x1="491.60" y1="2002.90" x2="491.60" y2="2005.70" stroke="#333" stroke-width="1.00"/>
<line x1="515.60" y1="2002.90" x2="515.60" y2="2005.70" stroke="#333" stroke-width="1.00"/>
<line x1="527.60" y1="2002.90" x2="527.60" y2="2005.70" stroke="#333" stroke-width="1.00"/>
<text x="227.54" y="1694.50" font-size="27.50">DMSO</text>
<text transform="translate(158.20,1847.30) rotate(-90)" x="-69.76" y="0" font-size="28">Count (10<tspan font-size="13" dy="-13">3</tspan><tspan dy="13">)</tspan></text>
<text x="310.44" y="2068.20" font-size="27.50">PI-A (10<tspan font-size="13" dy="-13">6</tspan><tspan dy="13">)</tspan></text>
<clipPath id="c10"><rect x="653.50" y="1706.30" width="317.50" height="296.30"/></clipPath>
<g clip-path="url(#c10)">
<path d="M743.5,2002.6L743.5,2002.5 744.5,2002.4 745.5,2002.3 746.5,2002.2 747.5,2002 748.5,2001.8 749.5,2000.5 750.5,2000.1 751.5,1999.6 752.5,1999 753.5,1998.5 754.5,1997.9 755.5,1997.4 756.5,1997 757.5,1996.7 758.5,1996.5 759.5,1996.3 760.5,1996.2 761.5,1996.1 762.5,1996 763.5,1996 764.5,1996 765.5,1995.9 766.5,1995.9 767.5,1995.9 768.5,1995.9 769.5,1995.9 770.5,1995.9 771.5,1995.9 772.5,1995.9 773.5,1995.9 774.5,1995.9 775.5,1995.9 776.5,1996.3 777.5,1996.6 778.5,1996.8 779.5,1996.9 780.5,1997 781.5,1997.1 782.5,1997.1 783.5,1997.2 784.5,1997.2 785.5,1997.2 786.5,1997.2 787.5,1997.2 788.5,1997.2 789.5,1997.2 790.5,1997.2 791.5,1997.2 792.5,1997.2 793.5,1997.2 794.5,1997.2 795.5,1997.2 796.5,1997.2 797.5,1997.2 798.5,1997.2 799.5,1997.2 800.5,1997.2 801.5,1997.2 802.5,1997.2 803.5,1997.2 804.5,1997.2 805.5,1997.2 806.5,1997.2 807.5,1997.2 808.5,1997.2 809.5,1997.2 810.5,1997.2 811.5,1997.2 812.5,1997.2 813.5,1997.2 814.5,1997.2 815.5,1997.2 816.5,1997.2 817.5,1997.2 818.5,1997.2 819.5,1997.2 820.5,1997.2 821.5,1997.2 822.5,1997.2 823.5,1997.2 824.5,1997.2 825.5,1997.2 826.5,1997.2 827.5,1997.2 828.5,1997.2 829.5,1997.2 830.5,1997.2 831.5,1997.2 832.5,1997.2 833.5,1997.2 834.5,1997.2 835.5,1997.2 836.5,1997.2 837.5,1997.2 838.5,1997.2 839.5,1997.2 840.5,1997.2 841.5,1997.2 842.5,1997.2 843.5,1997.1 844.5,1997.1 845.5,1997.1 846.5,1997 847.5,1997 848.5,1996.9 849.5,1996.8 850.5,1996.6 851.5,1996.4 852.5,1996.2 853.5,1995.9 854.5,1995.9 855.5,1995.9 856.5,1995.9 857.5,1995.9 858.5,1996 859.5,1996 860.5,1996 861.5,1996.1 862.5,1996.2 863.5,1996.3 864.5,1996.5 865.5,1996.7 866.5,1997 867.5,1997.4 868.5,1997.9 869.5,1998.5 870.5,1999 871.5,1999.6 872.5,2000.1 873.5,2000.5 874.5,2001.8 875.5,2002 876.5,2002.2 877.5,2002.3 878.5,2002.4 879.5,2002.5 879.5,2002.6 Z" fill="#dcd87a" stroke="none" stroke-width="1.00"/>
<path d="M707.5,2002.6L707.5,2002.5 708.5,2002.4 709.5,2002.3 710.5,2002.2 711.5,2002 712.5,2001.7 713.5,2001.3 714.5,2000.7 715.5,2000 716.5,1999 717.5,1997.7 718.5,1996 719.5,1993.9 720.5,1991.1 721.5,1987.6 722.5,1983.4 723.5,1978.1 724.5,1971.9 725.5,1964.4 726.5,1955.7 727.5,1945.7 728.5,1934.4 729.5,1921.7 730.5,1907.9 731.5,1892.9 732.5,1877 733.5,1860.5 734.5,1843.7 735.5,1826.9 736.5,1810.6 737.5,1795.3 738.5,1781.3 739.5,1769.1 740.5,1759.1 741.5,1751.6 742.5,1746.9 743.5,1745.1 744.5,1746.3 745.5,1750.5 746.5,1757.4 747.5,1766.9 748.5,1778.7 749.5,1792.4 750.5,1807.5 751.5,1823.6 752.5,1840.3 753.5,1857.1 754.5,1873.7 755.5,1889.8 756.5,1904.9 757.5,1919.1 758.5,1932 759.5,1943.6 760.5,1953.8 761.5,1962.8 762.5,1970.5 763.5,1977 764.5,1982.4 765.5,1986.9 766.5,1990.5 767.5,1993.4 768.5,1995.6 769.5,1997.4 770.5,1998.8 771.5,1999.8 772.5,2000.6 773.5,2001.2 774.5,2001.6 775.5,2001.9 776.5,2002.1 777.5,2002.3 778.5,2002.4 779.5,2002.5 779.5,2002.6 Z" fill="#80dd80" stroke="none" stroke-width="1.00"/>
<path d="M850.5,2002.6L850.5,2002.5 851.5,2002.4 852.5,2002.4 853.5,2002.3 854.5,2002.3 855.5,2002.2 856.5,2002.1 857.5,2001.9 858.5,2001.8 859.5,2001.6 860.5,2001.4 861.5,2001.1 862.5,2000.8 863.5,2000.4 864.5,2000 865.5,1999.5 866.5,1998.9 867.5,1998.2 868.5,1997.5 869.5,1996.7 870.5,1995.8 871.5,1994.8 872.5,1993.7 873.5,1992.5 874.5,1991.3 875.5,1989.9 876.5,1988.6 877.5,1987.1 878.5,1985.6 879.5,1984.1 880.5,1982.6 881.5,1981.1 882.5,1979.6 883.5,1978.2 884.5,1976.9 885.5,1975.6 886.5,1974.5 887.5,1973.5 888.5,1972.7 889.5,1972.1 890.5,1971.6 891.5,1971.3 892.5,1971.2 893.5,1971.4 894.5,1971.7 895.5,1972.2 896.5,1972.9 897.5,1973.7 898.5,1974.7 899.5,1975.9 900.5,1977.1 901.5,1978.5 902.5,1979.9 903.5,1981.4 904.5,1982.9 905.5,1984.4 906.5,1985.9 907.5,1987.4 908.5,1988.8 909.5,1990.2 910.5,1991.5 911.5,1992.8 912.5,1993.9 913.5,1995 914.5,1996 915.5,1996.8 916.5,1997.6 917.5,1998.4 918.5,1999 919.5,1999.6 920.5,2000 921.5,2000.5 922.5,2000.8 923.5,2001.1 924.5,2001.4 925.5,2001.6 926.5,2001.8 927.5,2002 928.5,2002.1 929.5,2002.2 930.5,2002.3 931.5,2002.4 932.5,2002.4 933.5,2002.5 933.5,2002.6 Z" fill="#80ffff" stroke="none" stroke-width="1.00"/>
<path d="M738.5,2002.6L738.5,2002.5 739.5,2002.4 740.5,2002.3 741.5,2002.2 742.5,2002 743.5,2001.6 744.5,2001.2 745.5,2000.5 746.5,1999.7 747.5,1998.7 748.5,1997.5 749.5,1996 750.5,1994.4 751.5,1992.6 752.5,1990.8 753.5,1989 754.5,1987.4 755.5,1986.1 756.5,1985.2 757.5,1984.7 758.5,1984.7 759.5,1985.2 760.5,1986.1 761.5,1987.4 762.5,1989 763.5,1990.8 764.5,1992.6 765.5,1994.4 766.5,1996 767.5,1997.5 768.5,1998.7 769.5,1999.7 770.5,2000.5 771.5,2001.2 772.5,2001.6 773.5,2002 774.5,2002.2 775.5,2002.3 776.5,2002.4 777.5,2002.5 777.5,2002.6 Z" fill="#6ccf3c" stroke="none" stroke-width="1.00"/>
<path d="M846.5,2002.6L846.5,2002.5 847.5,2002.4 848.5,2002.4 849.5,2002.3 850.5,2002.2 851.5,2002.1 852.5,2001.9 853.5,2001.7 854.5,2001.4 855.5,2001.2 856.5,2000.8 857.5,2000.5 858.5,2000.1 859.5,1999.6 860.5,1999.2 861.5,1998.7 862.5,1998.3 863.5,1997.9 864.5,1997.5 865.5,1997.1 866.5,1996.9 867.5,1996.7 868.5,1996.6 869.5,1996.6 870.5,1996.7 871.5,1996.9 872.5,1997.1 873.5,1997.5 874.5,1997.9 875.5,1998.3 876.5,1998.7 877.5,1999.2 878.5,1999.6 879.5,2000.1 880.5,2000.5 881.5,2000.8 882.5,2001.2 883.5,2001.4 884.5,2001.7 885.5,2001.9 886.5,2002.1 887.5,2002.2 888.5,2002.3 889.5,2002.4 890.5,2002.4 891.5,2002.5 891.5,2002.6 Z" fill="#78ecc0" stroke="none" stroke-width="1.00"/>
<path d="M654.5,2002.6 655.5,2002.6 656.5,2002.6 657.5,2002.6 658.5,2002.6 659.5,2002.6 660.5,2002.6 661.5,2002.6 662.5,2002.6 663.5,2002.6 664.5,2002.6 665.5,2002.6 666.5,2002.6 667.5,2002.6 668.5,2002.6 669.5,2002.6 670.5,2002.6 671.5,2002.6 672.5,2002.6 673.5,2002.6 674.5,2002.6 675.5,2002.6 676.5,2002.6 677.5,2002.6 678.5,2002.6 679.5,2002.6 680.5,2002.6 681.5,2002.6 682.5,2002.6 683.5,2002.6 684.5,2002.6 685.5,2002.6 686.5,2002.6 687.5,2002.6 688.5,2002.6 689.5,2002.6 690.5,2002.6 691.5,2002.6 692.5,2002.6 693.5,2002.6 694.5,2002.6 695.5,2002.6 696.5,2002.6 697.5,2002.6 698.5,2002.6 699.5,2002.6 700.5,2002.6 701.5,2002.6 702.5,2002.6 703.5,2002.6 704.5,2002.5 705.5,2002.5 706.5,2002.5 707.5,2002.4 708.5,2002.3 709.5,2002.1 710.5,2001.9 711.5,2001.6 712.5,2001.2 713.5,2000.7 714.5,2000 715.5,1999 716.5,1997.8 717.5,1996.2 718.5,1994.2 719.5,1991.6 720.5,1988.4 721.5,1984.4 722.5,1979.6 723.5,1973.8 724.5,1967 725.5,1959.1 726.5,1949.9 727.5,1939.5 728.5,1927.9 729.5,1915 730.5,1901.1 731.5,1886.2 732.5,1870.6 733.5,1854.5 734.5,1838.3 735.5,1822.2 736.5,1806.7 737.5,1792.1 738.5,1778.9 739.5,1767.4 740.5,1757.9 741.5,1750.7 742.5,1746.1 743.5,1744 744.5,1744.6 745.5,1747.8 746.5,1753.3 747.5,1761 748.5,1770.6 749.5,1781.7 750.5,1793.9 751.5,1807 752.5,1820.7 753.5,1834.6 754.5,1848.6 755.5,1862.5 756.5,1876.2 757.5,1889.5 758.5,1902.3 759.5,1914.5 760.5,1926 761.5,1936.6 762.5,1946.4 763.5,1955.1 764.5,1962.9 765.5,1969.6 766.5,1975.4 767.5,1980.2 768.5,1984.1 769.5,1987.3 770.5,1989.8 771.5,1991.7 772.5,1993.2 773.5,1994.2 774.5,1995 775.5,1995.6 776.5,1996 777.5,1996.3 778.5,1996.5 779.5,1996.6 780.5,1996.7 781.5,1996.8 782.5,1996.8 783.5,1996.9 784.5,1996.9 785.5,1996.9 786.5,1996.9 787.5,1996.9 788.5,1996.9 789.5,1996.9 790.5,1996.9 791.5,1996.9 792.5,1996.9 793.5,1996.9 794.5,1996.9 795.5,1996.9 796.5,1996.9 797.5,1996.9 798.5,1996.9 799.5,1996.9 800.5,1996.9 801.5,1996.9 802.5,1996.9 803.5,1996.9 804.5,1996.9 805.5,1996.9 806.5,1996.9 807.5,1996.9 808.5,1996.9 809.5,1996.9 810.5,1996.9 811.5,1996.9 812.5,1996.9 813.5,1996.9 814.5,1996.9 815.5,1996.9 816.5,1996.9 817.5,1996.9 818.5,1996.9 819.5,1996.9 820.5,1996.9 821.5,1996.9 822.5,1996.9 823.5,1996.9 824.5,1996.9 825.5,1996.9 826.5,1996.9 827.5,1996.9 828.5,1996.9 829.5,1996.9 830.5,1996.9 831.5,1996.9 832.5,1996.9 833.5,1996.9 834.5,1996.9 835.5,1996.9 836.5,1996.9 837.5,1996.9 838.5,1996.9 839.5,1996.9 840.5,1996.9 841.5,1996.9 842.5,1996.9 843.5,1996.8 844.5,1996.8 845.5,1996.8 846.5,1996.7 847.5,1996.7 848.5,1996.6 849.5,1996.5 850.5,1996.3 851.5,1996.1 852.5,1995.9 853.5,1995.6 854.5,1995.3 855.5,1994.9 856.5,1994.4 857.5,1993.9 858.5,1993.4 859.5,1992.7 860.5,1992 861.5,1991.3 862.5,1990.6 863.5,1989.9 864.5,1989.1 865.5,1988.5 866.5,1987.9 867.5,1987.4 868.5,1987 869.5,1986.7 870.5,1986.4 871.5,1986.1 872.5,1985.7 873.5,1985.2 874.5,1984.7 875.5,1984 876.5,1983.2 877.5,1982.3 878.5,1981.4 879.5,1980.4 880.5,1979.3 881.5,1978.3 882.5,1977.2 883.5,1976.1 884.5,1975.1 885.5,1974.1 886.5,1973.2 887.5,1972.4 888.5,1971.7 889.5,1971.2 890.5,1970.8 891.5,1970.6 892.5,1970.5 893.5,1970.7 894.5,1971 895.5,1971.5 896.5,1972.1 897.5,1973 898.5,1973.9 899.5,1975 900.5,1976.2 901.5,1977.6 902.5,1978.9 903.5,1980.4 904.5,1981.8 905.5,1983.3 906.5,1984.8 907.5,1986.3 908.5,1987.7 909.5,1989.1 910.5,1990.5 911.5,1991.7 912.5,1992.9 913.5,1994 914.5,1995.1 915.5,1996 916.5,1996.9 917.5,1997.6 918.5,1998.3 919.5,1999 920.5,1999.5 921.5,2000 922.5,2000.4 923.5,2000.8 924.5,2001.1 925.5,2001.3 926.5,2001.6 927.5,2001.8 928.5,2001.9 929.5,2002.1 930.5,2002.2 931.5,2002.3 932.5,2002.3 933.5,2002.4 934.5,2002.4 935.5,2002.5 936.5,2002.5 937.5,2002.5 938.5,2002.5 939.5,2002.6 940.5,2002.6 941.5,2002.6 942.5,2002.6 943.5,2002.6 944.5,2002.6 945.5,2002.6 946.5,2002.6 947.5,2002.6 948.5,2002.6 949.5,2002.6 950.5,2002.6 951.5,2002.6 952.5,2002.6 953.5,2002.6 954.5,2002.6 955.5,2002.6 956.5,2002.6 957.5,2002.6 958.5,2002.6 959.5,2002.6 960.5,2002.6 961.5,2002.6 962.5,2002.6 963.5,2002.6 964.5,2002.6 965.5,2002.6 966.5,2002.6 967.5,2002.6 968.5,2002.6 969.5,2002.6" fill="none" stroke="#e030e0" stroke-width="1.50" stroke-linejoin="round"/>
<path d="M654.5,2002.6 655.5,2002.6 656.5,2002.6 657.5,2002.6 658.5,2002.6 659.5,2002.6 660.5,2002.6 661.5,2002.6 662.5,2002.6 663.5,2002.6 664.5,2002.6 665.5,2002.6 666.5,2002.6 667.5,2002.6 668.5,2002.6 669.5,2002.6 670.5,2002.6 671.5,2002.6 672.5,2002.6 673.5,2002.6 674.5,2002.6 675.5,2002.6 676.5,2002.6 677.5,2002.6 678.5,2002.6 679.5,2002.6 680.5,2002.6 681.5,2002.6 682.5,2002.6 683.5,2002.6 684.5,2002.6 685.5,2002.6 686.5,2002.6 687.5,2002.6 688.5,2002.6 689.5,2002.6 690.5,2002.6 691.5,2002.6 692.5,2002.6 693.5,2002.6 694.5,2002.6 695.5,2002.6 696.5,2002.6 697.5,2002.6 698.5,2002.6 699.5,2002.6 700.5,2002.6 701.5,2002.6 702.5,2002.6 703.5,2002.5 704.5,2002.5 705.5,2002.5 706.5,2002.4 707.5,2002.3 708.5,2002.2 709.5,2002 710.5,2001.7 711.5,2001.2 712.5,2000.4 713.5,1999.8 714.5,1998 715.5,1996.8 716.5,1992.8 717.5,1989.6 718.5,1986.5 719.5,1984 720.5,1979.3 721.5,1975.8 722.5,1971.4 723.5,1964.3 724.5,1957.6 725.5,1951.8 726.5,1940.2 727.5,1929.8 728.5,1917.9 729.5,1904.5 730.5,1888.8 731.5,1873.9 732.5,1857.3 733.5,1841.1 734.5,1826.3 735.5,1809.1 736.5,1793.8 737.5,1780.3 738.5,1769.3 739.5,1760.8 740.5,1753.3 741.5,1747.9 742.5,1743.4 743.5,1745.2 744.5,1747.8 745.5,1751.8 746.5,1760.7 747.5,1769.6 748.5,1780.9 749.5,1794.1 750.5,1806 751.5,1819 752.5,1834.5 753.5,1848.2 754.5,1861.4 755.5,1875.7 756.5,1887.6 757.5,1899.3 758.5,1911.5 759.5,1923.1 760.5,1932.8 761.5,1944.1 762.5,1951.9 763.5,1960.3 764.5,1966.7 765.5,1973.9 766.5,1977.4 767.5,1983.3 768.5,1986.7 769.5,1987.9 770.5,1989.8 771.5,1992.7 772.5,1994 773.5,1995.3 774.5,1995.9 775.5,1995.6 776.5,1997 777.5,1997.3 778.5,1996.7 779.5,1997.5 780.5,1996.4 781.5,1996 782.5,1996.2 783.5,1996.9 784.5,1997.2 785.5,1997 786.5,1998.1 787.5,1996.4 788.5,1997.3 789.5,1997.3 790.5,1997.9 791.5,1997 792.5,1996.7 793.5,1997.2 794.5,1996 795.5,1996.5 796.5,1997.5 797.5,1996.8 798.5,1995.9 799.5,1996.9 800.5,1996.7 801.5,1997.9 802.5,1996.9 803.5,1997 804.5,1997.1 805.5,1997.1 806.5,1996.7 807.5,1996.8 808.5,1996.9 809.5,1997.7 810.5,1997 811.5,1995.8 812.5,1997.1 813.5,1998 814.5,1998.1 815.5,1996.8 816.5,1998 817.5,1997.9 818.5,1997.8 819.5,1997 820.5,1995.7 821.5,1996.9 822.5,1997 823.5,1997.1 824.5,1996.9 825.5,1997 826.5,1996.4 827.5,1995.9 828.5,1996.4 829.5,1997.1 830.5,1996.5 831.5,1995.9 832.5,1997.7 833.5,1997.5 834.5,1996.6 835.5,1996.4 836.5,1996.6 837.5,1996.7 838.5,1996.1 839.5,1996.9 840.5,1996.1 841.5,1995.8 842.5,1997 843.5,1996 844.5,1996.3 845.5,1995.9 846.5,1997.8 847.5,1995.7 848.5,1996 849.5,1995.4 850.5,1995.2 851.5,1996.7 852.5,1995.6 853.5,1996.6 854.5,1995.2 855.5,1994.1 856.5,1995.4 857.5,1994.5 858.5,1994.6 859.5,1993.8 860.5,1993.1 861.5,1992.8 862.5,1989.9 863.5,1989.5 864.5,1990 865.5,1988.7 866.5,1988.4 867.5,1988.4 868.5,1988.4 869.5,1987.6 870.5,1987.7 871.5,1988.2 872.5,1987.7 873.5,1986.7 874.5,1986.2 875.5,1986.7 876.5,1985 877.5,1983.6 878.5,1982.7 879.5,1982.2 880.5,1982.6 881.5,1980.7 882.5,1980.3 883.5,1979.2 884.5,1977.6 885.5,1976 886.5,1974.2 887.5,1973.5 888.5,1973.5 889.5,1971.7 890.5,1971.5 891.5,1971 892.5,1971.3 893.5,1970.7 894.5,1971 895.5,1970.3 896.5,1971.3 897.5,1971.9 898.5,1972.6 899.5,1973.5 900.5,1974 901.5,1975.1 902.5,1976.2 903.5,1978.5 904.5,1978.9 905.5,1980 906.5,1981.4 907.5,1983.6 908.5,1986.6 909.5,1986.2 910.5,1987.6 911.5,1991 912.5,1991.5 913.5,1992.8 914.5,1992.9 915.5,1994.3 916.5,1996.1 917.5,1997.2 918.5,1998.1 919.5,1999 920.5,1998 921.5,1998.2 922.5,2000.4 923.5,1999.6 924.5,1999.5 925.5,2000.9 926.5,2001.2 927.5,2001.5 928.5,2001.7 929.5,2001.8 930.5,2002 931.5,2002.1 932.5,2002.2 933.5,2002.3 934.5,2002.4 935.5,2002.4 936.5,2002.5 937.5,2002.5 938.5,2002.5 939.5,2002.5 940.5,2002.5 941.5,2002.6 942.5,2002.6 943.5,2002.6 944.5,2002.6 945.5,2002.6 946.5,2002.6 947.5,2002.6 948.5,2002.6 949.5,2002.6 950.5,2002.6 951.5,2002.6 952.5,2002.6 953.5,2002.6 954.5,2002.6 955.5,2002.6 956.5,2002.6 957.5,2002.6 958.5,2002.6 959.5,2002.6 960.5,2002.6 961.5,2002.6 962.5,2002.6 963.5,2002.6 964.5,2002.6 965.5,2002.6 966.5,2002.6 967.5,2002.6 968.5,2002.6 969.5,2002.6" fill="none" stroke="#1a1a1a" stroke-width="1.10" stroke-linejoin="round" stroke-opacity="0.8"/>
</g>
<rect x="653.50" y="1706.30" width="317.50" height="296.30" fill="none" stroke="#000" stroke-width="1.5"/>
<line x1="653.50" y1="1705.80" x2="653.50" y2="2003.10" stroke="#000" stroke-width="1.70"/>
<line x1="653.00" y1="2002.60" x2="971.50" y2="2002.60" stroke="#000" stroke-width="1.80"/>
<line x1="648.00" y1="1728.10" x2="653.50" y2="1728.10" stroke="#000" stroke-width="1.60"/>
<text x="597.78" y="1738.40" font-size="28.00">250</text>
<line x1="648.00" y1="1782.50" x2="653.50" y2="1782.50" stroke="#000" stroke-width="1.60"/>
<text x="597.78" y="1792.80" font-size="28.00">200</text>
<line x1="648.00" y1="1837.10" x2="653.50" y2="1837.10" stroke="#000" stroke-width="1.60"/>
<text x="597.78" y="1847.40" font-size="28.00">150</text>
<line x1="648.00" y1="1893.60" x2="653.50" y2="1893.60" stroke="#000" stroke-width="1.60"/>
<text x="597.78" y="1903.90" font-size="28.00">100</text>
<line x1="648.00" y1="1948.20" x2="653.50" y2="1948.20" stroke="#000" stroke-width="1.60"/>
<text x="613.35" y="1958.50" font-size="28.00">50</text>
<line x1="648.00" y1="2002.60" x2="653.50" y2="2002.60" stroke="#000" stroke-width="1.60"/>
<text x="628.92" y="2012.90" font-size="28.00">0</text>
<line x1="650.90" y1="1991.62" x2="653.50" y2="1991.62" stroke="#333" stroke-width="1.00"/>
<line x1="650.90" y1="1980.64" x2="653.50" y2="1980.64" stroke="#333" stroke-width="1.00"/>
<line x1="650.90" y1="1969.66" x2="653.50" y2="1969.66" stroke="#333" stroke-width="1.00"/>
<line x1="650.90" y1="1958.68" x2="653.50" y2="1958.68" stroke="#333" stroke-width="1.00"/>
<line x1="650.90" y1="1936.72" x2="653.50" y2="1936.72" stroke="#333" stroke-width="1.00"/>
<line x1="650.90" y1="1925.74" x2="653.50" y2="1925.74" stroke="#333" stroke-width="1.00"/>
<line x1="650.90" y1="1914.76" x2="653.50" y2="1914.76" stroke="#333" stroke-width="1.00"/>
<line x1="650.90" y1="1903.78" x2="653.50" y2="1903.78" stroke="#333" stroke-width="1.00"/>
<line x1="650.90" y1="1881.82" x2="653.50" y2="1881.82" stroke="#333" stroke-width="1.00"/>
<line x1="650.90" y1="1870.84" x2="653.50" y2="1870.84" stroke="#333" stroke-width="1.00"/>
<line x1="650.90" y1="1859.86" x2="653.50" y2="1859.86" stroke="#333" stroke-width="1.00"/>
<line x1="650.90" y1="1848.88" x2="653.50" y2="1848.88" stroke="#333" stroke-width="1.00"/>
<line x1="650.90" y1="1826.92" x2="653.50" y2="1826.92" stroke="#333" stroke-width="1.00"/>
<line x1="650.90" y1="1815.94" x2="653.50" y2="1815.94" stroke="#333" stroke-width="1.00"/>
<line x1="650.90" y1="1804.96" x2="653.50" y2="1804.96" stroke="#333" stroke-width="1.00"/>
<line x1="650.90" y1="1793.98" x2="653.50" y2="1793.98" stroke="#333" stroke-width="1.00"/>
<line x1="650.90" y1="1772.02" x2="653.50" y2="1772.02" stroke="#333" stroke-width="1.00"/>
<line x1="650.90" y1="1761.04" x2="653.50" y2="1761.04" stroke="#333" stroke-width="1.00"/>
<line x1="650.90" y1="1750.06" x2="653.50" y2="1750.06" stroke="#333" stroke-width="1.00"/>
<line x1="650.90" y1="1739.08" x2="653.50" y2="1739.08" stroke="#333" stroke-width="1.00"/>
<line x1="650.90" y1="1717.12" x2="653.50" y2="1717.12" stroke="#333" stroke-width="1.00"/>
<line x1="652.90" y1="2002.60" x2="652.90" y2="2008.10" stroke="#000" stroke-width="1.60"/>
<text x="633.58" y="2035.00" font-size="28.00">5.2</text>
<line x1="697.40" y1="2002.60" x2="697.40" y2="2008.10" stroke="#000" stroke-width="1.60"/>
<text x="689.61" y="2035.00" font-size="28.00">8</text>
<line x1="757.60" y1="2002.60" x2="757.60" y2="2008.10" stroke="#000" stroke-width="1.60"/>
<text x="741.67" y="2035.00" font-size="28.00">12</text>
<line x1="817.80" y1="2002.60" x2="817.80" y2="2008.10" stroke="#000" stroke-width="1.60"/>
<text x="801.78" y="2035.00" font-size="28.00">16</text>
<line x1="878.00" y1="2002.60" x2="878.00" y2="2008.10" stroke="#000" stroke-width="1.60"/>
<text x="862.27" y="2035.00" font-size="28.00">20</text>
<line x1="938.20" y1="2002.60" x2="938.20" y2="2008.10" stroke="#000" stroke-width="1.60"/>
<text x="922.33" y="2035.00" font-size="28.00">24</text>
<line x1="661.28" y1="2002.60" x2="661.28" y2="2005.40" stroke="#333" stroke-width="1.00"/>
<line x1="673.32" y1="2002.60" x2="673.32" y2="2005.40" stroke="#333" stroke-width="1.00"/>
<line x1="685.36" y1="2002.60" x2="685.36" y2="2005.40" stroke="#333" stroke-width="1.00"/>
<line x1="709.44" y1="2002.60" x2="709.44" y2="2005.40" stroke="#333" stroke-width="1.00"/>
<line x1="721.48" y1="2002.60" x2="721.48" y2="2005.40" stroke="#333" stroke-width="1.00"/>
<line x1="733.52" y1="2002.60" x2="733.52" y2="2005.40" stroke="#333" stroke-width="1.00"/>
<line x1="745.56" y1="2002.60" x2="745.56" y2="2005.40" stroke="#333" stroke-width="1.00"/>
<line x1="769.64" y1="2002.60" x2="769.64" y2="2005.40" stroke="#333" stroke-width="1.00"/>
<line x1="781.68" y1="2002.60" x2="781.68" y2="2005.40" stroke="#333" stroke-width="1.00"/>
<line x1="793.72" y1="2002.60" x2="793.72" y2="2005.40" stroke="#333" stroke-width="1.00"/>
<line x1="805.76" y1="2002.60" x2="805.76" y2="2005.40" stroke="#333" stroke-width="1.00"/>
<line x1="829.84" y1="2002.60" x2="829.84" y2="2005.40" stroke="#333" stroke-width="1.00"/>
<line x1="841.88" y1="2002.60" x2="841.88" y2="2005.40" stroke="#333" stroke-width="1.00"/>
<line x1="853.92" y1="2002.60" x2="853.92" y2="2005.40" stroke="#333" stroke-width="1.00"/>
<line x1="865.96" y1="2002.60" x2="865.96" y2="2005.40" stroke="#333" stroke-width="1.00"/>
<line x1="890.04" y1="2002.60" x2="890.04" y2="2005.40" stroke="#333" stroke-width="1.00"/>
<line x1="902.08" y1="2002.60" x2="902.08" y2="2005.40" stroke="#333" stroke-width="1.00"/>
<line x1="914.12" y1="2002.60" x2="914.12" y2="2005.40" stroke="#333" stroke-width="1.00"/>
<line x1="926.16" y1="2002.60" x2="926.16" y2="2005.40" stroke="#333" stroke-width="1.00"/>
<line x1="950.24" y1="2002.60" x2="950.24" y2="2005.40" stroke="#333" stroke-width="1.00"/>
<line x1="962.28" y1="2002.60" x2="962.28" y2="2005.40" stroke="#333" stroke-width="1.00"/>
<text x="665.54" y="1693.80" font-size="27.50">Luminespib 50 nM</text>
<text transform="translate(589.30,1849.00) rotate(-90)" x="-69.76" y="0" font-size="28">Count (10<tspan font-size="13" dy="-13">3</tspan><tspan dy="13">)</tspan></text>
<text x="741.74" y="2067.90" font-size="27.50">PI-A (10<tspan font-size="13" dy="-13">6</tspan><tspan dy="13">)</tspan></text>
<clipPath id="c11"><rect x="219.30" y="2122.00" width="318.90" height="298.90"/></clipPath>
<g clip-path="url(#c11)">
<path d="M314.3,2420.9L314.3,2420.8 315.3,2420.7 316.3,2420.6 317.3,2420.4 318.3,2420.2 319.3,2419.9 320.3,2418.5 321.3,2418 322.3,2417.4 323.3,2416.8 324.3,2416 325.3,2415.3 326.3,2414.7 327.3,2414.1 328.3,2413.7 329.3,2413.4 330.3,2413.1 331.3,2413 332.3,2412.9 333.3,2412.8 334.3,2412.7 335.3,2412.7 336.3,2412.7 337.3,2412.6 338.3,2412.6 339.3,2412.6 340.3,2413 341.3,2413.4 342.3,2413.6 343.3,2413.8 344.3,2413.8 345.3,2413.9 346.3,2413.9 347.3,2413.9 348.3,2413.9 349.3,2413.9 350.3,2413.9 351.3,2413.9 352.3,2413.9 353.3,2413.9 354.3,2413.9 355.3,2413.9 356.3,2413.9 357.3,2413.9 358.3,2413.9 359.3,2413.9 360.3,2413.9 361.3,2413.9 362.3,2413.9 363.3,2413.9 364.3,2413.9 365.3,2413.9 366.3,2413.9 367.3,2413.9 368.3,2413.9 369.3,2413.9 370.3,2413.9 371.3,2413.9 372.3,2413.9 373.3,2413.9 374.3,2413.9 375.3,2413.9 376.3,2413.9 377.3,2413.9 378.3,2413.9 379.3,2413.9 380.3,2413.9 381.3,2413.9 382.3,2413.9 383.3,2413.9 384.3,2413.9 385.3,2413.9 386.3,2413.9 387.3,2413.9 388.3,2413.9 389.3,2413.9 390.3,2413.9 391.3,2413.9 392.3,2413.9 393.3,2413.9 394.3,2413.9 395.3,2413.9 396.3,2413.9 397.3,2413.9 398.3,2413.9 399.3,2413.9 400.3,2413.9 401.3,2413.9 402.3,2413.9 403.3,2413.9 404.3,2413.9 405.3,2413.9 406.3,2413.9 407.3,2413.9 408.3,2413.9 409.3,2413.9 410.3,2413.9 411.3,2413.9 412.3,2413.9 413.3,2413.9 414.3,2413.9 415.3,2413.9 416.3,2413.9 417.3,2413.9 418.3,2413.9 419.3,2413.9 420.3,2413.9 421.3,2413.9 422.3,2413.9 423.3,2413.9 424.3,2413.9 425.3,2413.9 426.3,2413.9 427.3,2413.9 428.3,2413.9 429.3,2413.9 430.3,2413.9 431.3,2413.9 432.3,2413.9 433.3,2413.9 434.3,2413.9 435.3,2413.9 436.3,2413.9 437.3,2413.9 438.3,2413.8 439.3,2413.8 440.3,2413.8 441.3,2413.7 442.3,2413.6 443.3,2413.5 444.3,2413.4 445.3,2413.2 446.3,2413 447.3,2412.7 448.3,2412.6 449.3,2412.6 450.3,2412.7 451.3,2412.7 452.3,2412.7 453.3,2412.8 454.3,2412.9 455.3,2413.1 456.3,2413.3 457.3,2413.6 458.3,2414 459.3,2414.5 460.3,2415.1 461.3,2415.7 462.3,2416.5 463.3,2417.2 464.3,2417.8 465.3,2418.4 466.3,2418.8 467.3,2420.1 468.3,2420.4 469.3,2420.5 470.3,2420.6 471.3,2420.7 472.3,2420.8 472.3,2420.9 Z" fill="#dcd87a" stroke="none" stroke-width="1.00"/>
<path d="M292.3,2420.9L292.3,2420.8 293.3,2420.7 294.3,2420.6 295.3,2420.4 296.3,2420 297.3,2419.3 298.3,2418.3 299.3,2416.8 300.3,2414.4 301.3,2410.9 302.3,2406 303.3,2399.3 304.3,2390.2 305.3,2378.6 306.3,2363.9 307.3,2346.2 308.3,2325.4 309.3,2302 310.3,2276.6 311.3,2250.2 312.3,2224.2 313.3,2200 314.3,2179.1 315.3,2163 316.3,2152.8 317.3,2149.3 318.3,2152.8 319.3,2163 320.3,2179.1 321.3,2200 322.3,2224.2 323.3,2250.2 324.3,2276.6 325.3,2302 326.3,2325.4 327.3,2346.2 328.3,2363.9 329.3,2378.6 330.3,2390.2 331.3,2399.3 332.3,2406 333.3,2410.9 334.3,2414.4 335.3,2416.8 336.3,2418.3 337.3,2419.3 338.3,2420 339.3,2420.4 340.3,2420.6 341.3,2420.7 342.3,2420.8 342.3,2420.9 Z" fill="#80dd80" stroke="none" stroke-width="1.00"/>
<path d="M446.3,2420.9L446.3,2420.8 447.3,2420.7 448.3,2420.6 449.3,2420.6 450.3,2420.4 451.3,2420.3 452.3,2420.1 453.3,2419.8 454.3,2419.5 455.3,2419 456.3,2418.5 457.3,2417.9 458.3,2417.2 459.3,2416.4 460.3,2415.4 461.3,2414.2 462.3,2412.9 463.3,2411.5 464.3,2409.9 465.3,2408.2 466.3,2406.4 467.3,2404.5 468.3,2402.6 469.3,2400.7 470.3,2398.7 471.3,2396.9 472.3,2395.2 473.3,2393.7 474.3,2392.4 475.3,2391.3 476.3,2390.5 477.3,2390.1 478.3,2389.9 479.3,2390.1 480.3,2390.7 481.3,2391.5 482.3,2392.6 483.3,2394 484.3,2395.5 485.3,2397.3 486.3,2399.1 487.3,2401 488.3,2403 489.3,2404.9 490.3,2406.8 491.3,2408.6 492.3,2410.3 493.3,2411.8 494.3,2413.2 495.3,2414.5 496.3,2415.6 497.3,2416.5 498.3,2417.4 499.3,2418.1 500.3,2418.7 501.3,2419.1 502.3,2419.5 503.3,2419.8 504.3,2420.1 505.3,2420.3 506.3,2420.5 507.3,2420.6 508.3,2420.7 509.3,2420.7 510.3,2420.8 510.3,2420.9 Z" fill="#80ffff" stroke="none" stroke-width="1.00"/>
<path d="M315.3,2420.9L315.3,2420.8 316.3,2420.7 317.3,2420.4 318.3,2420.1 319.3,2419.5 320.3,2418.6 321.3,2417.3 322.3,2415.6 323.3,2413.6 324.3,2411.4 325.3,2409.1 326.3,2407 327.3,2405.4 328.3,2404.5 329.3,2404.5 330.3,2405.4 331.3,2407 332.3,2409.1 333.3,2411.4 334.3,2413.6 335.3,2415.6 336.3,2417.3 337.3,2418.6 338.3,2419.5 339.3,2420.1 340.3,2420.4 341.3,2420.7 342.3,2420.8 342.3,2420.9 Z" fill="#6ccf3c" stroke="none" stroke-width="1.00"/>
<path d="M441.3,2420.9L441.3,2420.8 442.3,2420.7 443.3,2420.6 444.3,2420.5 445.3,2420.3 446.3,2420.2 447.3,2419.9 448.3,2419.7 449.3,2419.3 450.3,2419 451.3,2418.6 452.3,2418.2 453.3,2417.7 454.3,2417.3 455.3,2416.9 456.3,2416.6 457.3,2416.3 458.3,2416 459.3,2415.9 460.3,2415.9 461.3,2416 462.3,2416.2 463.3,2416.4 464.3,2416.8 465.3,2417.1 466.3,2417.6 467.3,2418 468.3,2418.4 469.3,2418.8 470.3,2419.2 471.3,2419.5 472.3,2419.8 473.3,2420.1 474.3,2420.3 475.3,2420.4 476.3,2420.6 477.3,2420.7 478.3,2420.7 479.3,2420.8 479.3,2420.9 Z" fill="#78ecc0" stroke="none" stroke-width="1.00"/>
<path d="M220.3,2420.9 221.3,2420.9 222.3,2420.9 223.3,2420.9 224.3,2420.9 225.3,2420.9 226.3,2420.9 227.3,2420.9 228.3,2420.9 229.3,2420.9 230.3,2420.9 231.3,2420.9 232.3,2420.9 233.3,2420.9 234.3,2420.9 235.3,2420.9 236.3,2420.9 237.3,2420.9 238.3,2420.9 239.3,2420.9 240.3,2420.9 241.3,2420.9 242.3,2420.9 243.3,2420.9 244.3,2420.9 245.3,2420.9 246.3,2420.9 247.3,2420.9 248.3,2420.9 249.3,2420.9 250.3,2420.9 251.3,2420.9 252.3,2420.9 253.3,2420.9 254.3,2420.9 255.3,2420.9 256.3,2420.9 257.3,2420.9 258.3,2420.9 259.3,2420.9 260.3,2420.9 261.3,2420.9 262.3,2420.9 263.3,2420.9 264.3,2420.9 265.3,2420.9 266.3,2420.9 267.3,2420.9 268.3,2420.9 269.3,2420.9 270.3,2420.9 271.3,2420.9 272.3,2420.9 273.3,2420.9 274.3,2420.9 275.3,2420.9 276.3,2420.9 277.3,2420.9 278.3,2420.9 279.3,2420.9 280.3,2420.9 281.3,2420.9 282.3,2420.9 283.3,2420.9 284.3,2420.9 285.3,2420.9 286.3,2420.9 287.3,2420.9 288.3,2420.9 289.3,2420.9 290.3,2420.9 291.3,2420.8 292.3,2420.8 293.3,2420.6 294.3,2420.4 295.3,2420.1 296.3,2419.5 297.3,2418.7 298.3,2417.4 299.3,2415.4 300.3,2412.5 301.3,2408.4 302.3,2402.7 303.3,2395.1 304.3,2385.3 305.3,2372.8 306.3,2357.5 307.3,2339.2 308.3,2318.3 309.3,2295 310.3,2270.1 311.3,2244.6 312.3,2219.7 313.3,2196.7 314.3,2176.9 315.3,2161.7 316.3,2152 317.3,2148.4 318.3,2151 319.3,2159.6 320.3,2173.5 321.3,2191.4 322.3,2212.1 323.3,2234.3 324.3,2256.8 325.3,2278.6 326.3,2299.1 327.3,2318 328.3,2334.9 329.3,2349.9 330.3,2363 331.3,2374.3 332.3,2383.8 333.3,2391.7 334.3,2398 335.3,2402.9 336.3,2406.5 337.3,2409.1 338.3,2410.8 339.3,2412 340.3,2412.7 341.3,2413.1 342.3,2413.3 343.3,2413.5 344.3,2413.5 345.3,2413.6 346.3,2413.6 347.3,2413.6 348.3,2413.6 349.3,2413.6 350.3,2413.6 351.3,2413.6 352.3,2413.6 353.3,2413.6 354.3,2413.6 355.3,2413.6 356.3,2413.6 357.3,2413.6 358.3,2413.6 359.3,2413.6 360.3,2413.6 361.3,2413.6 362.3,2413.6 363.3,2413.6 364.3,2413.6 365.3,2413.6 366.3,2413.6 367.3,2413.6 368.3,2413.6 369.3,2413.6 370.3,2413.6 371.3,2413.6 372.3,2413.6 373.3,2413.6 374.3,2413.6 375.3,2413.6 376.3,2413.6 377.3,2413.6 378.3,2413.6 379.3,2413.6 380.3,2413.6 381.3,2413.6 382.3,2413.6 383.3,2413.6 384.3,2413.6 385.3,2413.6 386.3,2413.6 387.3,2413.6 388.3,2413.6 389.3,2413.6 390.3,2413.6 391.3,2413.6 392.3,2413.6 393.3,2413.6 394.3,2413.6 395.3,2413.6 396.3,2413.6 397.3,2413.6 398.3,2413.6 399.3,2413.6 400.3,2413.6 401.3,2413.6 402.3,2413.6 403.3,2413.6 404.3,2413.6 405.3,2413.6 406.3,2413.6 407.3,2413.6 408.3,2413.6 409.3,2413.6 410.3,2413.6 411.3,2413.6 412.3,2413.6 413.3,2413.6 414.3,2413.6 415.3,2413.6 416.3,2413.6 417.3,2413.6 418.3,2413.6 419.3,2413.6 420.3,2413.6 421.3,2413.6 422.3,2413.6 423.3,2413.6 424.3,2413.6 425.3,2413.6 426.3,2413.6 427.3,2413.6 428.3,2413.6 429.3,2413.6 430.3,2413.6 431.3,2413.6 432.3,2413.6 433.3,2413.6 434.3,2413.6 435.3,2413.6 436.3,2413.6 437.3,2413.6 438.3,2413.5 439.3,2413.5 440.3,2413.5 441.3,2413.4 442.3,2413.3 443.3,2413.2 444.3,2413.1 445.3,2412.9 446.3,2412.7 447.3,2412.4 448.3,2412 449.3,2411.6 450.3,2411.1 451.3,2410.5 452.3,2409.9 453.3,2409.2 454.3,2408.5 455.3,2407.8 456.3,2407.1 457.3,2406.4 458.3,2405.7 459.3,2405.2 460.3,2404.7 461.3,2404.3 462.3,2403.8 463.3,2403.3 464.3,2402.7 465.3,2401.9 466.3,2400.9 467.3,2399.8 468.3,2398.5 469.3,2397.2 470.3,2395.8 471.3,2394.5 472.3,2393.2 473.3,2392 474.3,2390.9 475.3,2390.1 476.3,2389.5 477.3,2389.2 478.3,2389.1 479.3,2389.4 480.3,2389.9 481.3,2390.7 482.3,2391.8 483.3,2393.1 484.3,2394.7 485.3,2396.3 486.3,2398.1 487.3,2400 488.3,2401.9 489.3,2403.8 490.3,2405.7 491.3,2407.5 492.3,2409.2 493.3,2410.8 494.3,2412.3 495.3,2413.6 496.3,2414.8 497.3,2415.8 498.3,2416.7 499.3,2417.5 500.3,2418.2 501.3,2418.7 502.3,2419.2 503.3,2419.5 504.3,2419.9 505.3,2420.1 506.3,2420.3 507.3,2420.4 508.3,2420.6 509.3,2420.6 510.3,2420.7 511.3,2420.8 512.3,2420.8 513.3,2420.8 514.3,2420.9 515.3,2420.9 516.3,2420.9 517.3,2420.9 518.3,2420.9 519.3,2420.9 520.3,2420.9 521.3,2420.9 522.3,2420.9 523.3,2420.9 524.3,2420.9 525.3,2420.9 526.3,2420.9 527.3,2420.9 528.3,2420.9 529.3,2420.9 530.3,2420.9 531.3,2420.9 532.3,2420.9 533.3,2420.9 534.3,2420.9 535.3,2420.9 536.3,2420.9" fill="none" stroke="#e030e0" stroke-width="1.50" stroke-linejoin="round"/>
<path d="M220.3,2420.9 221.3,2420.9 222.3,2420.9 223.3,2420.9 224.3,2420.9 225.3,2420.9 226.3,2420.9 227.3,2420.9 228.3,2420.9 229.3,2420.9 230.3,2420.9 231.3,2420.9 232.3,2420.9 233.3,2420.9 234.3,2420.9 235.3,2420.9 236.3,2420.9 237.3,2420.9 238.3,2420.9 239.3,2420.9 240.3,2420.9 241.3,2420.9 242.3,2420.9 243.3,2420.9 244.3,2420.9 245.3,2420.9 246.3,2420.9 247.3,2420.9 248.3,2420.9 249.3,2420.9 250.3,2420.9 251.3,2420.9 252.3,2420.9 253.3,2420.9 254.3,2420.9 255.3,2420.9 256.3,2420.9 257.3,2420.9 258.3,2420.9 259.3,2420.9 260.3,2420.9 261.3,2420.9 262.3,2420.9 263.3,2420.9 264.3,2420.9 265.3,2420.9 266.3,2420.9 267.3,2420.9 268.3,2420.9 269.3,2420.9 270.3,2420.9 271.3,2420.9 272.3,2420.9 273.3,2420.9 274.3,2420.9 275.3,2420.9 276.3,2420.9 277.3,2420.9 278.3,2420.9 279.3,2420.9 280.3,2420.9 281.3,2420.9 282.3,2420.9 283.3,2420.9 284.3,2420.9 285.3,2420.9 286.3,2420.9 287.3,2420.8 288.3,2420.7 289.3,2420.4 290.3,2419.8 291.3,2419 292.3,2418 293.3,2416.3 294.3,2414 295.3,2413.9 296.3,2412.9 297.3,2412 298.3,2412.1 299.3,2409.8 300.3,2406.8 301.3,2402 302.3,2397.1 303.3,2387.6 304.3,2376.3 305.3,2360 306.3,2342.6 307.3,2323.8 308.3,2298.7 309.3,2274.1 310.3,2249.4 311.3,2224.3 312.3,2201.9 313.3,2181.8 314.3,2164.4 315.3,2154.7 316.3,2149.6 317.3,2151.1 318.3,2159.3 319.3,2171.4 320.3,2189 321.3,2208.7 322.3,2231.9 323.3,2254.3 324.3,2276.8 325.3,2297 326.3,2316.2 327.3,2333.3 328.3,2346.2 329.3,2358.9 330.3,2370.3 331.3,2380 332.3,2388.9 333.3,2395.7 334.3,2400.9 335.3,2405.6 336.3,2407 337.3,2410 338.3,2410.5 339.3,2412.5 340.3,2411.7 341.3,2412.4 342.3,2414.6 343.3,2414.2 344.3,2412.6 345.3,2413.7 346.3,2412.4 347.3,2413.8 348.3,2414.6 349.3,2413.3 350.3,2412.9 351.3,2414.2 352.3,2414.6 353.3,2414 354.3,2412.5 355.3,2413 356.3,2414.5 357.3,2414.2 358.3,2414.6 359.3,2414.7 360.3,2412.9 361.3,2414.4 362.3,2413.5 363.3,2413.7 364.3,2414.3 365.3,2413 366.3,2414.5 367.3,2413.3 368.3,2414.5 369.3,2413.8 370.3,2414.3 371.3,2414.2 372.3,2412.5 373.3,2412.9 374.3,2414.1 375.3,2412.7 376.3,2414.3 377.3,2413.9 378.3,2412.7 379.3,2413.3 380.3,2414.6 381.3,2412.4 382.3,2414.3 383.3,2414.2 384.3,2412.9 385.3,2414 386.3,2414.1 387.3,2414.6 388.3,2414.6 389.3,2413.4 390.3,2414.2 391.3,2413.4 392.3,2413.9 393.3,2413.7 394.3,2412.5 395.3,2413.6 396.3,2413.4 397.3,2412.7 398.3,2414.4 399.3,2414.4 400.3,2412.6 401.3,2412.8 402.3,2414.2 403.3,2414.3 404.3,2413 405.3,2412.5 406.3,2414.3 407.3,2412.5 408.3,2412.7 409.3,2413.4 410.3,2413.8 411.3,2414.6 412.3,2414.7 413.3,2412.5 414.3,2414.2 415.3,2413.1 416.3,2414.2 417.3,2412.8 418.3,2413.4 419.3,2414.1 420.3,2414.4 421.3,2413.1 422.3,2414.6 423.3,2414.3 424.3,2413.5 425.3,2412.8 426.3,2413.3 427.3,2414.1 428.3,2412.6 429.3,2414.3 430.3,2414.8 431.3,2414.2 432.3,2413.7 433.3,2414.7 434.3,2414.4 435.3,2413.9 436.3,2413.4 437.3,2414.5 438.3,2413.9 439.3,2412.6 440.3,2412.3 441.3,2413.1 442.3,2412.9 443.3,2413.1 444.3,2414 445.3,2414.1 446.3,2413.9 447.3,2411.5 448.3,2411.7 449.3,2410.7 450.3,2412.5 451.3,2410.5 452.3,2410.3 453.3,2409.1 454.3,2409.5 455.3,2407.3 456.3,2408.9 457.3,2407.2 458.3,2406.3 459.3,2405.6 460.3,2405.7 461.3,2405.5 462.3,2405.1 463.3,2404.5 464.3,2405.4 465.3,2404 466.3,2402.6 467.3,2401.7 468.3,2401.6 469.3,2399.4 470.3,2397.8 471.3,2397 472.3,2395.4 473.3,2394.5 474.3,2392.7 475.3,2391.5 476.3,2391.7 477.3,2389.6 478.3,2388.2 479.3,2388.3 480.3,2388.7 481.3,2389.9 482.3,2389.8 483.3,2391.1 484.3,2392.6 485.3,2393.1 486.3,2396.5 487.3,2396.6 488.3,2400.2 489.3,2400.7 490.3,2402.9 491.3,2405.4 492.3,2406.1 493.3,2408.4 494.3,2409.7 495.3,2410.5 496.3,2413.5 497.3,2415.4 498.3,2415.8 499.3,2415.8 500.3,2417.8 501.3,2418.6 502.3,2417.5 503.3,2418.9 504.3,2419.4 505.3,2419.7 506.3,2420 507.3,2420.2 508.3,2420.4 509.3,2420.5 510.3,2420.6 511.3,2420.7 512.3,2420.7 513.3,2420.8 514.3,2420.8 515.3,2420.8 516.3,2420.9 517.3,2420.9 518.3,2420.9 519.3,2420.9 520.3,2420.9 521.3,2420.9 522.3,2420.9 523.3,2420.9 524.3,2420.9 525.3,2420.9 526.3,2420.9 527.3,2420.9 528.3,2420.9 529.3,2420.9 530.3,2420.9 531.3,2420.9 532.3,2420.9 533.3,2420.9 534.3,2420.9 535.3,2420.9 536.3,2420.9" fill="none" stroke="#1a1a1a" stroke-width="1.10" stroke-linejoin="round" stroke-opacity="0.8"/>
</g>
<rect x="219.30" y="2122.00" width="318.90" height="298.90" fill="none" stroke="#000" stroke-width="1.5"/>
<line x1="219.30" y1="2121.50" x2="219.30" y2="2421.40" stroke="#000" stroke-width="1.70"/>
<line x1="218.80" y1="2420.90" x2="538.70" y2="2420.90" stroke="#000" stroke-width="1.80"/>
<line x1="213.80" y1="2122.00" x2="219.30" y2="2122.00" stroke="#000" stroke-width="1.60"/>
<text x="173.31" y="2132.30" font-size="28.00">2.6</text>
<line x1="213.80" y1="2188.90" x2="219.30" y2="2188.90" stroke="#000" stroke-width="1.60"/>
<text x="173.17" y="2199.20" font-size="28.00">2.0</text>
<line x1="213.80" y1="2247.50" x2="219.30" y2="2247.50" stroke="#000" stroke-width="1.60"/>
<text x="173.25" y="2257.80" font-size="28.00">1.5</text>
<line x1="213.80" y1="2305.30" x2="219.30" y2="2305.30" stroke="#000" stroke-width="1.60"/>
<text x="173.17" y="2315.60" font-size="28.00">1.0</text>
<line x1="213.80" y1="2363.50" x2="219.30" y2="2363.50" stroke="#000" stroke-width="1.60"/>
<text x="173.25" y="2373.80" font-size="28.00">0.5</text>
<line x1="213.80" y1="2420.90" x2="219.30" y2="2420.90" stroke="#000" stroke-width="1.60"/>
<text x="196.52" y="2431.20" font-size="28.00">0</text>
<line x1="216.70" y1="2409.30" x2="219.30" y2="2409.30" stroke="#333" stroke-width="1.00"/>
<line x1="216.70" y1="2397.70" x2="219.30" y2="2397.70" stroke="#333" stroke-width="1.00"/>
<line x1="216.70" y1="2386.10" x2="219.30" y2="2386.10" stroke="#333" stroke-width="1.00"/>
<line x1="216.70" y1="2374.50" x2="219.30" y2="2374.50" stroke="#333" stroke-width="1.00"/>
<line x1="216.70" y1="2351.30" x2="219.30" y2="2351.30" stroke="#333" stroke-width="1.00"/>
<line x1="216.70" y1="2339.70" x2="219.30" y2="2339.70" stroke="#333" stroke-width="1.00"/>
<line x1="216.70" y1="2328.10" x2="219.30" y2="2328.10" stroke="#333" stroke-width="1.00"/>
<line x1="216.70" y1="2316.50" x2="219.30" y2="2316.50" stroke="#333" stroke-width="1.00"/>
<line x1="216.70" y1="2293.30" x2="219.30" y2="2293.30" stroke="#333" stroke-width="1.00"/>
<line x1="216.70" y1="2281.70" x2="219.30" y2="2281.70" stroke="#333" stroke-width="1.00"/>
<line x1="216.70" y1="2270.10" x2="219.30" y2="2270.10" stroke="#333" stroke-width="1.00"/>
<line x1="216.70" y1="2258.50" x2="219.30" y2="2258.50" stroke="#333" stroke-width="1.00"/>
<line x1="216.70" y1="2235.30" x2="219.30" y2="2235.30" stroke="#333" stroke-width="1.00"/>
<line x1="216.70" y1="2223.70" x2="219.30" y2="2223.70" stroke="#333" stroke-width="1.00"/>
<line x1="216.70" y1="2212.10" x2="219.30" y2="2212.10" stroke="#333" stroke-width="1.00"/>
<line x1="216.70" y1="2200.50" x2="219.30" y2="2200.50" stroke="#333" stroke-width="1.00"/>
<line x1="216.70" y1="2177.30" x2="219.30" y2="2177.30" stroke="#333" stroke-width="1.00"/>
<line x1="216.70" y1="2165.70" x2="219.30" y2="2165.70" stroke="#333" stroke-width="1.00"/>
<line x1="216.70" y1="2154.10" x2="219.30" y2="2154.10" stroke="#333" stroke-width="1.00"/>
<line x1="216.70" y1="2142.50" x2="219.30" y2="2142.50" stroke="#333" stroke-width="1.00"/>
<line x1="216.70" y1="2130.90" x2="219.30" y2="2130.90" stroke="#333" stroke-width="1.00"/>
<line x1="219.30" y1="2420.90" x2="219.30" y2="2426.40" stroke="#000" stroke-width="1.60"/>
<text x="199.98" y="2451.70" font-size="28.00">5.2</text>
<line x1="262.80" y1="2420.90" x2="262.80" y2="2426.40" stroke="#000" stroke-width="1.60"/>
<text x="255.01" y="2451.70" font-size="28.00">8</text>
<line x1="323.30" y1="2420.90" x2="323.30" y2="2426.40" stroke="#000" stroke-width="1.60"/>
<text x="307.37" y="2451.70" font-size="28.00">12</text>
<line x1="383.80" y1="2420.90" x2="383.80" y2="2426.40" stroke="#000" stroke-width="1.60"/>
<text x="367.78" y="2451.70" font-size="28.00">16</text>
<line x1="444.30" y1="2420.90" x2="444.30" y2="2426.40" stroke="#000" stroke-width="1.60"/>
<text x="428.57" y="2451.70" font-size="28.00">20</text>
<line x1="504.80" y1="2420.90" x2="504.80" y2="2426.40" stroke="#000" stroke-width="1.60"/>
<text x="488.93" y="2451.70" font-size="28.00">24</text>
<line x1="226.50" y1="2420.90" x2="226.50" y2="2423.70" stroke="#333" stroke-width="1.00"/>
<line x1="238.60" y1="2420.90" x2="238.60" y2="2423.70" stroke="#333" stroke-width="1.00"/>
<line x1="250.70" y1="2420.90" x2="250.70" y2="2423.70" stroke="#333" stroke-width="1.00"/>
<line x1="274.90" y1="2420.90" x2="274.90" y2="2423.70" stroke="#333" stroke-width="1.00"/>
<line x1="287.00" y1="2420.90" x2="287.00" y2="2423.70" stroke="#333" stroke-width="1.00"/>
<line x1="299.10" y1="2420.90" x2="299.10" y2="2423.70" stroke="#333" stroke-width="1.00"/>
<line x1="311.20" y1="2420.90" x2="311.20" y2="2423.70" stroke="#333" stroke-width="1.00"/>
<line x1="335.40" y1="2420.90" x2="335.40" y2="2423.70" stroke="#333" stroke-width="1.00"/>
<line x1="347.50" y1="2420.90" x2="347.50" y2="2423.70" stroke="#333" stroke-width="1.00"/>
<line x1="359.60" y1="2420.90" x2="359.60" y2="2423.70" stroke="#333" stroke-width="1.00"/>
<line x1="371.70" y1="2420.90" x2="371.70" y2="2423.70" stroke="#333" stroke-width="1.00"/>
<line x1="395.90" y1="2420.90" x2="395.90" y2="2423.70" stroke="#333" stroke-width="1.00"/>
<line x1="408.00" y1="2420.90" x2="408.00" y2="2423.70" stroke="#333" stroke-width="1.00"/>
<line x1="420.10" y1="2420.90" x2="420.10" y2="2423.70" stroke="#333" stroke-width="1.00"/>
<line x1="432.20" y1="2420.90" x2="432.20" y2="2423.70" stroke="#333" stroke-width="1.00"/>
<line x1="456.40" y1="2420.90" x2="456.40" y2="2423.70" stroke="#333" stroke-width="1.00"/>
<line x1="468.50" y1="2420.90" x2="468.50" y2="2423.70" stroke="#333" stroke-width="1.00"/>
<line x1="480.60" y1="2420.90" x2="480.60" y2="2423.70" stroke="#333" stroke-width="1.00"/>
<line x1="492.70" y1="2420.90" x2="492.70" y2="2423.70" stroke="#333" stroke-width="1.00"/>
<line x1="516.90" y1="2420.90" x2="516.90" y2="2423.70" stroke="#333" stroke-width="1.00"/>
<line x1="529.00" y1="2420.90" x2="529.00" y2="2423.70" stroke="#333" stroke-width="1.00"/>
<text x="227.54" y="2110.70" font-size="27.50">DMSO</text>
<text transform="translate(164.00,2264.50) rotate(-90)" x="-69.76" y="0" font-size="28">Count (10<tspan font-size="13" dy="-13">3</tspan><tspan dy="13">)</tspan></text>
<text x="310.44" y="2484.20" font-size="27.50">PI-A (10<tspan font-size="13" dy="-13">6</tspan><tspan dy="13">)</tspan></text>
<clipPath id="c12"><rect x="652.90" y="2124.70" width="318.10" height="297.70"/></clipPath>
<g clip-path="url(#c12)">
<path d="M747.9,2422.4L747.9,2422.3 748.9,2422.2 749.9,2422.2 750.9,2422.1 751.9,2421.9 752.9,2421.7 753.9,2421.4 754.9,2420.1 755.9,2419.6 756.9,2419 757.9,2418.5 758.9,2417.9 759.9,2417.3 760.9,2416.8 761.9,2416.4 762.9,2416.1 763.9,2415.9 764.9,2415.8 765.9,2415.6 766.9,2415.6 767.9,2415.5 768.9,2415.5 769.9,2415.5 770.9,2415.4 771.9,2415.4 772.9,2415.4 773.9,2415.4 774.9,2415.6 775.9,2416 776.9,2416.3 777.9,2416.5 778.9,2416.6 779.9,2416.6 780.9,2416.7 781.9,2416.7 782.9,2416.7 783.9,2416.7 784.9,2416.7 785.9,2416.7 786.9,2416.7 787.9,2416.7 788.9,2416.7 789.9,2416.7 790.9,2416.7 791.9,2416.7 792.9,2416.7 793.9,2416.7 794.9,2416.7 795.9,2416.7 796.9,2416.7 797.9,2416.7 798.9,2416.7 799.9,2416.7 800.9,2416.7 801.9,2416.7 802.9,2416.7 803.9,2416.7 804.9,2416.7 805.9,2416.7 806.9,2416.7 807.9,2416.7 808.9,2416.7 809.9,2416.7 810.9,2416.7 811.9,2416.7 812.9,2416.7 813.9,2416.7 814.9,2416.7 815.9,2416.7 816.9,2416.7 817.9,2416.7 818.9,2416.7 819.9,2416.7 820.9,2416.7 821.9,2416.7 822.9,2416.7 823.9,2416.7 824.9,2416.7 825.9,2416.7 826.9,2416.7 827.9,2416.7 828.9,2416.7 829.9,2416.7 830.9,2416.7 831.9,2416.7 832.9,2416.7 833.9,2416.7 834.9,2416.7 835.9,2416.7 836.9,2416.7 837.9,2416.7 838.9,2416.7 839.9,2416.7 840.9,2416.7 841.9,2416.7 842.9,2416.7 843.9,2416.7 844.9,2416.7 845.9,2416.7 846.9,2416.7 847.9,2416.7 848.9,2416.7 849.9,2416.7 850.9,2416.7 851.9,2416.7 852.9,2416.7 853.9,2416.7 854.9,2416.7 855.9,2416.7 856.9,2416.7 857.9,2416.7 858.9,2416.7 859.9,2416.7 860.9,2416.7 861.9,2416.7 862.9,2416.7 863.9,2416.7 864.9,2416.7 865.9,2416.7 866.9,2416.7 867.9,2416.7 868.9,2416.7 869.9,2416.6 870.9,2416.6 871.9,2416.5 872.9,2416.5 873.9,2416.4 874.9,2416.2 875.9,2416 876.9,2415.8 877.9,2415.4 878.9,2415.4 879.9,2415.4 880.9,2415.4 881.9,2415.4 882.9,2415.5 883.9,2415.5 884.9,2415.6 885.9,2415.6 886.9,2415.7 887.9,2415.9 888.9,2416.1 889.9,2416.4 890.9,2416.7 891.9,2417.2 892.9,2417.8 893.9,2418.3 894.9,2418.9 895.9,2419.5 896.9,2420 897.9,2420.4 898.9,2421.7 899.9,2421.9 900.9,2422 901.9,2422.2 902.9,2422.2 903.9,2422.3 903.9,2422.4 Z" fill="#dcd87a" stroke="none" stroke-width="1.00"/>
<path d="M725.9,2422.4L725.9,2422.3 726.9,2422.2 727.9,2422 728.9,2421.7 729.9,2421.2 730.9,2420.5 731.9,2419.3 732.9,2417.6 733.9,2415.2 734.9,2411.7 735.9,2406.9 736.9,2400.5 737.9,2392.1 738.9,2381.4 739.9,2368.2 740.9,2352.2 741.9,2333.7 742.9,2312.7 743.9,2289.9 744.9,2265.8 745.9,2241.5 746.9,2218 747.9,2196.7 748.9,2178.7 749.9,2165.2 750.9,2156.9 751.9,2154.5 752.9,2158.1 753.9,2167.5 754.9,2182 755.9,2200.8 756.9,2222.6 757.9,2246.3 758.9,2270.7 759.9,2294.6 760.9,2317.1 761.9,2337.6 762.9,2355.6 763.9,2371 764.9,2383.7 765.9,2393.9 766.9,2401.9 767.9,2408 768.9,2412.5 769.9,2415.7 770.9,2418 771.9,2419.6 772.9,2420.6 773.9,2421.3 774.9,2421.7 775.9,2422 776.9,2422.2 777.9,2422.3 777.9,2422.4 Z" fill="#80dd80" stroke="none" stroke-width="1.00"/>
<path d="M874.9,2422.4L874.9,2422.3 875.9,2422.2 876.9,2422.1 877.9,2422.1 878.9,2421.9 879.9,2421.7 880.9,2421.5 881.9,2421.2 882.9,2420.9 883.9,2420.4 884.9,2419.8 885.9,2419.1 886.9,2418.3 887.9,2417.2 888.9,2416 889.9,2414.6 890.9,2413 891.9,2411.1 892.9,2409.1 893.9,2406.8 894.9,2404.4 895.9,2401.8 896.9,2399 897.9,2396.2 898.9,2393.4 899.9,2390.6 900.9,2387.9 901.9,2385.3 902.9,2383 903.9,2381 904.9,2379.4 905.9,2378.2 906.9,2377.4 907.9,2377.1 908.9,2377.3 909.9,2378 910.9,2379.1 911.9,2380.7 912.9,2382.6 913.9,2384.8 914.9,2387.3 915.9,2390 916.9,2392.8 917.9,2395.6 918.9,2398.5 919.9,2401.2 920.9,2403.9 921.9,2406.4 922.9,2408.7 923.9,2410.7 924.9,2412.6 925.9,2414.3 926.9,2415.7 927.9,2417 928.9,2418.1 929.9,2419 930.9,2419.7 931.9,2420.3 932.9,2420.8 933.9,2421.2 934.9,2421.5 935.9,2421.7 936.9,2421.9 937.9,2422 938.9,2422.1 939.9,2422.2 940.9,2422.3 940.9,2422.4 Z" fill="#80ffff" stroke="none" stroke-width="1.00"/>
<path d="M747.9,2422.4L747.9,2422.3 748.9,2422.2 749.9,2422 750.9,2421.7 751.9,2421.2 752.9,2420.4 753.9,2419.3 754.9,2417.8 755.9,2416 756.9,2413.9 757.9,2411.8 758.9,2409.9 759.9,2408.4 760.9,2407.5 761.9,2407.5 762.9,2408.2 763.9,2409.6 764.9,2411.4 765.9,2413.5 766.9,2415.6 767.9,2417.4 768.9,2419 769.9,2420.2 770.9,2421 771.9,2421.6 772.9,2422 773.9,2422.2 774.9,2422.3 774.9,2422.4 Z" fill="#6ccf3c" stroke="none" stroke-width="1.00"/>
<path d="M872.9,2422.4L872.9,2422.3 873.9,2422.2 874.9,2422.1 875.9,2422 876.9,2421.8 877.9,2421.6 878.9,2421.4 879.9,2421.1 880.9,2420.7 881.9,2420.3 882.9,2419.8 883.9,2419.3 884.9,2418.8 885.9,2418.3 886.9,2417.8 887.9,2417.3 888.9,2417 889.9,2416.7 890.9,2416.5 891.9,2416.4 892.9,2416.4 893.9,2416.6 894.9,2416.9 895.9,2417.3 896.9,2417.7 897.9,2418.2 898.9,2418.7 899.9,2419.2 900.9,2419.7 901.9,2420.2 902.9,2420.6 903.9,2421 904.9,2421.3 905.9,2421.6 906.9,2421.8 907.9,2421.9 908.9,2422.1 909.9,2422.2 910.9,2422.2 911.9,2422.3 911.9,2422.4 Z" fill="#78ecc0" stroke="none" stroke-width="1.00"/>
<path d="M653.9,2422.4 654.9,2422.4 655.9,2422.4 656.9,2422.4 657.9,2422.4 658.9,2422.4 659.9,2422.4 660.9,2422.4 661.9,2422.4 662.9,2422.4 663.9,2422.4 664.9,2422.4 665.9,2422.4 666.9,2422.4 667.9,2422.4 668.9,2422.4 669.9,2422.4 670.9,2422.4 671.9,2422.4 672.9,2422.4 673.9,2422.4 674.9,2422.4 675.9,2422.4 676.9,2422.4 677.9,2422.4 678.9,2422.4 679.9,2422.4 680.9,2422.4 681.9,2422.4 682.9,2422.4 683.9,2422.4 684.9,2422.4 685.9,2422.4 686.9,2422.4 687.9,2422.4 688.9,2422.4 689.9,2422.4 690.9,2422.4 691.9,2422.4 692.9,2422.4 693.9,2422.4 694.9,2422.4 695.9,2422.4 696.9,2422.4 697.9,2422.4 698.9,2422.4 699.9,2422.4 700.9,2422.4 701.9,2422.4 702.9,2422.4 703.9,2422.4 704.9,2422.4 705.9,2422.4 706.9,2422.4 707.9,2422.4 708.9,2422.4 709.9,2422.4 710.9,2422.4 711.9,2422.4 712.9,2422.4 713.9,2422.4 714.9,2422.4 715.9,2422.4 716.9,2422.4 717.9,2422.4 718.9,2422.4 719.9,2422.4 720.9,2422.4 721.9,2422.4 722.9,2422.4 723.9,2422.3 724.9,2422.3 725.9,2422.2 726.9,2422 727.9,2421.7 728.9,2421.3 729.9,2420.7 730.9,2419.7 731.9,2418.2 732.9,2416.1 733.9,2413.1 734.9,2409.1 735.9,2403.6 736.9,2396.4 737.9,2387.2 738.9,2375.7 739.9,2361.8 740.9,2345.5 741.9,2326.7 742.9,2305.8 743.9,2283.3 744.9,2259.9 745.9,2236.5 746.9,2214.1 747.9,2193.8 748.9,2176.8 749.9,2163.8 750.9,2155.7 751.9,2152.8 752.9,2155.2 753.9,2162.5 754.9,2174.3 755.9,2189.6 756.9,2207.7 757.9,2227.7 758.9,2248.6 759.9,2269.8 760.9,2290.7 761.9,2310.7 762.9,2329.5 763.9,2346.5 764.9,2361.6 765.9,2374.6 766.9,2385.3 767.9,2393.9 768.9,2400.6 769.9,2405.6 770.9,2409.3 771.9,2411.8 772.9,2413.5 773.9,2414.6 774.9,2415.3 775.9,2415.7 776.9,2416 777.9,2416.2 778.9,2416.3 779.9,2416.3 780.9,2416.4 781.9,2416.4 782.9,2416.4 783.9,2416.4 784.9,2416.4 785.9,2416.4 786.9,2416.4 787.9,2416.4 788.9,2416.4 789.9,2416.4 790.9,2416.4 791.9,2416.4 792.9,2416.4 793.9,2416.4 794.9,2416.4 795.9,2416.4 796.9,2416.4 797.9,2416.4 798.9,2416.4 799.9,2416.4 800.9,2416.4 801.9,2416.4 802.9,2416.4 803.9,2416.4 804.9,2416.4 805.9,2416.4 806.9,2416.4 807.9,2416.4 808.9,2416.4 809.9,2416.4 810.9,2416.4 811.9,2416.4 812.9,2416.4 813.9,2416.4 814.9,2416.4 815.9,2416.4 816.9,2416.4 817.9,2416.4 818.9,2416.4 819.9,2416.4 820.9,2416.4 821.9,2416.4 822.9,2416.4 823.9,2416.4 824.9,2416.4 825.9,2416.4 826.9,2416.4 827.9,2416.4 828.9,2416.4 829.9,2416.4 830.9,2416.4 831.9,2416.4 832.9,2416.4 833.9,2416.4 834.9,2416.4 835.9,2416.4 836.9,2416.4 837.9,2416.4 838.9,2416.4 839.9,2416.4 840.9,2416.4 841.9,2416.4 842.9,2416.4 843.9,2416.4 844.9,2416.4 845.9,2416.4 846.9,2416.4 847.9,2416.4 848.9,2416.4 849.9,2416.4 850.9,2416.4 851.9,2416.4 852.9,2416.4 853.9,2416.4 854.9,2416.4 855.9,2416.4 856.9,2416.4 857.9,2416.4 858.9,2416.4 859.9,2416.4 860.9,2416.4 861.9,2416.4 862.9,2416.4 863.9,2416.4 864.9,2416.4 865.9,2416.4 866.9,2416.4 867.9,2416.4 868.9,2416.4 869.9,2416.3 870.9,2416.3 871.9,2416.2 872.9,2416.2 873.9,2416.1 874.9,2415.9 875.9,2415.7 876.9,2415.5 877.9,2415.1 878.9,2414.7 879.9,2414.2 880.9,2413.6 881.9,2412.8 882.9,2411.9 883.9,2410.9 884.9,2409.8 885.9,2408.5 886.9,2407.1 887.9,2405.7 888.9,2404.2 889.9,2402.7 890.9,2401.1 891.9,2399.6 892.9,2398 893.9,2396.5 894.9,2394.8 895.9,2393.1 896.9,2391.3 897.9,2389.4 898.9,2387.4 899.9,2385.4 900.9,2383.5 901.9,2381.6 902.9,2379.9 903.9,2378.4 904.9,2377.2 905.9,2376.3 906.9,2375.8 907.9,2375.7 908.9,2376 909.9,2376.8 910.9,2377.9 911.9,2379.5 912.9,2381.4 913.9,2383.5 914.9,2386 915.9,2388.6 916.9,2391.3 917.9,2394.1 918.9,2396.9 919.9,2399.6 920.9,2402.3 921.9,2404.8 922.9,2407.2 923.9,2409.3 924.9,2411.3 925.9,2413.1 926.9,2414.7 927.9,2416 928.9,2417.2 929.9,2418.2 930.9,2419 931.9,2419.7 932.9,2420.3 933.9,2420.8 934.9,2421.2 935.9,2421.5 936.9,2421.7 937.9,2421.9 938.9,2422 939.9,2422.1 940.9,2422.2 941.9,2422.3 942.9,2422.3 943.9,2422.3 944.9,2422.3 945.9,2422.4 946.9,2422.4 947.9,2422.4 948.9,2422.4 949.9,2422.4 950.9,2422.4 951.9,2422.4 952.9,2422.4 953.9,2422.4 954.9,2422.4 955.9,2422.4 956.9,2422.4 957.9,2422.4 958.9,2422.4 959.9,2422.4 960.9,2422.4 961.9,2422.4 962.9,2422.4 963.9,2422.4 964.9,2422.4 965.9,2422.4 966.9,2422.4 967.9,2422.4 968.9,2422.4 969.9,2422.4" fill="none" stroke="#e030e0" stroke-width="1.50" stroke-linejoin="round"/>
<path d="M653.9,2422.4 654.9,2422.4 655.9,2422.4 656.9,2422.4 657.9,2422.4 658.9,2422.4 659.9,2422.4 660.9,2422.4 661.9,2422.4 662.9,2422.4 663.9,2422.4 664.9,2422.4 665.9,2422.4 666.9,2422.4 667.9,2422.4 668.9,2422.4 669.9,2422.4 670.9,2422.4 671.9,2422.4 672.9,2422.4 673.9,2422.4 674.9,2422.4 675.9,2422.4 676.9,2422.4 677.9,2422.4 678.9,2422.4 679.9,2422.4 680.9,2422.4 681.9,2422.4 682.9,2422.4 683.9,2422.4 684.9,2422.4 685.9,2422.4 686.9,2422.4 687.9,2422.4 688.9,2422.4 689.9,2422.4 690.9,2422.4 691.9,2422.4 692.9,2422.4 693.9,2422.4 694.9,2422.4 695.9,2422.4 696.9,2422.4 697.9,2422.4 698.9,2422.4 699.9,2422.4 700.9,2422.4 701.9,2422.4 702.9,2422.4 703.9,2422.4 704.9,2422.4 705.9,2422.4 706.9,2422.4 707.9,2422.4 708.9,2422.4 709.9,2422.4 710.9,2422.4 711.9,2422.4 712.9,2422.4 713.9,2422.4 714.9,2422.4 715.9,2422.4 716.9,2422.4 717.9,2422.4 718.9,2422.4 719.9,2422.4 720.9,2422.4 721.9,2422.4 722.9,2422.3 723.9,2422.2 724.9,2422 725.9,2421.7 726.9,2421 727.9,2420.1 728.9,2418.1 729.9,2416 730.9,2414.7 731.9,2412.2 732.9,2408.1 733.9,2404.8 734.9,2399.1 735.9,2393.7 736.9,2386.4 737.9,2376.5 738.9,2363.6 739.9,2349.4 740.9,2330.6 741.9,2310.9 742.9,2286.9 743.9,2265.6 744.9,2240.3 745.9,2219.5 746.9,2197.3 747.9,2180.4 748.9,2166.5 749.9,2156.4 750.9,2154.6 751.9,2156.1 752.9,2160.8 753.9,2173 754.9,2189.1 755.9,2204.8 756.9,2224.6 757.9,2247.3 758.9,2267.5 759.9,2288.6 760.9,2307.7 761.9,2325.3 762.9,2343.2 763.9,2356.9 764.9,2371.6 765.9,2382.5 766.9,2390.2 767.9,2398.5 768.9,2404 769.9,2407.7 770.9,2410.9 771.9,2413.2 772.9,2415.4 773.9,2414.5 774.9,2414.5 775.9,2414.8 776.9,2415.8 777.9,2416.6 778.9,2416.7 779.9,2415.9 780.9,2416 781.9,2417.3 782.9,2417 783.9,2416.7 784.9,2416.4 785.9,2415.7 786.9,2416.4 787.9,2417.5 788.9,2415.6 789.9,2416.6 790.9,2416.4 791.9,2417.1 792.9,2416.6 793.9,2416.7 794.9,2415.7 795.9,2417.4 796.9,2416.3 797.9,2417.2 798.9,2415.9 799.9,2417.5 800.9,2416.9 801.9,2416.8 802.9,2416.1 803.9,2417.5 804.9,2416.5 805.9,2417.1 806.9,2416.9 807.9,2416.5 808.9,2415.3 809.9,2416.4 810.9,2415.3 811.9,2417.2 812.9,2415.4 813.9,2416.7 814.9,2417.1 815.9,2415.8 816.9,2415.4 817.9,2417.6 818.9,2417 819.9,2415.8 820.9,2416.8 821.9,2417 822.9,2417.6 823.9,2417.5 824.9,2416.1 825.9,2415.2 826.9,2415.2 827.9,2416.4 828.9,2417.5 829.9,2416.8 830.9,2415.7 831.9,2415.6 832.9,2416.1 833.9,2417 834.9,2416.3 835.9,2416.5 836.9,2416.1 837.9,2417 838.9,2415.3 839.9,2415.5 840.9,2417.2 841.9,2416.9 842.9,2415.5 843.9,2416.9 844.9,2415.3 845.9,2416.4 846.9,2415.9 847.9,2415.9 848.9,2417.1 849.9,2416.9 850.9,2417 851.9,2416 852.9,2415.9 853.9,2417.3 854.9,2415.5 855.9,2416.6 856.9,2417 857.9,2416.6 858.9,2415.2 859.9,2416.3 860.9,2416.1 861.9,2415.4 862.9,2415.3 863.9,2415.8 864.9,2416.6 865.9,2416.2 866.9,2415.4 867.9,2415.7 868.9,2416.2 869.9,2416.7 870.9,2416.6 871.9,2415.7 872.9,2416 873.9,2417.3 874.9,2415.5 875.9,2414.8 876.9,2414.9 877.9,2414.4 878.9,2414 879.9,2414.4 880.9,2413.3 881.9,2413.6 882.9,2413.5 883.9,2412 884.9,2411.2 885.9,2408.6 886.9,2408.1 887.9,2407.2 888.9,2405.8 889.9,2405.8 890.9,2403.5 891.9,2401.9 892.9,2401.4 893.9,2400.5 894.9,2398.7 895.9,2397.5 896.9,2394.9 897.9,2394.4 898.9,2392.6 899.9,2390 900.9,2387 901.9,2384.7 902.9,2382.9 903.9,2380.3 904.9,2380 905.9,2379.3 906.9,2377.1 907.9,2376.4 908.9,2376.7 909.9,2375.6 910.9,2376.9 911.9,2378 912.9,2379.1 913.9,2379.4 914.9,2383.6 915.9,2385.1 916.9,2387.8 917.9,2390.6 918.9,2392.9 919.9,2396.2 920.9,2397.3 921.9,2401 922.9,2403.1 923.9,2406.8 924.9,2408.4 925.9,2410.1 926.9,2411.4 927.9,2414.5 928.9,2415.5 929.9,2415.8 930.9,2416.9 931.9,2419.3 932.9,2419.3 933.9,2419.4 934.9,2420.6 935.9,2421 936.9,2421.3 937.9,2421.6 938.9,2421.8 939.9,2421.9 940.9,2422.1 941.9,2422.2 942.9,2422.2 943.9,2422.3 944.9,2422.3 945.9,2422.3 946.9,2422.4 947.9,2422.4 948.9,2422.4 949.9,2422.4 950.9,2422.4 951.9,2422.4 952.9,2422.4 953.9,2422.4 954.9,2422.4 955.9,2422.4 956.9,2422.4 957.9,2422.4 958.9,2422.4 959.9,2422.4 960.9,2422.4 961.9,2422.4 962.9,2422.4 963.9,2422.4 964.9,2422.4 965.9,2422.4 966.9,2422.4 967.9,2422.4 968.9,2422.4 969.9,2422.4" fill="none" stroke="#1a1a1a" stroke-width="1.10" stroke-linejoin="round" stroke-opacity="0.8"/>
</g>
<rect x="652.90" y="2124.70" width="318.10" height="297.70" fill="none" stroke="#000" stroke-width="1.5"/>
<line x1="652.90" y1="2124.20" x2="652.90" y2="2422.90" stroke="#000" stroke-width="1.70"/>
<line x1="652.40" y1="2422.40" x2="971.50" y2="2422.40" stroke="#000" stroke-width="1.80"/>
<line x1="647.40" y1="2124.70" x2="652.90" y2="2124.70" stroke="#000" stroke-width="1.60"/>
<text x="603.95" y="2135.00" font-size="28.00">2.5</text>
<line x1="647.40" y1="2185.90" x2="652.90" y2="2185.90" stroke="#000" stroke-width="1.60"/>
<text x="603.87" y="2196.20" font-size="28.00">2.0</text>
<line x1="647.40" y1="2244.70" x2="652.90" y2="2244.70" stroke="#000" stroke-width="1.60"/>
<text x="603.95" y="2255.00" font-size="28.00">1.5</text>
<line x1="647.40" y1="2304.50" x2="652.90" y2="2304.50" stroke="#000" stroke-width="1.60"/>
<text x="603.87" y="2314.80" font-size="28.00">1.0</text>
<line x1="647.40" y1="2363.30" x2="652.90" y2="2363.30" stroke="#000" stroke-width="1.60"/>
<text x="603.95" y="2373.60" font-size="28.00">0.5</text>
<line x1="647.40" y1="2422.40" x2="652.90" y2="2422.40" stroke="#000" stroke-width="1.60"/>
<text x="627.22" y="2432.70" font-size="28.00">0</text>
<line x1="650.30" y1="2410.58" x2="652.90" y2="2410.58" stroke="#333" stroke-width="1.00"/>
<line x1="650.30" y1="2398.75" x2="652.90" y2="2398.75" stroke="#333" stroke-width="1.00"/>
<line x1="650.30" y1="2386.93" x2="652.90" y2="2386.93" stroke="#333" stroke-width="1.00"/>
<line x1="650.30" y1="2375.10" x2="652.90" y2="2375.10" stroke="#333" stroke-width="1.00"/>
<line x1="650.30" y1="2351.45" x2="652.90" y2="2351.45" stroke="#333" stroke-width="1.00"/>
<line x1="650.30" y1="2339.62" x2="652.90" y2="2339.62" stroke="#333" stroke-width="1.00"/>
<line x1="650.30" y1="2327.80" x2="652.90" y2="2327.80" stroke="#333" stroke-width="1.00"/>
<line x1="650.30" y1="2315.97" x2="652.90" y2="2315.97" stroke="#333" stroke-width="1.00"/>
<line x1="650.30" y1="2292.33" x2="652.90" y2="2292.33" stroke="#333" stroke-width="1.00"/>
<line x1="650.30" y1="2280.50" x2="652.90" y2="2280.50" stroke="#333" stroke-width="1.00"/>
<line x1="650.30" y1="2268.68" x2="652.90" y2="2268.68" stroke="#333" stroke-width="1.00"/>
<line x1="650.30" y1="2256.85" x2="652.90" y2="2256.85" stroke="#333" stroke-width="1.00"/>
<line x1="650.30" y1="2233.20" x2="652.90" y2="2233.20" stroke="#333" stroke-width="1.00"/>
<line x1="650.30" y1="2221.38" x2="652.90" y2="2221.38" stroke="#333" stroke-width="1.00"/>
<line x1="650.30" y1="2209.55" x2="652.90" y2="2209.55" stroke="#333" stroke-width="1.00"/>
<line x1="650.30" y1="2197.72" x2="652.90" y2="2197.72" stroke="#333" stroke-width="1.00"/>
<line x1="650.30" y1="2174.08" x2="652.90" y2="2174.08" stroke="#333" stroke-width="1.00"/>
<line x1="650.30" y1="2162.25" x2="652.90" y2="2162.25" stroke="#333" stroke-width="1.00"/>
<line x1="650.30" y1="2150.43" x2="652.90" y2="2150.43" stroke="#333" stroke-width="1.00"/>
<line x1="650.30" y1="2138.60" x2="652.90" y2="2138.60" stroke="#333" stroke-width="1.00"/>
<line x1="650.30" y1="2126.78" x2="652.90" y2="2126.78" stroke="#333" stroke-width="1.00"/>
<line x1="652.90" y1="2422.40" x2="652.90" y2="2427.90" stroke="#000" stroke-width="1.60"/>
<text x="633.58" y="2453.20" font-size="28.00">5.2</text>
<line x1="697.40" y1="2422.40" x2="697.40" y2="2427.90" stroke="#000" stroke-width="1.60"/>
<text x="689.61" y="2453.20" font-size="28.00">8</text>
<line x1="757.90" y1="2422.40" x2="757.90" y2="2427.90" stroke="#000" stroke-width="1.60"/>
<text x="741.97" y="2453.20" font-size="28.00">12</text>
<line x1="818.40" y1="2422.40" x2="818.40" y2="2427.90" stroke="#000" stroke-width="1.60"/>
<text x="802.38" y="2453.20" font-size="28.00">16</text>
<line x1="878.90" y1="2422.40" x2="878.90" y2="2427.90" stroke="#000" stroke-width="1.60"/>
<text x="863.17" y="2453.20" font-size="28.00">20</text>
<line x1="939.40" y1="2422.40" x2="939.40" y2="2427.90" stroke="#000" stroke-width="1.60"/>
<text x="923.53" y="2453.20" font-size="28.00">24</text>
<line x1="661.10" y1="2422.40" x2="661.10" y2="2425.20" stroke="#333" stroke-width="1.00"/>
<line x1="673.20" y1="2422.40" x2="673.20" y2="2425.20" stroke="#333" stroke-width="1.00"/>
<line x1="685.30" y1="2422.40" x2="685.30" y2="2425.20" stroke="#333" stroke-width="1.00"/>
<line x1="709.50" y1="2422.40" x2="709.50" y2="2425.20" stroke="#333" stroke-width="1.00"/>
<line x1="721.60" y1="2422.40" x2="721.60" y2="2425.20" stroke="#333" stroke-width="1.00"/>
<line x1="733.70" y1="2422.40" x2="733.70" y2="2425.20" stroke="#333" stroke-width="1.00"/>
<line x1="745.80" y1="2422.40" x2="745.80" y2="2425.20" stroke="#333" stroke-width="1.00"/>
<line x1="770.00" y1="2422.40" x2="770.00" y2="2425.20" stroke="#333" stroke-width="1.00"/>
<line x1="782.10" y1="2422.40" x2="782.10" y2="2425.20" stroke="#333" stroke-width="1.00"/>
<line x1="794.20" y1="2422.40" x2="794.20" y2="2425.20" stroke="#333" stroke-width="1.00"/>
<line x1="806.30" y1="2422.40" x2="806.30" y2="2425.20" stroke="#333" stroke-width="1.00"/>
<line x1="830.50" y1="2422.40" x2="830.50" y2="2425.20" stroke="#333" stroke-width="1.00"/>
<line x1="842.60" y1="2422.40" x2="842.60" y2="2425.20" stroke="#333" stroke-width="1.00"/>
<line x1="854.70" y1="2422.40" x2="854.70" y2="2425.20" stroke="#333" stroke-width="1.00"/>
<line x1="866.80" y1="2422.40" x2="866.80" y2="2425.20" stroke="#333" stroke-width="1.00"/>
<line x1="891.00" y1="2422.40" x2="891.00" y2="2425.20" stroke="#333" stroke-width="1.00"/>
<line x1="903.10" y1="2422.40" x2="903.10" y2="2425.20" stroke="#333" stroke-width="1.00"/>
<line x1="915.20" y1="2422.40" x2="915.20" y2="2425.20" stroke="#333" stroke-width="1.00"/>
<line x1="927.30" y1="2422.40" x2="927.30" y2="2425.20" stroke="#333" stroke-width="1.00"/>
<line x1="951.50" y1="2422.40" x2="951.50" y2="2425.20" stroke="#333" stroke-width="1.00"/>
<line x1="963.60" y1="2422.40" x2="963.60" y2="2425.20" stroke="#333" stroke-width="1.00"/>
<text x="665.54" y="2112.00" font-size="27.50">Luminespib 50 nM</text>
<text transform="translate(593.80,2265.60) rotate(-90)" x="-69.76" y="0" font-size="28">Count (10<tspan font-size="13" dy="-13">3</tspan><tspan dy="13">)</tspan></text>
<text x="741.74" y="2485.70" font-size="27.50">PI-A (10<tspan font-size="13" dy="-13">6</tspan><tspan dy="13">)</tspan></text>
<path d="M1112.75,130.42 V123.02 M1104.95,123.02 H1120.55" stroke="#000" stroke-width="2.3" stroke-linecap="round" fill="none"/>
<rect x="1099.80" y="131.62" width="25.90" height="211.18" fill="#01659e" stroke="#000" stroke-width="2.4"/>
<path d="M1151.00,273.61 V266.02 M1143.20,266.02 H1158.80" stroke="#000" stroke-width="2.3" stroke-linecap="round" fill="none"/>
<rect x="1138.10" y="274.81" width="25.80" height="67.99" fill="#f5a0b5" stroke="#000" stroke-width="2.4"/>
<path d="M1197.50,249.93 V243.27 M1189.70,243.27 H1205.30" stroke="#000" stroke-width="2.3" stroke-linecap="round" fill="none"/>
<rect x="1184.60" y="251.13" width="25.80" height="91.67" fill="#01659e" stroke="#000" stroke-width="2.4"/>
<path d="M1234.05,281.38 V269.91 M1226.25,269.91 H1241.85" stroke="#000" stroke-width="2.3" stroke-linecap="round" fill="none"/>
<rect x="1221.30" y="282.58" width="25.50" height="60.22" fill="#f5a0b5" stroke="#000" stroke-width="2.4"/>
<path d="M1284.00,283.97 V283.23 M1276.20,283.23 H1291.80" stroke="#000" stroke-width="2.3" stroke-linecap="round" fill="none"/>
<rect x="1270.80" y="285.17" width="26.40" height="57.63" fill="#01659e" stroke="#000" stroke-width="2.4"/>
<path d="M1320.45,109.70 V93.05 M1312.65,93.05 H1328.25" stroke="#000" stroke-width="2.3" stroke-linecap="round" fill="none"/>
<rect x="1307.50" y="110.90" width="25.90" height="231.90" fill="#f5a0b5" stroke="#000" stroke-width="2.4"/>
<line x1="1081.40" y1="46.00" x2="1081.40" y2="343.60" stroke="#000" stroke-width="2.00"/>
<line x1="1077.50" y1="342.80" x2="1351.00" y2="342.80" stroke="#000" stroke-width="2.00"/>
<line x1="1076.20" y1="342.80" x2="1081.40" y2="342.80" stroke="#000" stroke-width="1.80"/>
<text x="1058.72" y="352.40" font-size="28.00">0</text>
<line x1="1076.20" y1="268.80" x2="1081.40" y2="268.80" stroke="#000" stroke-width="1.80"/>
<text x="1043.15" y="278.40" font-size="28.00">20</text>
<line x1="1076.20" y1="194.80" x2="1081.40" y2="194.80" stroke="#000" stroke-width="1.80"/>
<text x="1043.15" y="204.40" font-size="28.00">40</text>
<line x1="1076.20" y1="120.80" x2="1081.40" y2="120.80" stroke="#000" stroke-width="1.80"/>
<text x="1043.15" y="130.40" font-size="28.00">60</text>
<line x1="1076.20" y1="46.80" x2="1081.40" y2="46.80" stroke="#000" stroke-width="1.80"/>
<text x="1043.15" y="56.40" font-size="28.00">80</text>
<text x="1115.14" y="374.40" font-size="27.50">G1</text>
<text x="1207.04" y="374.40" font-size="27.50">S</text>
<text x="1270.12" y="374.40" font-size="27.50">G2/M</text>
<path d="M1112.70,111.00 L1112.70,104.50 L1150.60,104.50 L1150.60,111.00" fill="none" stroke="#000" stroke-width="2.40"/>
<text x="1117.24" y="110.00" font-size="37" stroke="#000" stroke-width="0.6">**</text>
<path d="M1197.00,230.00 L1197.00,223.50 L1235.00,223.50 L1235.00,230.00" fill="none" stroke="#000" stroke-width="2.40"/>
<text x="1201.59" y="229.00" font-size="37" stroke="#000" stroke-width="0.6">**</text>
<path d="M1282.00,83.40 L1282.00,76.90 L1320.00,76.90 L1320.00,83.40" fill="none" stroke="#000" stroke-width="2.40"/>
<text x="1286.59" y="82.40" font-size="37" stroke="#000" stroke-width="0.6">**</text>
<text transform="translate(1026.30,204.30) rotate(-90)" x="-99.33" y="0" font-size="27.50">Cell number (%)</text>
<path d="M1114.20,502.34 V487.54 M1106.40,487.54 H1122.00" stroke="#000" stroke-width="2.3" stroke-linecap="round" fill="none"/>
<rect x="1102.00" y="503.54" width="24.40" height="254.56" fill="#01659e" stroke="#000" stroke-width="2.4"/>
<path d="M1151.40,661.50 V655.21 M1143.60,655.21 H1159.20" stroke="#000" stroke-width="2.3" stroke-linecap="round" fill="none"/>
<rect x="1139.70" y="662.70" width="23.40" height="95.40" fill="#f5a0b5" stroke="#000" stroke-width="2.4"/>
<path d="M1199.80,691.85 V679.63 M1192.00,679.63 H1207.60" stroke="#000" stroke-width="2.3" stroke-linecap="round" fill="none"/>
<rect x="1187.40" y="693.05" width="24.80" height="65.05" fill="#01659e" stroke="#000" stroke-width="2.4"/>
<path d="M1235.90,697.77 V694.44 M1228.10,694.44 H1243.70" stroke="#000" stroke-width="2.3" stroke-linecap="round" fill="none"/>
<rect x="1223.60" y="698.97" width="24.60" height="59.13" fill="#f5a0b5" stroke="#000" stroke-width="2.4"/>
<path d="M1285.25,719.61 V715.17 M1277.45,715.17 H1293.05" stroke="#000" stroke-width="2.3" stroke-linecap="round" fill="none"/>
<rect x="1272.70" y="720.81" width="25.10" height="37.29" fill="#01659e" stroke="#000" stroke-width="2.4"/>
<path d="M1320.90,555.27 V546.76 M1313.10,546.76 H1328.70" stroke="#000" stroke-width="2.3" stroke-linecap="round" fill="none"/>
<rect x="1308.30" y="556.47" width="25.20" height="201.63" fill="#f5a0b5" stroke="#000" stroke-width="2.4"/>
<line x1="1081.40" y1="461.20" x2="1081.40" y2="758.90" stroke="#000" stroke-width="2.00"/>
<line x1="1077.50" y1="758.10" x2="1351.00" y2="758.10" stroke="#000" stroke-width="2.00"/>
<line x1="1076.20" y1="758.10" x2="1081.40" y2="758.10" stroke="#000" stroke-width="1.80"/>
<text x="1058.72" y="767.70" font-size="28.00">0</text>
<line x1="1076.20" y1="684.08" x2="1081.40" y2="684.08" stroke="#000" stroke-width="1.80"/>
<text x="1043.15" y="693.68" font-size="28.00">20</text>
<line x1="1076.20" y1="610.05" x2="1081.40" y2="610.05" stroke="#000" stroke-width="1.80"/>
<text x="1043.15" y="619.65" font-size="28.00">40</text>
<line x1="1076.20" y1="536.02" x2="1081.40" y2="536.02" stroke="#000" stroke-width="1.80"/>
<text x="1043.15" y="545.62" font-size="28.00">60</text>
<line x1="1076.20" y1="462.00" x2="1081.40" y2="462.00" stroke="#000" stroke-width="1.80"/>
<text x="1043.15" y="471.60" font-size="28.00">80</text>
<text x="1115.14" y="788.70" font-size="27.50">G1</text>
<text x="1207.04" y="788.70" font-size="27.50">S</text>
<text x="1270.12" y="788.70" font-size="27.50">G2/M</text>
<path d="M1112.70,476.30 L1112.70,469.80 L1150.80,469.80 L1150.80,476.30" fill="none" stroke="#000" stroke-width="2.40"/>
<text x="1117.34" y="475.30" font-size="37" stroke="#000" stroke-width="0.6">**</text>
<path d="M1282.60,533.20 L1282.60,526.70 L1320.60,526.70 L1320.60,533.20" fill="none" stroke="#000" stroke-width="2.40"/>
<text x="1287.19" y="532.20" font-size="37" stroke="#000" stroke-width="0.6">**</text>
<text transform="translate(1027.00,603.80) rotate(-90)" x="-99.33" y="0" font-size="27.50">Cell number (%)</text>
<path d="M1114.20,934.23 V927.15 M1106.40,927.15 H1122.00" stroke="#000" stroke-width="2.3" stroke-linecap="round" fill="none"/>
<rect x="1102.00" y="935.43" width="24.40" height="238.77" fill="#01659e" stroke="#000" stroke-width="2.4"/>
<path d="M1151.40,1085.89 V1075.45 M1143.60,1075.45 H1159.20" stroke="#000" stroke-width="2.3" stroke-linecap="round" fill="none"/>
<rect x="1139.70" y="1087.09" width="23.40" height="87.11" fill="#f5a0b5" stroke="#000" stroke-width="2.4"/>
<path d="M1199.80,1105.64 V1100.05 M1192.00,1100.05 H1207.60" stroke="#000" stroke-width="2.3" stroke-linecap="round" fill="none"/>
<rect x="1187.40" y="1106.84" width="24.80" height="67.36" fill="#01659e" stroke="#000" stroke-width="2.4"/>
<path d="M1235.90,1123.52 V1117.56 M1228.10,1117.56 H1243.70" stroke="#000" stroke-width="2.3" stroke-linecap="round" fill="none"/>
<rect x="1223.60" y="1124.72" width="24.60" height="49.48" fill="#f5a0b5" stroke="#000" stroke-width="2.4"/>
<path d="M1285.25,1116.82 V1110.85 M1277.45,1110.85 H1293.05" stroke="#000" stroke-width="2.3" stroke-linecap="round" fill="none"/>
<rect x="1272.70" y="1118.02" width="25.10" height="56.18" fill="#01659e" stroke="#000" stroke-width="2.4"/>
<path d="M1320.90,947.27 V934.23 M1313.10,934.23 H1328.70" stroke="#000" stroke-width="2.3" stroke-linecap="round" fill="none"/>
<rect x="1308.30" y="948.47" width="25.20" height="225.73" fill="#f5a0b5" stroke="#000" stroke-width="2.4"/>
<line x1="1081.40" y1="875.30" x2="1081.40" y2="1175.00" stroke="#000" stroke-width="2.00"/>
<line x1="1077.50" y1="1174.20" x2="1351.00" y2="1174.20" stroke="#000" stroke-width="2.00"/>
<line x1="1076.20" y1="1174.20" x2="1081.40" y2="1174.20" stroke="#000" stroke-width="1.80"/>
<text x="1058.72" y="1183.80" font-size="28.00">0</text>
<line x1="1076.20" y1="1099.67" x2="1081.40" y2="1099.67" stroke="#000" stroke-width="1.80"/>
<text x="1043.15" y="1109.27" font-size="28.00">20</text>
<line x1="1076.20" y1="1025.15" x2="1081.40" y2="1025.15" stroke="#000" stroke-width="1.80"/>
<text x="1043.15" y="1034.75" font-size="28.00">40</text>
<line x1="1076.20" y1="950.62" x2="1081.40" y2="950.62" stroke="#000" stroke-width="1.80"/>
<text x="1043.15" y="960.23" font-size="28.00">60</text>
<line x1="1076.20" y1="876.10" x2="1081.40" y2="876.10" stroke="#000" stroke-width="1.80"/>
<text x="1043.15" y="885.70" font-size="28.00">80</text>
<text x="1115.14" y="1208.10" font-size="27.50">G1</text>
<text x="1207.04" y="1208.10" font-size="27.50">S</text>
<text x="1270.12" y="1208.10" font-size="27.50">G2/M</text>
<path d="M1112.70,916.30 L1112.70,909.80 L1151.20,909.80 L1151.20,916.30" fill="none" stroke="#000" stroke-width="2.40"/>
<text x="1117.54" y="915.30" font-size="37" stroke="#000" stroke-width="0.6">**</text>
<path d="M1199.00,1090.40 L1199.00,1083.90 L1236.30,1083.90 L1236.30,1090.40" fill="none" stroke="#000" stroke-width="2.40"/>
<text x="1203.24" y="1089.40" font-size="37" stroke="#000" stroke-width="0.6">**</text>
<path d="M1283.00,917.90 L1283.00,911.40 L1321.40,911.40 L1321.40,917.90" fill="none" stroke="#000" stroke-width="2.40"/>
<text x="1287.79" y="916.90" font-size="37" stroke="#000" stroke-width="0.6">**</text>
<text transform="translate(1026.30,1018.80) rotate(-90)" x="-99.33" y="0" font-size="27.50">Cell number (%)</text>
<path d="M1114.20,1336.18 V1332.83 M1106.40,1332.83 H1122.00" stroke="#000" stroke-width="2.3" stroke-linecap="round" fill="none"/>
<rect x="1102.00" y="1337.38" width="24.40" height="254.42" fill="#01659e" stroke="#000" stroke-width="2.4"/>
<path d="M1151.40,1352.57 V1345.87 M1143.60,1345.87 H1159.20" stroke="#000" stroke-width="2.3" stroke-linecap="round" fill="none"/>
<rect x="1139.70" y="1353.77" width="23.40" height="238.03" fill="#f59c6e" stroke="#000" stroke-width="2.4"/>
<path d="M1199.80,1526.22 V1523.24 M1192.00,1523.24 H1207.60" stroke="#000" stroke-width="2.3" stroke-linecap="round" fill="none"/>
<rect x="1187.40" y="1527.42" width="24.80" height="64.38" fill="#01659e" stroke="#000" stroke-width="2.4"/>
<path d="M1235.90,1522.86 V1521.37 M1228.10,1521.37 H1243.70" stroke="#000" stroke-width="2.3" stroke-linecap="round" fill="none"/>
<rect x="1223.60" y="1524.06" width="24.60" height="67.74" fill="#f59c6e" stroke="#000" stroke-width="2.4"/>
<path d="M1285.25,1545.22 V1541.12 M1277.45,1541.12 H1293.05" stroke="#000" stroke-width="2.3" stroke-linecap="round" fill="none"/>
<rect x="1272.70" y="1546.42" width="25.10" height="45.38" fill="#01659e" stroke="#000" stroke-width="2.4"/>
<path d="M1320.90,1532.18 V1526.22 M1313.10,1526.22 H1328.70" stroke="#000" stroke-width="2.3" stroke-linecap="round" fill="none"/>
<rect x="1308.30" y="1533.38" width="25.20" height="58.42" fill="#f59c6e" stroke="#000" stroke-width="2.4"/>
<line x1="1081.40" y1="1292.90" x2="1081.40" y2="1592.60" stroke="#000" stroke-width="2.00"/>
<line x1="1077.50" y1="1591.80" x2="1351.00" y2="1591.80" stroke="#000" stroke-width="2.00"/>
<line x1="1076.20" y1="1591.80" x2="1081.40" y2="1591.80" stroke="#000" stroke-width="1.80"/>
<text x="1058.72" y="1601.40" font-size="28.00">0</text>
<line x1="1076.20" y1="1517.28" x2="1081.40" y2="1517.28" stroke="#000" stroke-width="1.80"/>
<text x="1043.15" y="1526.88" font-size="28.00">20</text>
<line x1="1076.20" y1="1442.75" x2="1081.40" y2="1442.75" stroke="#000" stroke-width="1.80"/>
<text x="1043.15" y="1452.35" font-size="28.00">40</text>
<line x1="1076.20" y1="1368.22" x2="1081.40" y2="1368.22" stroke="#000" stroke-width="1.80"/>
<text x="1043.15" y="1377.82" font-size="28.00">60</text>
<line x1="1076.20" y1="1293.70" x2="1081.40" y2="1293.70" stroke="#000" stroke-width="1.80"/>
<text x="1043.15" y="1303.30" font-size="28.00">80</text>
<text x="1115.14" y="1620.40" font-size="27.50">G1</text>
<text x="1207.04" y="1620.40" font-size="27.50">S</text>
<text x="1270.12" y="1620.40" font-size="27.50">G2/M</text>
<path d="M1112.70,1323.00 L1112.70,1316.50 L1151.20,1316.50 L1151.20,1323.00" fill="none" stroke="#000" stroke-width="2.40"/>
<text x="1117.54" y="1322.00" font-size="37" stroke="#000" stroke-width="0.6">**</text>
<path d="M1283.00,1514.00 L1283.00,1507.50 L1321.40,1507.50 L1321.40,1514.00" fill="none" stroke="#000" stroke-width="2.40"/>
<text x="1287.79" y="1513.00" font-size="37" stroke="#000" stroke-width="0.6">**</text>
<text transform="translate(1026.30,1435.00) rotate(-90)" x="-99.33" y="0" font-size="27.50">Cell number (%)</text>
<path d="M1114.20,1740.41 V1731.51 M1106.40,1731.51 H1122.00" stroke="#000" stroke-width="2.3" stroke-linecap="round" fill="none"/>
<rect x="1102.00" y="1741.61" width="24.40" height="261.19" fill="#01659e" stroke="#000" stroke-width="2.4"/>
<path d="M1151.40,1745.24 V1738.19 M1143.60,1738.19 H1159.20" stroke="#000" stroke-width="2.3" stroke-linecap="round" fill="none"/>
<rect x="1139.70" y="1746.44" width="23.40" height="256.36" fill="#f59c6e" stroke="#000" stroke-width="2.4"/>
<path d="M1199.80,1935.63 V1930.43 M1192.00,1930.43 H1207.60" stroke="#000" stroke-width="2.3" stroke-linecap="round" fill="none"/>
<rect x="1187.40" y="1936.83" width="24.80" height="65.97" fill="#01659e" stroke="#000" stroke-width="2.4"/>
<path d="M1235.90,1951.96 V1940.82 M1228.10,1940.82 H1243.70" stroke="#000" stroke-width="2.3" stroke-linecap="round" fill="none"/>
<rect x="1223.60" y="1953.16" width="24.60" height="49.64" fill="#f59c6e" stroke="#000" stroke-width="2.4"/>
<path d="M1285.25,1964.95 V1959.75 M1277.45,1959.75 H1293.05" stroke="#000" stroke-width="2.3" stroke-linecap="round" fill="none"/>
<rect x="1272.70" y="1966.15" width="25.10" height="36.65" fill="#01659e" stroke="#000" stroke-width="2.4"/>
<path d="M1320.90,1942.31 V1936.37 M1313.10,1936.37 H1328.70" stroke="#000" stroke-width="2.3" stroke-linecap="round" fill="none"/>
<rect x="1308.30" y="1943.51" width="25.20" height="59.29" fill="#f59c6e" stroke="#000" stroke-width="2.4"/>
<line x1="1081.40" y1="1705.10" x2="1081.40" y2="2003.60" stroke="#000" stroke-width="2.00"/>
<line x1="1077.50" y1="2002.80" x2="1351.00" y2="2002.80" stroke="#000" stroke-width="2.00"/>
<line x1="1076.20" y1="2002.80" x2="1081.40" y2="2002.80" stroke="#000" stroke-width="1.80"/>
<text x="1058.72" y="2012.40" font-size="28.00">0</text>
<line x1="1076.20" y1="1928.58" x2="1081.40" y2="1928.58" stroke="#000" stroke-width="1.80"/>
<text x="1043.15" y="1938.17" font-size="28.00">20</text>
<line x1="1076.20" y1="1854.35" x2="1081.40" y2="1854.35" stroke="#000" stroke-width="1.80"/>
<text x="1043.15" y="1863.95" font-size="28.00">40</text>
<line x1="1076.20" y1="1780.12" x2="1081.40" y2="1780.12" stroke="#000" stroke-width="1.80"/>
<text x="1043.15" y="1789.72" font-size="28.00">60</text>
<line x1="1076.20" y1="1705.90" x2="1081.40" y2="1705.90" stroke="#000" stroke-width="1.80"/>
<text x="1043.15" y="1715.50" font-size="28.00">80</text>
<text x="1115.14" y="2034.30" font-size="27.50">G1</text>
<text x="1207.04" y="2034.30" font-size="27.50">S</text>
<text x="1270.12" y="2034.30" font-size="27.50">G2/M</text>
<path d="M1197.80,1914.70 L1197.80,1908.20 L1235.90,1908.20 L1235.90,1914.70" fill="none" stroke="#000" stroke-width="2.40"/>
<text x="1209.64" y="1913.70" font-size="37" stroke="#000" stroke-width="0.6">*</text>
<path d="M1283.00,1921.40 L1283.00,1914.90 L1321.40,1914.90 L1321.40,1921.40" fill="none" stroke="#000" stroke-width="2.40"/>
<text x="1287.79" y="1920.40" font-size="37" stroke="#000" stroke-width="0.6">**</text>
<text transform="translate(1026.30,1847.80) rotate(-90)" x="-99.33" y="0" font-size="27.50">Cell number (%)</text>
<path d="M1114.20,2177.02 V2166.25 M1106.40,2166.25 H1122.00" stroke="#000" stroke-width="2.3" stroke-linecap="round" fill="none"/>
<rect x="1102.00" y="2178.22" width="24.40" height="242.88" fill="#01659e" stroke="#000" stroke-width="2.4"/>
<path d="M1151.40,2186.68 V2182.60 M1143.60,2182.60 H1159.20" stroke="#000" stroke-width="2.3" stroke-linecap="round" fill="none"/>
<rect x="1139.70" y="2187.88" width="23.40" height="233.22" fill="#f59c6e" stroke="#000" stroke-width="2.4"/>
<path d="M1199.80,2356.46 V2346.80 M1192.00,2346.80 H1207.60" stroke="#000" stroke-width="2.3" stroke-linecap="round" fill="none"/>
<rect x="1187.40" y="2357.66" width="24.80" height="63.44" fill="#01659e" stroke="#000" stroke-width="2.4"/>
<path d="M1235.90,2359.43 V2354.60 M1228.10,2354.60 H1243.70" stroke="#000" stroke-width="2.3" stroke-linecap="round" fill="none"/>
<rect x="1223.60" y="2360.63" width="24.60" height="60.47" fill="#f59c6e" stroke="#000" stroke-width="2.4"/>
<path d="M1285.25,2362.77 V2357.57 M1277.45,2357.57 H1293.05" stroke="#000" stroke-width="2.3" stroke-linecap="round" fill="none"/>
<rect x="1272.70" y="2363.97" width="25.10" height="57.13" fill="#01659e" stroke="#000" stroke-width="2.4"/>
<path d="M1320.90,2350.89 V2346.43 M1313.10,2346.43 H1328.70" stroke="#000" stroke-width="2.3" stroke-linecap="round" fill="none"/>
<rect x="1308.30" y="2352.09" width="25.20" height="69.01" fill="#f59c6e" stroke="#000" stroke-width="2.4"/>
<line x1="1081.40" y1="2123.10" x2="1081.40" y2="2421.90" stroke="#000" stroke-width="2.00"/>
<line x1="1077.50" y1="2421.10" x2="1351.00" y2="2421.10" stroke="#000" stroke-width="2.00"/>
<line x1="1076.20" y1="2421.10" x2="1081.40" y2="2421.10" stroke="#000" stroke-width="1.80"/>
<text x="1058.72" y="2430.70" font-size="28.00">0</text>
<line x1="1076.20" y1="2346.80" x2="1081.40" y2="2346.80" stroke="#000" stroke-width="1.80"/>
<text x="1043.15" y="2356.40" font-size="28.00">20</text>
<line x1="1076.20" y1="2272.50" x2="1081.40" y2="2272.50" stroke="#000" stroke-width="1.80"/>
<text x="1043.15" y="2282.10" font-size="28.00">40</text>
<line x1="1076.20" y1="2198.20" x2="1081.40" y2="2198.20" stroke="#000" stroke-width="1.80"/>
<text x="1043.15" y="2207.80" font-size="28.00">60</text>
<line x1="1076.20" y1="2123.90" x2="1081.40" y2="2123.90" stroke="#000" stroke-width="1.80"/>
<text x="1043.15" y="2133.50" font-size="28.00">80</text>
<text x="1115.14" y="2452.10" font-size="27.50">G1</text>
<text x="1207.04" y="2452.10" font-size="27.50">S</text>
<text x="1270.12" y="2452.10" font-size="27.50">G2/M</text>
<path d="M1282.20,2334.40 L1282.20,2327.90 L1320.60,2327.90 L1320.60,2334.40" fill="none" stroke="#000" stroke-width="2.40"/>
<text x="1286.99" y="2333.40" font-size="37" stroke="#000" stroke-width="0.6">**</text>
<text transform="translate(1026.30,2264.80) rotate(-90)" x="-99.33" y="0" font-size="27.50">Cell number (%)</text>
<rect x="1338.20" y="4.20" width="23.20" height="22.50" fill="#01659e" stroke="#000" stroke-width="2"/>
<rect x="1338.20" y="43.40" width="23.20" height="22.40" fill="#f5a0b5" stroke="#000" stroke-width="2"/>
<text x="1369.34" y="24.20" font-size="27.50">DMSO</text>
<text x="1369.34" y="64.00" font-size="27.50">Filanesib 10 nM</text>
<rect x="1335.40" y="1252.80" width="23.30" height="22.90" fill="#01659e" stroke="#000" stroke-width="2"/>
<rect x="1335.40" y="1294.00" width="23.30" height="22.60" fill="#f59c6e" stroke="#000" stroke-width="2"/>
<text x="1371.54" y="1273.20" font-size="27.50">DMSO</text>
<text x="1371.54" y="1311.70" font-size="27.50">Luminespib 50 nM</text>
<rect x="416.10" y="54.50" width="27.40" height="27.20" fill="#80dd80" stroke="#000" stroke-width="2"/>
<text x="452.79" y="78.10" font-size="26.00">G0/G1</text>
<rect x="416.10" y="93.40" width="27.40" height="27.30" fill="#dcd87a" stroke="#000" stroke-width="2"/>
<text x="452.92" y="116.90" font-size="26.00">S</text>
<rect x="416.10" y="131.60" width="27.40" height="27.20" fill="#80ffff" stroke="#000" stroke-width="2"/>
<text x="452.79" y="155.10" font-size="26.00">G2/M</text>
</svg>
</body></html>
